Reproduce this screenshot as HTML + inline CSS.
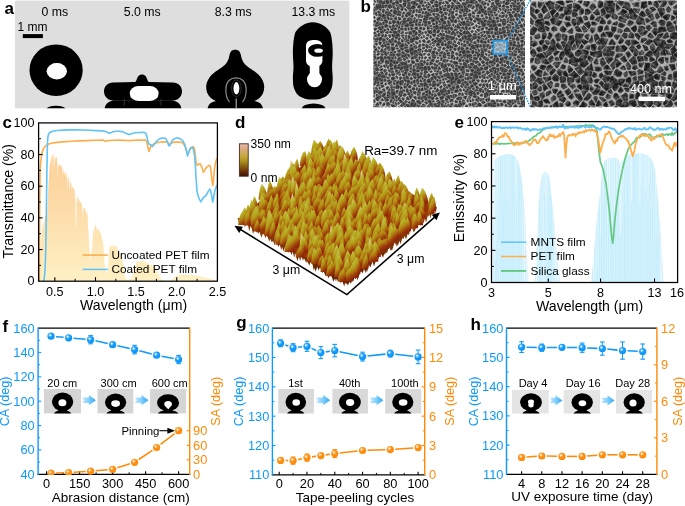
<!DOCTYPE html>
<html><head><meta charset="utf-8"><title>Figure</title>
<style>
html,body{margin:0;padding:0;background:#fff;}
body{width:685px;height:506px;overflow:hidden;}
svg{display:block;font-family:"Liberation Sans", sans-serif;will-change:transform;}
</style></head>
<body>
<svg width="685" height="506" viewBox="0 0 685 506">
<defs>
<filter id="blur04" x="-20%" y="-20%" width="140%" height="140%"><feGaussianBlur stdDeviation="0.4"/></filter>
<filter id="blur09" x="-20%" y="-20%" width="140%" height="140%"><feGaussianBlur stdDeviation="0.9"/></filter>
<filter id="blur06" x="-20%" y="-20%" width="140%" height="140%"><feGaussianBlur stdDeviation="0.6"/></filter>
</defs>
<rect x="0" y="0" width="685" height="506" fill="#fff"/>
<clipPath id="clipA"><rect x="14.9" y="0" width="334.4" height="108.3"/></clipPath>
<rect x="14.9" y="0.6" width="334.4" height="107.7" fill="#dedede" />
<g clip-path="url(#clipA)">
<ellipse cx="56.1" cy="70.2" rx="26.6" ry="25.8" fill="#000"/>
<g filter="url(#blur06)"><ellipse cx="56.8" cy="71.3" rx="10.2" ry="8.2" fill="#fff"/><ellipse cx="56.5" cy="65.4" rx="4.2" ry="2.4" fill="#fff" opacity="0.7"/></g>
<ellipse cx="56" cy="110.3" rx="10.5" ry="4.6" fill="#000" filter="url(#blur04)"/>
<path d="M113,82.4 L135,82 C137.3,81.8 136.2,74.5 142,74.5 C147.8,74.5 146.7,81.8 149,82 L173,82.4 C178,82.4 182,86 182,91.3 C182,96.5 178,100.6 173,100.6 L113,100.6 C108,100.6 104,96.5 104,91.3 C104,86 108,82.4 113,82.4Z" fill="#000"/>
<path d="M104.6,109 C105,104.5 108,101.3 114,100.3 L172,100.3 C178,101.3 181,104.5 181.4,109Z" fill="#000"/>
<rect x="129.8" y="86.1" width="28.8" height="14.8" rx="8.5" ry="7.2" fill="#fff" filter="url(#blur06)"/>
<line x1="124.3" y1="99" x2="124.3" y2="105.5" stroke="#666" stroke-width="0.5" />
<line x1="161" y1="99" x2="161" y2="105.5" stroke="#666" stroke-width="0.5" />
<path d="M235.2,49.4C235.77,49.6 237.7,49.83 238.6,50.6C239.5,51.37 240.07,52.63 240.6,54C241.13,55.37 241.18,57.23 241.8,58.8C242.42,60.37 243.02,61.87 244.3,63.4C245.58,64.93 247.55,66.48 249.5,68C251.45,69.52 254.03,70.83 256,72.5C257.97,74.17 259.95,75.88 261.3,78C262.65,80.12 263.77,82.78 264.1,85.2C264.43,87.62 264.07,90.37 263.3,92.5C262.53,94.63 261.05,96.55 259.5,98C257.95,99.45 254.92,100.67 254,101.2L216.4,101.2C215.48,100.67 212.45,99.45 210.9,98C209.35,96.55 207.87,94.63 207.1,92.5C206.33,90.37 205.97,87.62 206.3,85.2C206.63,82.78 207.75,80.12 209.1,78C210.45,75.88 212.43,74.17 214.4,72.5C216.37,70.83 218.95,69.52 220.9,68C222.85,66.48 224.82,64.93 226.1,63.4C227.38,61.87 227.98,60.37 228.6,58.8C229.22,57.23 229.27,55.37 229.8,54C230.33,52.63 230.9,51.37 231.8,50.6C232.7,49.83 234.63,49.6 235.2,49.4Z" fill="#000"/>
<path d="M207.5,109 C208,104.5 211,101.8 216,101 L254.5,101 C259.5,101.8 262.5,104.5 263,109Z" fill="#000"/>
<path d="M229.5,102 C225,97 224.5,85 229,80.5 C232.5,77 239.5,77 243,80.5 C247.5,85 247,97 242.5,102" fill="none" stroke="#fff" stroke-width="1.2" opacity="0.55" filter="url(#blur06)"/>
<ellipse cx="236.4" cy="88.3" rx="2.9" ry="6.2" fill="#fff" filter="url(#blur06)"/>
<ellipse cx="236.4" cy="88.3" rx="4.8" ry="8.4" fill="none" stroke="#fff" stroke-width="0.6" opacity="0.3"/>
<line x1="236.2" y1="98.5" x2="236.2" y2="108.3" stroke="#ddd" stroke-width="0.9" />
<path d="M312.8,22.2C314.73,22.2 316.63,22.62 318.6,23.3C320.57,23.98 322.9,25.13 324.6,26.3C326.3,27.47 327.75,28.92 328.8,30.3C329.85,31.68 330.32,32.35 330.9,34.6C331.48,36.85 332,40.57 332.3,43.8C332.6,47.03 332.73,50.17 332.7,54C332.67,57.83 332.1,62.75 332.1,66.8C332.1,70.85 332.77,74.78 332.7,78.3C332.63,81.82 332.6,85.07 331.7,87.9C330.8,90.73 329.17,93.5 327.3,95.3C325.43,97.1 322.92,97.98 320.5,98.7C318.08,99.42 314.08,99.45 312.8,99.6C311.52,99.75 314.08,99.75 312.8,99.6C311.52,99.45 307.52,99.42 305.1,98.7C302.68,97.98 300.17,97.1 298.3,95.3C296.43,93.5 294.8,90.73 293.9,87.9C293,85.07 292.97,81.82 292.9,78.3C292.83,74.78 293.5,70.85 293.5,66.8C293.5,62.75 292.93,57.83 292.9,54C292.87,50.17 293,47.03 293.3,43.8C293.6,40.57 294.12,36.85 294.7,34.6C295.28,32.35 295.75,31.68 296.8,30.3C297.85,28.92 299.3,27.47 301,26.3C302.7,25.13 305.03,23.98 307,23.3C308.97,22.62 310.87,22.2 312.8,22.2Z" fill="#000"/>
<g filter="url(#blur06)">
<rect x="306" y="40" width="16.4" height="26.6" rx="6.5" ry="5.5" fill="#fff"/>
<rect x="309.8" y="60" width="9.6" height="15" fill="#fff"/>
<ellipse cx="314.5" cy="79.4" rx="7.5" ry="7.8" fill="#fff"/>
</g>
<g filter="url(#blur04)"><ellipse cx="317.3" cy="50.4" rx="9.2" ry="6.4" fill="#000"/><ellipse cx="318.6" cy="50.7" rx="4.3" ry="2.1" fill="#fff"/></g>
<ellipse cx="313.6" cy="109" rx="11.8" ry="5.6" fill="#000" filter="url(#blur04)"/>
</g>
<rect x="22.8" y="34.1" width="20.1" height="4" fill="#000" />
<text x="32.4" y="31.3" font-size="12" fill="#000" text-anchor="middle" font-weight="normal" >1 mm</text>
<text x="54.9" y="15.6" font-size="12.3" fill="#000" text-anchor="middle" font-weight="normal" >0 ms</text>
<text x="142.3" y="15.6" font-size="12.3" fill="#000" text-anchor="middle" font-weight="normal" >5.0 ms</text>
<text x="233.1" y="15.6" font-size="12.3" fill="#000" text-anchor="middle" font-weight="normal" >8.3 ms</text>
<text x="313.4" y="15.6" font-size="12.3" fill="#000" text-anchor="middle" font-weight="normal" >13.3 ms</text>
<text x="4.4" y="14" font-size="17" fill="#000" text-anchor="start" font-weight="bold" >a</text>
<filter id="grainL" x="0" y="0" width="100%" height="100%" color-interpolation-filters="sRGB">
<feTurbulence type="fractalNoise" baseFrequency="0.55" numOctaves="2" seed="5"/>
<feColorMatrix type="matrix" values="0 0 0 0 1  0 0 0 0 1  0 0 0 0 1  1.6 0 0 0 -0.45"/></filter>
<filter id="grainR" x="0" y="0" width="100%" height="100%" color-interpolation-filters="sRGB">
<feTurbulence type="fractalNoise" baseFrequency="0.22" numOctaves="3" seed="9"/>
<feColorMatrix type="matrix" values="0 0 0 0 1  0 0 0 0 1  0 0 0 0 1  2.2 0 0 0 -0.75"/></filter>
<clipPath id="clipBL"><rect x="373.4" y="0" width="151.6" height="107.2"/></clipPath>
<clipPath id="clipBR"><rect x="530.2" y="0.5" width="146.8" height="106.8"/></clipPath>
<g clip-path="url(#clipBL)">
<rect x="373.4" y="0" width="151.6" height="107.2" fill="#c4c4c4" />
<path d="M408.2,-2.7l-1.1,.2l-.7,-.9l1.3,-1.7l2,1l-.2,.2zM412.9,-1.1l.9,-1.4l-1.1,-2.3l-.3,.2l-.3,.2l-.9,.6l.2,.3l.8,2.9l.4,-.3zM433.6,-3.1l2.5,3.3l.6,-.9l.2,-.6l.2,-2.6l-.2,-.7l-3,-.2l-.1,1.3zM441.2,-4.5l-.7,.6l1.6,1.4l.9,.1l.3,-.5zM450.5,-4.9l-.8,0l-1.1,1.6l.6,1.4l2.1,.3l.4,.4l.1,-2.6zM461.6,-2.4l-1,0l-2.2,-2.4l0,-.2l3.5,-.6l.2,2.8zM478.1,-2l1.1,-.9l.2,-.5l-2.1,-1.2l-1.1,1.2zM483.9,-.8l-.7,-2.6l-.4,-1.2l-1,.5l-.9,1l-.3,.4l2,2.2l.8,-.3zM491.9,-2.9l-.4,-2.7l-2.8,.6l-.4,1.5l1.2,1.1l1.9,-.6zM498.3,-1.8l1.8,.6l2.6,-2.1l-.7,-1.1l-2.4,-1.2zM510,-1.8l-2.4,-1.4l1.5,-1.8l3,1.7l.6,.4l-.1,.1zM520,-2.3l-1.3,-.4l1.5,-1.7l2.9,.4l.5,1.1l-.4,1.3zM372.5,-2.9l.3,1.6l-2.9,.8l-2,-1.1l.8,-.8l.4,-2l3.8,.3zM375.8,-1.7l-2.1,-.6l0,.9l-.2,.1l1.6,.4zM379.1,-1.8l-.3,-.5l-.8,.1l-.6,.7l-.6,1.1l.3,2.4l.6,.7l1.7,-3.7zM384,-.7l-1.7,.9l-1.5,-1.4l-.3,-1.1l2.7,-.8zM386.8,-1l.6,-1.8l-2.7,-1.7l-.4,1.4l.8,1.9l.5,.6zM389.6,-3.4l-1.2,.6l-.4,2l1.2,.2l2.2,-1.2l-.3,-.7l-.7,-.6zM394.2,.6l-1,-.2l-.7,-1.8l.2,-.8l.6,.2l.5,.1l.7,2zM395.9,.6l-.8,-2.6l1.4,.2l1.3,1.5l.4,.6zM398.9,-1.1l-1.4,-1.6l.8,-1.1l.3,-.3l1.6,1.5l-.1,.5zM402.4,-1.1l3.6,.9l.1,-1.8l-1.1,-1l-1.3,-.8l-.7,.1l-.7,1.2l-.9,.8zM408.3,-2.1l-1.3,.7l-.3,1.5l.5,1.7l1.8,-.5l1.5,-.6zM409.4,-1.8l1.5,1.6l.6,0l-1.1,-2.8zM414.8,-.3l.3,-1.8l3.4,-.7l-.2,.7l.2,.1l-3.3,2.7zM416.6,1.8l-.7,-.8l2.4,-2l-1.2,3.1zM424,.2l.2,.4l1.6,-3.5l-1.6,-1.7l-2.6,3.1l.1,.5zM426.6,-2l.9,-.5l1.2,.3l-.1,.2l.3,2.1l-1,.2l-.5,.6l-1.7,-.9zM432.5,-2.8l-1,3l-2.1,-.1l-.1,-2.5l3.6,-1.4zM433.2,-2.5l-1.6,3.1l2.2,1.2l1.5,-1.7zM439.2,-3.8l-1.2,-.1l.2,2.1l3,-.6zM441.7,-1.6l-3.5,1l-.1,.5l1.4,.9l2,0l1.1,-.6l-.4,-1.3zM444.7,-2l-.4,.4l.1,1.4l.5,.1l1.7,0l1.5,-1.4l-.8,-1.4l-2.7,.4zM450,2.2l1.2,-1.7l0,-.6l-2,-1l-1.2,1.8zM455.6,-4.2l.5,.1l-.4,2.7l-2.4,-.3l-.1,-1.9zM460.1,-1.9l-2.5,-2.7l-.9,.5l-.4,3.2l.7,1l.4,.1zM461.5,-.8l-.8,-.3l-1.7,1.4l2.1,1.5l.7,-.2zM463,-1.2l.2,2l1,.2l.7,-1l.4,-1.5l-.1,-.2l-2,-.1zM466.5,-1.5l1.8,.6l.8,.7l-.5,2.2l-2.6,-1.6zM469.3,-1.4l.7,.7l1.9,.1l1.3,-1.3l-3.1,-.8zM477,-1.3l-1.9,-1.2l-.4,0l-.1,.7l1.1,1.2l.8,-.1zM478.5,-.8l1.5,-1.5l1.9,2.4l-2.2,2.4l-.4,-.3l-1.4,-2zM484.3,-.6l-.5,-3l2,1.2zM486.7,1l.2,.1l1.5,-2.2l-.3,0l-.8,-1.5l-1.1,.8l-1.3,1.4l-.1,.4l.6,.5l.2,0zM492.2,-1.2l-1.8,.2l0,.3l1.4,1.5l1.8,.3l-.2,-.7zM493.4,-2.3l2.1,-1l.6,1.6l-1.7,1.5l-1,-1.9zM495.2,2.8l-.1,-1.4l-.5,-.7l2.2,-2.1l1.1,.3l1.7,.7l0,.2l-.8,1.9zM501,-.7l-.2,-.1l2.3,-1.9l.1,.3l1,.3l-.1,.9l-1.9,1.3zM509.1,-1.1l-1.8,-1.8l-2,.7l.3,1.2l.4,2.1l3.5,.8zM510.1,-.3l0,1.8l.4,.3l.4,-.1l1.3,-2.9zM513.4,-2.5l.1,.3l.1,.1l1.5,.1l-.4,.5l-1.3,2.4l-1.4,.1zM516.9,1.2l1.9,0l-.4,-2.7l-.5,-.4l-1.6,-.2l-.4,.2l.4,.5zM520.7,1.7l-.7,-.4l0,-2.3l2.7,.3l0,1.3zM525.1,.9l2.3,-1.2l-.9,-1.5l-1.3,-.5l-.4,.1l-.8,1l.3,1.5zM372.6,1.8l0,-2.5l-.1,0l-1.8,.5l.5,2.2zM376,2.8l-.3,-.3l-1.9,-.4l-.1,-2.3l1.7,.9zM381.2,3.7l.3,-.1l.8,-2.3l-2.1,-2.1l-1.9,4.3l.3,.1zM383.8,4.3l-1.8,-.5l.7,-2.3l1.8,-1l.6,.3l.4,2.8zM387.9,4.2l1.4,-.6l-.1,-.1l-.5,-2.8l-1.2,-.9l-1.7,.3l.4,3.5zM392.4,1.9l-.7,-3l-2.4,1.9l.8,2.2l.7,.4zM394.7,4.9l.4,-.7l-.5,-1.9l-1.7,0l-1.2,1.5l.7,1zM394.9,2l1.3,1.9l1.9,.4l1.1,-.9l-.9,-2.5l-2.6,.3zM399.9,2.5l1.3,.1l.9,-.8l-.7,-1.8l-.5,-.5l-1.6,.8l-.1,.4zM403.7,2l2.5,0l.3,0l-.4,-1.5l-3.3,-.6zM411.6,4.2l-1.3,-2.1l1.1,-.5l.6,-.2l.4,-.1l-.1,2.5zM412.9,5l-.1,-4.2l.9,.4l1.2,-.1l1.4,1.3l-1.5,2.9zM420.8,-.7l-.4,-.3l-1,-.6l-.1,.1l-1.2,3l1.1,.7zM419.6,3.4l-.3,0l2.1,-3.7l1.9,1.6l-.8,1.7l-1.2,1.5zM424.6,1.5l.2,.1l1.4,.5l.2,.7l-1.2,.8l-1.4,-.7zM430.1,5.2l.9,-.4l-2.4,-2.4l-1,-.3l0,1.2l.7,1.7l2,.7zM431.6,3.9l-2,-2.2l.7,-.4l1.3,-.3l1.8,1.1l-.4,1l-.1,.6zM437.9,1.6l-1.1,-1.1l-.6,.5l-1.4,.9l-.1,1l3.2,.4zM440.8,5.3l-1.6,.5l-.4,-1.9l.1,-2l2.8,-.1l-.8,3.1zM442.4,4l.2,-1.9l1,-.9l.2,.8l.8,1.4l-1.4,.6zM446,3.3l-1.1,-2l2.5,0l1.4,1.7l.1,.3l-1.8,1.1zM454.3,5l-2.6,-.8l-.4,-.6l-.2,-.3l1,-1.6l2.1,2.1l.1,.6zM455.3,-.3l-2.4,.1l-.2,0l-.2,.7l2.8,2.7l1,-2.9zM456.8,4.2l3.7,-.4l-.5,-.7l-2.4,-1.7l-.4,-.5l-.8,2.7l0,.7zM462.5,2.6l-.3,.8l-.1,.6l-.2,0l1.1,1l2.9,.2l1.1,-.8l-2.9,-2.1zM466.1,1.2l2.6,1.5l.2,.3l-1.7,.9l-2.1,-1.8zM472,-.6l-2,1l-1.2,2.3l.8,.2l1.2,.4l2.1,.5l.8,.2l.1,-.5zM475.6,.4l-1.8,1.7l-1.6,-2.6l1.2,-1.2l.2,.4zM477,1l.6,1.8l-2.8,1.2l-.5,-.4l0,-.3l1.5,-2.2zM483.5,.7l-1,.2l-2.2,2.1l.8,.5l.8,1.1l1.7,-3zM486.4,2.7l-.5,1.9l-1.3,.5l.6,-2.9zM490.9,1.7l-1.7,-1.9l-1.1,1.9l1.3,.8zM494.1,3.4l-.1,-.3l-.1,-.9l-1.7,.2l-1.1,.8l.3,1.6l2.8,-1.4zM496.5,4.8l-1.1,-1.3l.3,-.3l3,-.9l2,1.3l-4,1.9zM500.9,3l1,.8l-.2,-.3l-.1,-1.8l-1.2,-.7l-.7,1.1zM502.8,3.6l1.3,-.3l1,-1.8l-.6,-1.1l-1.8,1zM509.6,2.9l.1,.3l-1.1,1.4l-2.2,.6l-2.1,-1.1l2,-2.4l2.9,.7zM511.3,2.9l-.7,.2l1.9,1.7l2.6,-1.3l.1,-.2l-2,-.9l-1.6,.1zM516.3,3.3l-2.7,-1.4l1.9,-3l.9,3.8zM520.1,2.5l-1.1,-.2l-2,.7l-.3,.4l.2,.2l.5,1.5l2.5,-1.5zM522.3,4.7l.7,.3l1.3,-1.9l0,-.6l-.8,-1l-2.2,1.4l-.3,.7l.8,1.3zM527.5,3.8l2,-1.6l.1,-1.5l-1.1,.1l-2.5,1.2l.2,.5zM370.8,6.8l1.5,-.5l2.2,-1.6l.5,-.6l-2.3,-1.1l-1.5,.5l-.5,.1l-.1,2.8l.5,-.1zM375.7,10l-.4,-3.8l-1.6,1.6l1.9,2.2zM381.1,4.5l.5,3.8l-3.2,.5l-.5,-4.7zM385.4,8.2l-.4,-.2l-.6,-3l1.4,-.3l1.8,.1l-1,2.2zM389.8,8.6l.5,.3l-.8,-4.7l-1.2,1.1l-.9,2.2zM393.4,8.4l-.2,-.1l-.8,-2.8l2.1,.3l.1,.2zM396.6,6.5l1.2,-1.2l0,-.2l-1.7,-.3l-.3,.5l-.2,.3zM399.2,5.3l-.5,-.4l1,-1l1.5,.4l2.4,3.4l-3.2,-.5zM402.7,4.1l.6,-1.4l3.4,-.2l-.4,1.1l-.7,2.7l0,.2l-1.5,.7l-.1,0zM410.3,6.1l-2.6,-1.8l-.8,2.1l3.2,.2zM411.3,6.2l-3.9,-2.9l0,-.5l-.1,-.3l2.1,-.6l1.4,3.4zM416.5,6.1l-1.2,-1l1.4,-1.9l.5,-.2l1,.8l.3,0zM417.2,7l1.8,-2.5l2,.9l-.2,1.6l-1,1.2l-1.3,0l-1.4,-.6zM421.9,5.4l1.2,-1.8l1.2,1.7l.2,1.7l-2.1,-.4l-.3,.1zM425.6,6.5l.1,-1.2l1.2,-1.3l.4,1.4l-1.2,1.9zM429.8,6.4l-1.7,-.5l-1.6,1.9l.6,1l2.3,-1.2zM434.7,7l.3,.1l-1.5,-2.1l-1.3,.5l-.5,.6l1.7,1.6zM434.4,4.7l-.4,-1l4.1,.5l.6,2l-.7,.8l-2.2,0zM443.5,6.8l-.5,-1.2l-1.1,.2l-.2,.2l1.2,1.7zM444.8,6.6l1.4,-.1l.3,-1.1l-1.3,-1l-1.1,1.1zM450.3,5.1l-.7,-.8l-2.3,1l.1,1.5l-.3,1l1.8,.4l1.2,-.9zM454.4,6.1l-2,2.3l-1.5,-1l.4,-2.5l3.3,.7zM459.6,8.4l.5,-.5l.6,-3l.2,-.3l-3.9,.7zM463.1,8.2l-.3,-2.7l-1.3,-.7l-.7,3.3l2.3,.5zM466.1,7.3l.5,-.1l-.2,-1.2l-2.8,-.4l.7,2.4zM467.3,5.7l.2,-1l1.2,-.6l1.5,-.2l-.8,3.7l-1,-.2l-.9,-.6zM472.6,4.8l-2,-.6l-.4,3.6l.5,0zM475.2,4.7l3.8,-1.5l.3,.5l.5,.8l-2.2,3.1l-1.6,-.2zM482.4,6.6l-.7,-1.2l-1.4,-.6l-1.9,2.8l1.1,1.9l.3,0l2.6,-1.9zM485,1.3l-.5,.5l-2,2.9l.7,1.1l.9,0zM489.1,5.4l-.1,0l-1.2,.5l-.6,-.9l.2,-2.2l.1,0l1.5,.9zM494.5,4l-4.1,2.2l0,.2l1.4,1.8zM495.7,5.6l-1.1,-.7l-.1,.1l-2,3.8l-.2,.5l.4,.1l.2,-.2zM497.6,5.6l2.9,-1.4l.5,.9l-.5,1.8l-2,.3zM502.6,4.9l-1.1,2.2l.4,.1l3,.2l.5,-1.5l-1.4,-1.3l-1.3,.5zM507.2,8.5l-.8,-.5l.1,0l-.4,-1.9l2.3,0l.8,1.9l-.4,.1zM512,7.7l-1.6,-.4l-.7,-1.8l1,-1.1l1.2,1.2l.2,1.5zM517,6.9l-.8,.2l-2.7,.4l-.9,-2.4l3.5,-.6l.6,1.6l.4,.3zM520.7,5.3l-.6,-1.1l-2.8,1.7l.1,.4zM521.3,5.9l-1.4,2.1l-2.1,-1.1l-.1,-.5l3.4,-.8zM526.9,4.8l-1.8,-1.7l-1.9,2.4l1.2,1.1l2.9,-.2zM374.3,11.7l-1.5,.2l-2.2,-4.5l1.9,.3l3.1,3zM377.7,4.5l-.2,0l-.8,.1l-.2,-.8l-.6,1.3l.4,4.8l-.2,.9l1.5,-1.6l.7,-.1zM380.9,11.3l-1.9,-1.5l0,-.5l2.2,-.5l0,.4zM382.3,8l-.4,-.2l0,-2.9l.1,-.7l1.6,.6l.5,3.4zM387.8,10.7l-1.3,-.6l-.1,-.6l.9,-1.2l1.3,1.2l-.3,1.3zM392.3,8l-1.7,-.3l-.9,-3.6l.3,.3l.8,-.1l.8,1.1zM393.7,9l1.3,-2.3l.9,1.3l.1,1.4l-2.2,-.2zM396.8,8l1.7,-2.6l1.2,2.9l-1.1,1.5l-.9,.1l-1.1,-.5zM400.4,9.7l1.6,1.5l1.2,-1.2l.2,-1.8l0,-.1l-2.6,.4zM406.9,10.8l-.6,.6l-.3,.2l-1,-1.2l-.5,-1.9l1.4,.1l1.4,1.5zM408.3,9.5l-2.3,-2.6l.7,.2l3.6,.2l1.1,1.4zM412.2,9l2.6,-.3l.6,-1l.2,-.6l-1,-1.5l-1.7,-.2l-1,.7l-.5,.2l-.4,.8l.6,1.5zM416.5,9l-.9,.4l.5,2.7l1.3,.3l.1,-2.9zM420.4,8.6l.9,2.7l1.2,-1.4l-.7,-1.9l-.1,0zM426,9.7l-.9,.6l-1.5,-.3l-.6,-2.3l1.8,.2l.9,.4l.5,.8zM429.4,11.8l-.1,.3l-.3,-.3l-1.5,-1.5l-.3,-.8l2.7,-.8l.9,.9zM432.4,8.9l-1,.1l-.7,-1.1l.1,-1.4l.1,-.2l1.9,2.1zM433.7,11.8l-.8,-2.4l.8,-.3l1.5,-1l.2,4zM442.4,8.3l-.4,1.8l-2.1,.3l-.8,-2.8l.1,-1.1l1.7,0zM444.5,7.6l1.7,.1l.5,.3l-1.4,2.9l-1.3,0l-1,-.2l.1,-2.3zM447.4,8.6l1,.3l-.1,.3l-.2,2.1l-1.7,-.7zM451.8,8.8l-.1,1.1l-.6,.9l-1.4,-1.9l.1,-.2l.8,-.4zM454.6,7.1l-1.6,1.7l.2,1.2l.9,.5l1.4,-1.3zM458.8,8.5l-2.7,-3.3l-.3,0l-.8,.3l0,.6l1.1,2.8l2.8,.7l0,-.6zM459.6,9l.7,-.3l2.5,.5l.6,1.1l-1.3,1.6l-2.5,-2.4zM465.6,11.2l-1.9,-1l-.4,-1.2l.5,-.2l2.8,-1.1zM468.5,12.2l1.6,-.6l.6,-1.1l-.7,-.7l-.3,-.3l-.8,-.2l-.4,2.6zM473.4,5.5l-2,2.7l.9,1.1l.8,-.1l1.7,-1.7l.2,-.1l-1,-1.5l-.3,-1zM476.2,8.1l.6,3.5l1.5,-2.2l-.9,-1.2l-1.1,-.2zM482.8,8.1l-2.9,1.7l1.9,2.6l.7,.5l2.2,-3.2zM485.6,6.4l1.1,.6l-1,1.7l-.9,.3l-1,-1.4l.1,-.8l.4,-.6zM491,9.5l-1,.2l-2,.4l-1.1,-.4l1.4,-2l1.5,-.5l1.6,2.2zM496.3,5.6l-3.6,4.3l4.8,-2.1l.3,-.1l-1.2,-1.6zM497.2,8.4l.1,.3l-.5,2.5l-3.7,-.7l-.4,-.5l.5,-.1zM497.9,11.8l.4,-1.5l1.4,1.7l-.5,.5l-.6,.3l-.3,-.4zM502,8.4l.7,1.8l.4,.5l2.1,-2.1l-.1,0zM507.4,9.4l1.5,-.3l.4,1.4l-2,.2zM511.7,9l-1.6,-.4l-.2,.2l.2,1.7l1,.9l.8,-1.7zM516,7.9l-2.7,.3l-.9,.2l.7,1.2l2.8,1.6l.2,-.2zM520,8.8l.4,.6l-3.8,1.2l-.1,-3l.6,-.6zM522,6.3l.6,.4l.6,.8l-.2,2.4l-1.7,-.4l-.4,-.4l.1,-.6zM526.9,10.6l.7,-2.3l-.5,-.5l-2.2,.2l-.8,2.3l.4,.1zM369.2,12.8l-.6,-3.2l1.7,-1.6l.2,-.5l1.4,4.1l-2,.6zM373.6,15.1l.5,-.2l.4,-2.5l-1.8,-.1l-2.3,.8zM381,12.9l-3,.3l-.7,-1.8l1,-.7l2.1,1.6zM383.5,12.9l-1,-.1l-.3,-.1l-.2,-.5l.4,-3.1l1.8,.5l.8,-.1l-.2,1.1zM386.5,14.7l-1.7,-1.8l1,-1.8l2,.6l-.3,.9zM389.8,14.5l1.6,-1.2l-2.6,-2l-.7,.2l.1,1.2zM391.7,11.9l.3,-.1l.5,-1.8l0,-.2l-.1,-.2l-1.6,-.1l0,.3l-1.1,1.3zM393.7,9.9l-1,3.3l1.2,.5l1.8,1.2l.4,0l.9,-2.7l.4,-1.5l-1.5,-.1zM397.8,10.7l.3,1.3l2.9,1.3l.5,-1.3l-2.6,-1.5zM402.2,13.5l.6,-.9l1.1,-1.2l1.1,1.5l.2,0l-1.1,1.3l-1.8,.2zM408.4,11.9l-1.5,.6l4,1.7l.4,-.7l.4,-.7zM408.6,11.2l2.7,.9l.2,-2.4l-.4,-.4l-1.9,.9zM412.4,10.1l2.3,-.4l.1,2.8l-1.4,.9l-1,0l.1,-1zM418.7,9.8l-.6,3l.7,.1l1.8,.1l0,-.8l-.7,-3.3zM424.2,11.8l-1,2.5l-.6,-.2l-1.2,-.9l.3,-.6l1.2,-1.5zM424.6,14.2l-.4,0l1.1,-2.6l1.1,-.6l1.8,1.6l-2.6,1.5zM433.2,11.9l-1.7,.6l-1.5,-.1l1.4,-2.8l1.1,.3zM433.8,13.1l-1.6,.6l1.1,2l.7,.7l.2,.2l.9,-1.8l.5,-1.2l-.5,-.4zM436,11.7l.6,.4l1.2,-.4l1.6,-1.3l-1.4,-2.5l-2.1,-.1l0,.1zM442.4,11.2l-2.3,-.4l-1.4,1.7l2,1.4l2.4,-1.6l-.2,-.4zM445.5,11.8l1.8,.9l.3,-.1l-.9,2.6l-1.9,-.9l-.4,-1.7l-.1,-.4zM448.8,12l1.2,.4l1,-1.1l-1.9,-1.7l-.4,2.5zM452.6,14.8l-1.3,-.2l-1,-2l1.2,-1l1.1,-.6l1.5,.4l-.1,1.2l-.5,1.7zM457.6,10.5l-.1,1.6l-2,-.3l-.3,-.6l.9,-1.1zM459.7,10.6l1.9,1.8l.1,.8l-.3,.4l-.2,.1l-1.4,-.1l-.6,-1l.1,-2.2zM465,11.6l-.1,.5l-2.2,.9l.3,-.9l.7,-1zM465.8,11.3l.3,.7l1.2,.9l.9,-4.6l-1.1,-.8l-.4,.6zM472.4,11.1l-.4,1.6l.4,1.2l2.4,.3l.2,-.9l0,0l-1.8,-2.1zM475.6,9.2l.5,2.9l-.2,.4l-1.7,-1.8zM476.6,13.6l3.1,.3l1.8,-1l-1.9,-3l-.3,.1l-2,2.8l-.4,.6zM486.6,11l-.5,-.8l-1.2,.1l-1.9,2.5l1,1l2.4,-2zM488.9,12.6l1.1,-2l-2.6,.3l.1,1l.4,.7zM491.9,10.2l-1.3,.1l-1.1,2.7l1.8,.7l1.1,-.4l.2,-2.5l-.4,-.4zM493.6,11.5l2.4,.8l.2,.5l-2.2,1.1l-.2,-.7zM498.4,8l2.2,-.1l.1,.4l.8,2.1l-1.2,.4l-1.5,-2.2l-.4,-.4zM505,13.6l-2.1,-1.8l-.6,-.2l-1,.8l-1,.7l1.7,.9l3,-.4zM505.8,12.9l-1.8,-1.7l1.9,-2.4l.8,.9l-.2,1.4l-.4,1.4zM507.1,13.4l.6,-1.8l1.8,-.2l1.2,1.4l0,.4l-2,.4zM515.2,11.8l-.1,.7l-1.9,1.2l-1.1,-.7l-.4,-.3l1.2,-1.9zM520.4,10.4l-.8,-.2l-3.1,1l.1,.3l.1,.7l.9,.3l.9,-.2zM523.2,13.5l.2,-2.1l-.1,-.4l-2.1,-.4l-1.2,2.1l1.7,2.7zM526,14.8l.8,-3.1l0,-.3l-2.4,.1l-.7,1.8zM371,16.4l-1.3,-.4l0,-2.2l0,0l.2,-.3l3.2,1.8zM376.6,16.2l-1.4,-1.8l-.1,-1.8l1,-.5l0,-.6l0,.3l1,1.7l.3,1.9zM380.9,16.4l-2.2,-.2l-.2,-2.3l3.1,-.5l0,.5zM385.9,15.8l-.5,.6l-3.8,.8l.6,-.5l-.9,-.1l1.3,-2.4l1,-.8l2.3,1.9zM389.8,14.9l-1.9,-1.9l-1,2.1l0,.6l2,.3zM390.4,15l1,-.8l.5,-.2l.7,.5l-1.2,2l-1.1,-.1l-.7,-.5zM393.4,17.5l-1.2,-.9l1.2,-1.9l1.5,.9zM401,13.9l-3.3,-1.5l-1,2.8l1,.2l2.9,.5l.3,-1zM404.2,16.5l-.6,-1.1l-1.6,-.1l-.5,.9l.6,1.7zM406.9,17.5l1.2,-1l-2,-3l-1.1,1.6l.3,1.4zM406.7,12.5l-.5,.4l.4,.4l2.1,2.7l.8,.1l1.6,-1.5zM412.1,14.3l.7,.4l.9,.9l-1.3,2.1l-1.9,-1l0,-.2l1.1,-1.4zM416,13.7l1.3,.2l.2,.5l-.5,2.7l-.4,-.4l-1.4,-1.3l-.2,-.8zM418.6,18.3l3.1,-3.4l-1.3,-.6l-1.7,.2l-.7,3.4l.1,.3zM423.9,15.4l1.8,0l2.4,1.6l-.3,2.5l-3.9,-2.8zM428.6,16.9l.2,-.2l.7,-4.1l-.6,0l-3.4,2.4zM430,13.5l0,.1l-.7,2.5l2.4,-.6l-.8,-1.7zM438.3,16.8l-2.4,-1.1l-1.3,1.4l.3,.3zM439.8,16.6l-.3,-1.5l-1.2,-1.6l-1.7,-.1l-.3,1.5l3,1.5zM440.5,16.8l.3,-1.4l2.5,-2.4l1,1.9l-1.9,2.3l-1.7,-.4zM450.1,15.3l-1.7,.6l-.2,-.4l.5,-2.1l1.1,0l.7,1.3zM451.7,18.6l1,-3.3l1.2,0l1.6,2.2l-.1,.1l-1.8,1.6l-1.3,-.8zM456.2,16l1.1,-.7l.7,-.7l-.6,-1l-1.6,0l-.8,1.3zM459.4,14.9l2.1,-.1l.9,1.8l-2.1,1.6l-1.8,-2.2zM467.3,13.6l-.5,-.4l-1,-.5l-2.3,.7l-.3,.5l3.8,0zM463.9,16.8l2.9,-1.4l-.6,-.8l-3.3,0l-.2,.2l.6,1.6zM468.2,13.9l2.2,-1l1.1,1.4l-.6,2.3l-2.3,-.4l-.6,-1l-.2,-1zM472.2,16.6l.2,-1.7l2.3,.9l.1,.6l-.6,1.2l-.9,.4zM479.1,16.9l0,-1.9l-2,-.1l-.7,.5l.1,.8l2.1,1.1zM481.7,16.8l1.6,-.6l.1,-.5l-.5,-.8l-.4,-1l-.6,.1l-1,.8l.1,2.2zM487.2,13.4l-.2,-1.2l-3.2,2l1.2,1.2l2.1,-.5zM489.2,13.6l1.5,.8l-1.2,1.2l-.5,.2l-1.1,-.7l.2,-1.7zM490.4,15.8l1.7,.9l1.3,-1.2l0,-.9l-.8,-.6l-1.1,.6zM494.5,14.7l.2,.6l1,1.2l1.4,-.7l.6,-1.9l-.3,-.3zM499.9,17.3l-1.2,-1.2l.5,-1.6l.6,-.2l1,1l-.1,1.8zM501.8,17.6l-.5,.5l.5,-2.9l3.1,-.6l-.9,2.7zM505.2,16.9l.8,-2.5l0,-.2l.4,-.1l1.1,.8l.3,.8l-1.7,2.6zM509.3,15.9l.6,2.4l2,-.7l1.6,-.5l-1,-2.2l-1.2,-1.4l-2.8,1zM514.3,16.7l-.4,-1.9l2.2,-1.8l1.1,.3l.4,4.2l-2.5,-.3zM521.2,17.1l-1.5,1l-1.2,-1.2l-.8,-3.3l1.5,.4l2.1,1.6zM525.2,15.7l-1.7,-1.3l-.8,1.4l-.4,1.2l1.9,.3l1.5,-.6zM526.5,15.3l1.2,-2.4l.9,0l.5,.5l.2,2.8l-1.4,.1l-.8,-.1zM371.1,17.7l.7,2l-.5,.6l-.1,.3l-3.3,-.3l.1,-2.2l1.7,-1.2zM372.7,17.3l.6,1.2l1.9,-.3l.1,-.9l-1,-1.2l-.4,.3zM381,17.4l-1.5,3.4l-.5,.7l-1.7,-1l-.8,-1.5l.7,-1.2l1.1,-.5l2.4,-.2zM382.9,19.9l-1.2,-1.9l0,.4l-1.2,2.6l1.3,0l1.5,-.5zM386,16.9l-3.7,.6l1.8,1.8l1.6,-.5zM388.8,16.7l.4,.8l.3,2.6l-.9,.1l-1.6,-1.6l-.5,-1.6l.5,-.9zM390.2,17.7l1.3,0l1,.8l.2,.9l-1.5,.9l-.8,-.4zM396.1,20.2l.9,-.3l-.6,-3.3l-.3,-.6l-.4,.5l-1.3,1.6l-.5,1zM401,18.7l-.6,-1.2l-2.4,-.5l.3,2.9l1.2,.3l1.3,-.6l.4,.1zM406.2,18.3l-.9,1.6l-2.5,-.3l.2,-1l1.8,-1zM407.5,18.5l1.3,-1l.6,0l.5,-.3l-.2,3.6l-1.9,.8l-.8,.2l-.5,-1.4zM412.3,19.3l.2,-.3l-2,-1.3l-.4,2.9l1.9,-.1zM413.4,19l-.2,-.3l1.2,-1.8l1.7,1.5l-1,.4zM423,15.8l0,-.4l-.5,0l-2.2,2.2l2.2,.1l.7,-1.1zM422,20.7l-.3,-1.4l-2.2,0l-1.1,-.3l.9,1.6l2.3,.6l.2,.2zM423.3,20.9l-.1,-2.2l.9,-1.3l3.6,2.4l-.5,.2l-.3,.3zM428.8,19.4l0,.2l1.5,-.2l2.8,-1.9l-1.2,-.5l-2.5,.4l-.4,0zM430.9,20.3l3,-2.9l.1,.5l.4,.3l1.7,2.2l-1.3,.9l-2.7,1zM439.7,17.4l-.3,-.2l-4.2,.6l1.3,2.2l1,0l1.4,-.7l.5,-1.6zM440.8,17.9l1.6,-.2l1.9,2.4l-2.3,1.9l-2,-2.5zM447.1,19l-.7,.3l-1.6,.3l-1.3,-2l1.3,-1.8l1.9,1l.1,.7zM451.1,18.6l-.9,-2.1l-2,.9l-.1,1.8l1.2,.3l1.7,-.7zM451.5,17.8l-.6,-2.1l.4,-.5l1.2,0zM456.8,17.8l1.3,-.8l1.2,1.4l.4,.7l-2,.1l-1.3,-1.4zM462,20.6l.4,-.1l.8,-.6l-.1,-1.7l-.3,-.6l-1.7,1.2l.1,.6zM465.8,19.5l-.5,.5l-.2,-.3l-.4,-2l2.1,-.9l.4,.7l.3,.3zM468.9,19.9l-.7,-1.6l-1.5,1.7zM470,19.9l1.1,1.3l0,-.4l.6,.1l1.1,-2.1l-1.9,-1.4l-2.4,-.7l-.1,.7zM477.4,20.9l.1,.4l-3.1,-3.3l1.5,-.8l3.2,1zM481,19.3l-.6,2.4l-2.6,-.5l1.4,-3l1.1,-.1l.6,.3zM484.7,18.8l-.9,-1.3l-2,.9l.3,.6l.8,.7zM487.8,19l.1,-2.1l-.8,-.4l-2,0l-.2,.6l.9,1.4l1,.6zM490.7,20.1l.8,-.6l0,-1.7l-1.8,-1.7l-.5,.5l-.5,3.1zM494.8,17.4l-.2,1.3l-1.8,-.1l.1,-.9l.9,-1.3zM499.8,18.4l-2.1,-1.7l-1.7,.7l-.3,1.6l.4,.8l3.6,-1.1zM505.9,21.7l.2,-1.1l-.6,-1l-1,-1l-1.8,.3l-.3,.6l2.5,1.6zM507.1,19.8l1.7,-.9l.1,-.4l-.6,-1.3l-1.7,2zM509.8,19.3l.3,-.7l2.1,-.2l-.3,2.9l-1.5,-.4zM513.6,21.2l1.1,-.4l-.4,-2.1l-.6,-.5l-1,.6l-.3,2.5l.3,-.2zM519.1,19.3l-1.5,1.5l-1.5,-.6l-.3,-1.9l1.9,-.2l1.2,.8zM523.6,18.8l.2,.8l-.8,1.7l-.8,.5l-1.3,-2.3l-.4,-.5l1.2,-.8zM526.5,17.6l.5,.3l.1,1.2l-.7,.7l-.9,-.7l-.2,-.7zM371.7,21.6l.8,1.1l-.9,1.9l-1.2,-.6l1.1,-2.3zM375,22.9l-.1,.2l-1.4,-.8l-.9,-1.2l.5,-.6l2.4,-.6l.7,1.2zM378.5,25l-3,-1.7l1.6,-1.9l1.5,.8zM383.7,21.5l-1.5,1.1l.5,2.1l.9,.2l1.4,-1.6zM386.2,19.3l-2.3,.7l-.1,.8l2,2.3l1.7,.1l.3,-2.2zM389.2,21.5l-.4,1.5l.1,1.2l1.9,-.2l1,-.4l-1.1,-2.1l-.8,.1zM394.4,24.1l.9,-1l.7,-1.9l-2.8,-1.3l-1.3,1.3l1.1,2.6zM396.2,22.9l2.7,1.8l.1,-3.6l-1.6,-.6l-.7,.9zM400.4,24.9l-1.1,-.1l0,-.1l.3,-2.8l1.7,-.8l.1,1.3l-.7,2.1zM402.5,20.6l-.6,-.1l.4,1.3l1.9,2.7l2.5,-2.4l-.6,-1.5zM409.7,24.7l2.8,-1.7l-.3,-1.7l-2.3,-.1l-1.3,1.3zM413.2,20l-.5,1.3l.2,1.4l1.4,.5l.1,0l.7,-3.7zM417.5,22l.2,-1.3l-.1,-1.6l-.2,-.1l-.4,.3l-1.2,.2l-.7,3.4l2.3,-.7zM418.4,22.6l.4,-1.3l2.6,1l-.8,1.1zM427,23.7l.4,-2.7l-4,.3l-.8,.8l1.9,1.3zM427.9,23.8l.3,-2.5l.3,-.2l1.6,.1l.8,1.3l-.4,1.4l-1.9,.5l-.4,0zM432.2,24.6l.5,-1.8l1.9,.1l.5,1.5l-.3,.7l-2.3,-.1zM437.1,21.2l1.2,1.7l-1.1,1.4l-1.3,0l-.2,-2.1l.6,-1.4zM439.3,20l2.1,2.1l0,.7l-2.3,-.2l-1.4,-2.1zM446.2,23.6l-1.3,.8l-.6,-.1l-1.9,-.3l0,-.8l0,-.8l2.1,-1.7l1.4,.4zM449,20.7l1.8,2.7l-.1,.3l-2.8,.1l-.4,-.5l-.1,-2.5l.4,-.8zM451.6,19.2l-1.8,.9l2,2.7l1.9,0l-.2,-3.3zM454.3,20l.2,2.7l1.6,.6l.5,-.2l.2,-.4l0,0l.3,-2.1l-1.2,-1.5zM460.9,21.4l-1.2,.6l-1.2,.4l-.3,-1.9l1.6,-.1zM459.9,23l1.9,2.4l.1,.2l-1.5,.5l-2.2,-2.2l-.1,-.1zM469,20.6l.4,.7l-2.3,1l-.7,.1l-.4,-1.3l.2,-.4zM467.8,22.6l2.3,1.4l1.1,-2.6l-.5,.3zM473.9,20l.7,-.4l1.6,1.7l-.8,1.1l-.3,.4l-2.3,-1.6zM480.3,24.4l-.1,-1l-.3,-1l-1.7,-.2l-.3,-.2l-.5,1.4l1.1,.6zM483.4,22.3l-1.8,1.2l-1.1,-1.4l1,-2.5l1,1.2zM486.7,20.5l-1.3,-1.3l-2.1,1.4l.6,1.5l2,0zM490.4,23l-3.1,-.8l-.8,.1l1,-1.6l1.2,-.1l1.7,.1l.6,2zM491.8,23.1l.2,0l3.8,-.2l-.5,-2.5l-.6,-.7l-2.8,.1l-.9,.8zM496.6,22.6l-.1,-1.8l2.4,-.8l-.2,2.1l-1.5,.7zM501.4,21.8l.2,-2.2l-.5,-.6l.1,-.3l-.8,.4l-.2,.1l-.4,2.5l1.4,-.1zM501.9,22.7l.3,-2.8l3,2zM506.7,21.8l.1,-.8l2.1,-1.1l.6,1.3l-2,1.8l-.4,-.1zM510.8,23.6l-1.7,-.7l1.4,-1.3l.9,.5l.1,0zM515.6,23.7l1.5,-.3l-.3,-1l-1.6,-1l-.9,.7zM519.7,20l-1.1,2.5l-.6,1l1.3,.6l1.9,-1l-.1,-.4zM526.8,22.9l-.5,-1.8l-1.5,-1.4l-.6,2.5l2.1,.8zM528.8,22.5l0,-1.6l-1,-.7l-1.2,.8l.7,1.8zM371.4,25.7l1.3,1.4l-.5,.2l-1.4,.1l-1.3,-1l.7,-.9l.1,-.1zM373.6,26.3l-.1,.4l-1,-1.4l.8,-1.9l1.2,.7zM378.7,25.6l-.2,.3l-1.2,.9l-2.5,-.2l.7,-2.4l-.1,-.4zM381.2,22.8l.8,1.9l-2.2,.8l-.5,-.1l-.2,-.2l.3,-2.6l.5,-.4zM385.9,23.7l-1.8,1.6l.9,2.4l.1,-.1l2.5,-.5l.3,-2.1l-1,-.8zM389.8,28.1l1.5,-.3l-.4,-1.9l-2,-.3l-.1,1.5zM392.6,27.6l-.6,-.1l-.1,-2.1l1,-.8l1.3,0l.7,1.9zM395.9,26.2l-.5,-1.5l.6,-.5l2.3,.9l-.1,.1l-1.1,2.2zM403.4,26.8l-.3,-.5l-1.7,-.7l-.5,0l.5,1.6l2,.1zM401.8,24.8l.4,-2.2l1.5,2.1l-.2,1zM404.9,26.4l1.9,.6l2.7,-1.3l-.1,-.7l-2,-2.1l-.6,0l-1.9,2l-.6,1.1zM410.1,25.6l.3,.3l3.2,.9l.3,-1l-.2,-1.7l-1.2,-.3l-2.5,1.2zM417.2,23.2l-2.3,.6l.2,.2l.2,1.4l2.1,.6zM418.1,23.3l2.9,1.2l-.1,1.1l-2,.7l-.4,-.1l-.4,-2.7zM423.1,25.6l-.5,.3l-1,-.5l.2,-1l.7,-1.3l0,0l1.1,.9zM427.2,24.3l-2.5,-.2l-.5,2l1.9,.5l1.4,-1.5zM430.5,27.2l1.2,-.4l.1,-1.3l-.5,-.3l-2.6,0zM432.8,26.2l1.8,-.2l.1,2.3l-1.2,0l-.8,-1.2zM441.3,24.5l-2,.8l-.8,-.6l1,-1l1.8,-.1l-.1,.7zM441.8,24.6l-.1,5l1.6,-.4l.8,-3.6l-2.1,-1.4zM447.1,27.6l-1.5,-2.3l1.3,-1l.5,.3l.7,1.3zM450.2,26.1l-1.6,-.2l-.8,-1.6l3,.3l.5,.7zM453.4,26.8l1.1,-2.5l-.9,-.7l-1.2,.8l-.1,.1l-.1,.5zM454.3,27.8l1.9,-.2l-.1,-2.5l-.4,0l-1.5,2.7zM461.8,21.7l.4,.2l0,3l-1.7,-2.4zM465.6,23l.4,2.3l-1.5,.2l-1.7,-.1l-.3,0l-.1,-3.9l2,-.7l.4,.3zM467.1,22.9l2.5,1.7l.2,1.3l-1.5,.4l-2,-1.1l-.1,-2.3zM471.6,22.4l.3,0l2.3,1.5l-.7,.5l-2,1.4l-1,-.3l.4,-1.1zM477.3,25.2l-1.1,-.7l-.3,.2l-.5,.4l.7,2.3l1.1,-.1zM481,26.6l-.5,-.7l-1.6,-.2l-.6,2.2l1.6,.3zM485.6,22.8l-1.9,-.2l-2.2,1l.3,1.5l0,1.3l2.7,.6l1.9,-1.7l-1,-2.1zM490.7,23.7l-2.6,1.9l-1,-.5l-.6,-2.2zM490.2,27.4l2.3,-.1l-.8,-3.7l-.1,0l-.6,.4l-2.6,1.9l1,1.3zM493,26.9l-.5,-3.3l3.5,-.3l.4,.7l.4,1.9l-3.2,1.4zM501.5,26.2l-.7,.3l-1.9,0l-1,-.8l-.6,-1.8l2.1,-.3l1.5,.1zM504.8,25.8l.9,-1.4l.6,-.9l-.4,-1.3l-1,.5l-2.3,.4l-.7,0l1.1,2.6zM505.3,27l.5,1.4l.5,-.1l2.5,.4l-.3,-1.6l-1.9,-1.4zM506.9,24.6l1.9,1.9l1.7,-1.9l-.4,0l-2.1,-.6l-.4,-.1zM511.6,24.4l.4,.6l1.7,.1l.4,-.8l-.7,-1.6l-1,-.4l-1.1,2.1zM518.8,26.1l-.4,-.9l-.9,-1.4l-2,.8l-.6,1.2l.6,2.1zM520.9,27.9l.4,.3l2.2,-1.1l-1.7,-3l-2.6,1.2l.7,1zM525.2,25.9l-.3,.2l0,.4l-.7,0l-1.3,-2.5l.2,-.3l.7,-.6l1.7,1.2zM372.7,28.8l-.3,1.9l-.6,.9l-.1,0l-2.1,-.5l-.3,-.3l1.5,-1.7zM376.7,28l.7,.8l-1.9,1.7l-1.5,-.3l-.2,-1.9l.5,-.3l0,-.1zM379.1,26.5l.6,0l3,3.3l-2.6,.8l-1.7,-1.9l-.5,-1.1zM383.2,29.1l.9,-1l-.8,-1.9l-.7,-.8l-2.1,1l2.3,2.4zM387.6,30.2l-1.2,-1.3l1.5,-1.1l1.1,1.4l.2,.5l-.3,.9zM392.4,28.3l-.7,.2l-1.3,.7l0,.6l2.7,1.6l.5,-1.1zM392.4,28.3l3.1,-1l1.2,.8l.2,.8l-.5,1l-2,.1zM397.9,27.7l1.2,-2.1l.9,.2l0,1.9l-.7,.9l-1.4,-.2zM403,28.1l.5,1.8l-2,.4l-1.6,-1.3l.8,-1zM404.5,27.7l1.8,0l.7,2.9l-2.2,-.2l-.6,-.8l.1,-1.5zM409.2,27.1l0,.4l.5,2.2l-1.2,.7l-.4,-.3l-.5,-2.4zM411.4,29.9l-.5,.1l-.7,-3.4l2.8,1.3l.6,1.2zM417.7,27.7l.3,1.4l-1,1l-.5,-.2l-1.9,-.9l0,-1.5l.7,-.8l2.6,.4zM419.4,27.4l-.2,1.5l2.6,1l.2,-2.9l-1,-.3zM425.2,28.1l0,1.4l-1.3,.7l-1,-.1l-.1,-.2l.3,-2.6l.5,0zM427.9,25.6l.3,.6l1.7,1.7l-.4,1.1l-2,.7l-.3,-.6l-.4,-1.5zM430.7,28.2l.1,.8l1,.5l1.1,-.6l-1.1,-1.2zM435.2,25.5l.9,-.2l1.3,-.5l1.2,1.3l-.1,2.7l-2.2,.9l-1.1,-.8zM441.1,26l.2,3.1l-.6,.4l-1.6,-.9l.3,-1.9zM447.3,29.6l-2.6,.2l-.7,-.4l.4,-3.9l.9,.3l1.5,2.3zM449,29.4l-1.3,.1l-.3,.1l-.1,-1.5l1,-1.4l1.6,0zM452,30.1l.7,-.2l.3,-1.3l.1,-.1l-1.6,-2.1l-.8,.6l-.9,2.5l1.7,1zM453.4,30.3l1.5,.4l3,-.6l-.1,-.6l-1.5,-.7l-1.8,0zM456.7,28l.3,-4l.9,.6l2.3,2.3l.1,1.4l-1.2,.5zM464.7,29.9l-1.3,-.3l-2.3,-1.4l.1,-1l1.4,-.4l1.2,0zM465.4,29.7l-.4,-3.1l1.1,-.5l1.6,1l-.5,2.8l-.9,.2zM468.2,29.8l1.2,.3l1.7,-1.6l-.5,-1.2l-.8,-.2l-.8,.3zM474.5,29.1l.6,-.7l-.6,-2.2l-2.3,1.1l.5,1.1l1.5,.6zM479.8,30.8l-.3,-1.6l-1.7,-.4l-1.1,.4l-.1,.8l1.8,1.4l.8,.3zM481.1,30.6l2.7,-1l.2,-1.9l-2.1,0l-1.3,1.2l.3,1.7zM486.8,29.5l-.7,0l-.2,-.5l-.8,-1.5l1.6,-.8l.7,.3l.7,.7zM490.1,30.3l-.3,-1.9l-.5,-.5l-1.9,2.2l2.2,.9zM490.4,30.3l2.8,-.3l.1,-2.1l-.9,-.1l-2,.2zM494.2,28.3l2.8,-2.2l.9,1.8l0,2.7l-.5,-.4l-.4,.5l-2.5,.7l.2,-1.2zM501.6,30.6l-.2,.3l-2.6,-.6l.5,-1.9l1.6,-.3zM504.7,27.1l.2,1.3l-2.6,2.1l-.2,-3.1l.2,-.7zM510.4,28.8l-.8,-.4l-.3,-1.3l1.5,-1.8l.5,.7l-.8,2.8zM515,28.3l-.4,-.2l-.6,-1.6l-1.6,-.1l-.6,2.3l2.4,0zM515.4,28.8l1.6,1.1l0,3.3l-1.8,-.9l-.3,-2.6zM516.2,28.4l.3,-.1l2.4,-1.6l.8,1.6l-.2,.5l-1.8,.4zM522.1,28.7l1.2,2.3l1.5,-.2l-.3,-2.4l-.5,-.3zM532.8,25.5l-5,2.4l-1.9,-.7l.6,-.6zM373.3,32.5l.8,-.8l1.4,.2l.4,1.2l.6,.2l-2.8,1.2zM378.1,30l1.2,1.2l-.3,1l-1.5,.4l-1.1,-1zM383.1,30.4l.7,1.7l.2,.5l-2.6,1.5l-1.4,-1.6l.3,-1.4l2.4,-.7zM383.6,29.9l.9,1.8l1.9,-1.4l-1.7,-1.6l0,.1zM387.2,31.3l-1.9,1l-.2,.4l.4,.3l2,.5l.9,-.3l0,-1.7zM389.5,31.3l.6,-.4l2.2,.8l-.2,1.2l-1.4,.2l-1.1,0zM394.2,30.9l-.8,.6l-.4,1.5l2.1,1.2l2.1,-1.5l-1,-1.8zM397.4,30.5l.4,1.7l1.8,1.1l.9,-2.6l-1.3,-1.2l-1.3,.2zM403.4,33.3l.2,-1.6l-.4,-.9l-1.3,.6l-1.4,2.2l.3,.3zM406.9,34.1l-1.1,-.1l-1,-.5l.8,-1.3l1.4,0l.8,-.2l-.4,1.8zM408.6,34.2l0,-2.5l1.8,-.5l.5,0l1.6,2.2l-2,1.6zM413.6,33.3l2.6,-2.5l-2.3,-.8l-2.6,.8l1.8,2zM418.3,31l.4,-1.4l2.6,1.3l0,.2l-.7,2.4l-1.9,-.8zM422.1,34.5l-.2,.3l-.8,-1.1l1.3,-1.9l.9,.2l-.1,2zM426.5,31.4l.7,1.3l-1.6,1.2l-.7,-.4l-.3,-2l1.6,-.3zM431.6,30.5l.5,3l-1,.3l-1,.2l-1.6,-1.1l-1.4,-2.4l2.9,-.3zM433.5,29.3l1.5,-.1l1,.7l-.5,3l-2.6,-.5l0,-2zM438.6,33.2l-1.9,-.2l-.1,-.2l.4,-2.3l1.6,-1.2l1.5,.9l-.8,1.7zM442.6,32.5l-1.2,-.9l.3,-1.1l.4,-.2l.9,.2l.9,.2l-.5,.7zM447.1,30.4l.4,3.2l-1.4,-.4l-1.2,-1.4l.2,-.8l1.8,-.6zM450.7,31.4l-1.1,2.8l-.2,-.2l-1.1,-.3l-.2,-3.2l1.1,-.3zM452,30.8l.7,1.7l3.6,2.7l.3,.1l-2.2,-3.7l-1.2,-.9zM458,33.4l-1,.9l-1.1,-2.5l2.6,-.6l0,1zM461.8,32l.7,-1.6l-2,-1.2l-.9,.5l-.2,.7l.5,.9zM463.7,34.4l1.8,-.1l.4,-3.1l-.9,-.8l-1.2,.5l-1.4,1.8zM466.5,31.1l-.6,3l.8,.2l3.8,-.8l-1.7,-1.9l-1.3,-1zM473.3,30.8l-1.3,-.8l-1.7,1.4l1.1,1.2l.6,.5l1.3,-1.2zM476.7,33l-1.8,-1.2l.3,-.9l.1,-.4l2.3,1.7zM480.9,31.8l1.9,1.5l-2.1,.4l-.7,-1.3l.7,-.5zM481.8,31.5l2.9,-.4l.6,-.1l-.2,2.3l-.5,.3l-.7,-.5zM489.6,31.3l.1,2.6l-2.7,.6l-.9,-1l-.1,-2.6l1.1,.1zM490.8,31.2l2.3,0l.2,.7l-.4,1.5l-1.5,.8l-.8,-.7l-.1,-1.8zM496.3,35.2l.6,-3.8l-2.2,.9l-.9,1.6l2.1,1.3zM500.1,34.4l1.8,-.3l.7,-.2l-1,-2l-3,-.7l.2,.3l.6,3.1zM503,33.8l-.8,-2.2l.2,-.5l2.9,-1.8l.2,.3l.1,2.6l.2,.9zM509.5,29.7l-.6,-.3l-2.1,-.2l.3,2.3l2.7,-1.4zM510,30.6l-3.5,1.9l-.2,.7l.9,.4l3.1,-1zM514.2,29.7l-3.3,-.1l0,.3l-.1,.6l.5,1.7l.6,.4l.8,.2l1.4,-.6zM517.9,30.5l1.6,-.3l-.7,2.8l-.9,.7l-.4,-.4zM520.6,29.8l-.5,2.3l1.7,.1l.2,-.6l-.8,-1.9l-.3,-.4zM526.9,32.4l1.4,-2.5l-.9,-1l-1.7,-1.2l-.4,-.1l.4,3.5l1.2,1.5zM369.6,35.9l-.7,-.2l2.9,-2.6l.1,.2l.7,1.8l.1,.5l-1.4,1.3zM376.6,36.7l-.1,-2.5l-2.4,1.2l-.2,.4l1.8,1.3zM378.4,36.6l1.6,-.7l.6,-1l-1.3,-1.7l-1.6,.8l-.1,.1l.2,2.7zM383.9,34l-2.4,.9l-.1,1.5l1.4,.9l.5,-.4l.9,-2.8zM385.4,34.3l-1.2,2.9l1.1,.4l1.9,-1.9l-.2,-.8zM389.3,34.7l1.1,-.1l.7,2.3l-1.3,.9l-.1,.2l-1,-2.1l-.2,-1.1zM392.5,37.1l1.5,.6l.8,-1.5l.1,-1.4l-2.1,-.9l-1.4,.5zM399.7,36.2l-.3,.6l-3.9,-.6l.1,-1.5l1.9,-1.8l2,1.4l.2,.4zM404.3,35.2l-.9,-.8l-2.3,.5l.1,1.2l.2,.6l2.5,-.8zM407.1,35.3l-1.9,.1l-.3,.8l.4,1.3l1.4,-.1zM408,35.9l-.4,1.8l.5,.9l1.1,.3l1.3,-1.7l-.3,-1.1l-1.8,-1zM414.8,36.3l-2.6,.4l-.4,0l-.2,-.9l1.3,-1.2l.5,-.3l1.8,1.9zM416,35.7l-2.2,-2.1l2.6,-2l.5,.1l.8,1.7l-1,1.6zM418,35.7l.4,-1.8l2,.2l.5,1.2l-1.4,1.2zM422.8,35.8l1.1,2.1l.5,-.4l.4,-1.2l-.1,-.5l-.6,-.6zM426.5,35.6l2.3,.9l.4,-1.9l-1.1,-1l-2,1.6zM434.7,37.1l-1.1,-.3l-2,-2.6l.9,-.3l3.2,-.4l.4,.2l-.7,2.3zM439.6,36.1l-.4,1l-2.2,-1.1l.2,-1.2l1.5,-.1zM441.4,35.9l-.6,.1l-1.8,-1.8l1.3,-1.5l2.2,1zM442.3,35.7l.6,-1.8l1.3,-1l.7,1.6l-.4,1.7zM445.4,36.6l.3,.7l2.9,.6l.4,-2.7l-1.4,-.2l-1.6,-.4zM452.1,31.7l.4,1.1l.5,2l-.2,.1l-2.5,-.4l1.5,-2.4zM455.9,35.5l-2.4,-1.9l.7,2.1l1.2,.3l.3,-.1zM460.7,36.1l-.8,1.2l-1.5,.3l-1,-1.3l.1,-.4l-.2,-.3l1.1,-.7zM462.1,35.8l-3.3,-1.7l.6,-2l2.6,1.2l.9,1.4l-.4,.6zM463.1,35.8l2.2,3.7l.4,-.5l.1,.5l1.4,-2l-1,-2.1l-.7,-.4l-1.5,.5zM467.2,35.2l3.5,-1.4l.9,.9l.5,1l-.5,.6l-.9,.7l-2.8,.3zM476.5,34l-2.3,-1.1l-1.3,1.5l.2,1l2.8,.1l.4,.2zM479.3,33l-.7,.2l-.9,.7l0,1.2l2,.1l0,-.6zM481.5,37.3l-.6,-1.5l-.2,-.8l2.4,-.7l.9,.2l-2.1,2.4zM483,36.9l1.9,-2l.5,-.4l.9,.7l-.1,.5l-1.4,1.6zM488.5,38l.8,.1l1.5,-.5l-.2,-2.3l-.8,-.5l-2.1,.7l-.4,.3zM495.5,37l-.6,-.7l-1.5,-1.8l-1.5,.6l.4,2.3l.7,.9zM497,35.1l.3,-3.8l.7,-.3l.8,3.5zM497.1,37.5l1.7,.8l.3,-.3l.2,-2.4l-.5,-.2l-1.8,.7l-.1,.3l-.3,.7zM503.4,34.8l.7,2.8l2.8,-1.7l-.7,-1.5l-.6,-.3l-2.3,.1zM510.5,33.3l-3.2,.9l.8,1.7l.8,.8l1.5,-.5l1,-2.5zM512.7,34.2l.6,2.4l-1.2,0l-.8,-.3l.7,-1.9zM515.3,33.5l-1.4,.4l.3,3.1l1.3,-.5l1.9,-1.3l-.2,-.8l-.6,-.2zM518.1,34.3l.5,.8l1.2,2l3.4,-1.5l-1.6,-1.7l-2.1,.2zM526.4,32.9l-1.4,-.6l-1.8,.3l-.1,.9l.9,1.3l.4,.4zM528.5,34.8l-1.4,-.8l-.1,-.5l-1.7,2.4l.4,.8l2.1,-.3l.9,-1.2zM374,39.5l-.7,1l-.9,-.9l-.2,-1.8l1,-1.2l1.7,1.4zM378.3,40l-3.8,-.1l1.7,-2l1.1,-.2l.7,0zM378.8,40l.2,.7l2.3,0l1.2,-2.8l-1.5,-1l-2.6,.9zM382.6,41.8l-.4,-.8l.8,-2.7l.6,.1l1,.4l1.5,1.4l-1.4,.8zM385.8,38.4l1.8,-1.1l1.1,1.5l-.9,1.5l-.9,-.8zM392.8,41.6l-2.1,-2.6l1.7,-1l1.4,.3l.2,.4l-.9,2.6zM398.4,37.2l-3.2,-.6l-.2,1.4l.1,.2l1.6,1zM398.8,40.7l.8,-.3l1,-2.2l-.5,-.1l-.1,-.8l-.6,.4l-1.7,1.8l.8,.7zM403.9,36.9l-2.1,.6l.3,.3l1.5,1.3l.7,-1.1zM407.3,39l-2.6,1.6l-.8,-1l1.3,-1.1l1.5,-.2zM411,37.8l.5,-.3l1.9,2.4l-3.6,.7l.2,-1.3zM415.7,36.7l-3.3,1.2l1.2,1.9l1.2,.6l.6,-.3zM416.1,36.9l-.2,2.8l1.7,.2l1.8,-1.2l-.2,-1.1l-2.3,-1.3l-.8,.2zM420.5,37.5l1.1,-1.1l0,0l1.1,1.7l-1.4,.8l-.6,-.8zM426.2,37.1l1.8,.7l.3,1.1l-1.6,.8l-1.3,-1.1zM429.8,37l0,1.3l.8,.2l1.4,-1.2l-1,-2.1l-.7,.2zM434.1,38.5l-.9,-.5l-2,1.7l.7,1l.4,.4l2.4,-1.9zM439.3,38.4l-2,1.8l-1.2,-1.3l-.4,-.8l.6,-1l2.9,1.2zM441.7,36.5l-.8,.1l-.1,1.6l-.5,.1l2.6,2.3l1.7,-2.1l-.2,-.7l.2,-.8zM449.4,39.6l-2.2,1.4l-1.7,-2.3l-.1,-.9l3.1,.6zM449.7,35.5l-.6,2.5l.8,1.2l.3,.1l2.5,-3l-2.8,-.6zM453.5,36.6l-.2,-.5l-2.7,3.4l.9,1l1,-.5l1.7,-.8l.9,-2.3zM456.4,37.6l-.2,0l-.7,1.5l1.2,1.5l.8,-.9l-.1,-1zM458.8,38.9l-.1,1.6l2,1.1l1.2,-.3l.6,-.9l-1.7,-1.7zM462.3,36.5l-.9,1.6l1.3,1.6l1.9,-.4l-1.7,-3.1zM466.3,39.8l1.4,-2.1l2.9,-.1l.1,.4l-1.3,2.9zM472.1,37.4l1.4,2.1l-1,1.3l-1.3,-2.5l.3,-.2zM472.2,36.6l2.2,3.2l.7,-.7l1.8,-.7l-.5,-2.2l-3.5,0zM481.4,37.7l-1.5,-1.4l-3.3,-.4l.2,.2l.8,2.1l2.1,1.3l1,-1.5zM481.9,38.1l.2,-.2l1.9,.5l.9,1.4l-1.5,.2l-1.6,-1.6zM485.1,38.3l1.5,-1.7l.9,2.1l-1.3,1.3l-.6,-.4zM492.7,39.7l-2.4,1.1l-.5,-1.6l1.6,-.8l.9,.8zM494.5,42.4l-1,-2.6l-.1,-.4l2.3,-1.2l.4,.4l0,2.4l-.6,1.1zM496.7,40.6l1.7,-.8l.1,-.7l-1.6,-.7zM502.9,39.2l-2.2,-.9l-.4,-2.7l2.1,-.3l.5,3.4l.3,.4zM504.8,39.3l.1,-.1l2.3,-1.8l1,.1l-.4,1.8l-.5,.6l-.9,.1zM509.2,39l.1,-1.6l1.3,-.1l.8,.5l-.2,1.2zM512.3,39.5l-.2,-1.7l1.9,-.2l.8,.3l.1,2.1l-2.4,1.1zM517.8,36.2l1.5,1.7l.1,1.3l.1,1l-3.1,.5l-.4,-.5l0,-2.3zM524.5,36.2l-1,.1l-2.6,1.3l-.4,1.5l3.1,-.4l1.1,-1.4zM527.7,38.4l.9,1.4l-.5,1.6l-2.8,-.8l-.8,-1.2l1.1,-1.5zM373,41.3l-1.1,-.9l-2.5,.4l-.4,2l3.1,.6l.5,0l.8,-1.5zM377.8,40.5l0,.6l-.3,.8l-3.1,-.3l.1,-.5l.5,-.7zM378.5,42.4l.7,2.4l.9,.3l1.5,-1.8l.2,-.9l-.6,-.5l-2.2,-.5zM382.8,42.4l.2,.9l.7,.4l1.3,-.1l-.4,-1.8zM385.4,41.5l1,-.5l.9,.4l.4,.3l-1.7,1.2l-.2,.1zM392.7,42l-2.8,-2.4l-.1,-.6l-1.6,2l.2,.6l1.6,1.8zM393.6,41.8l1.3,-2.3l1.5,.8l1,1l-.9,1.3l-1,.3zM399.8,45l1.6,-2l-1.6,-1.6l-1.1,0zM403.4,42.2l-1,.1l-1.5,-1.1l.8,-2.1l1.7,1.1l0,1.1l.2,.8zM409,39.8l0,1.1l-.3,.1l-2.7,1.1l-1.2,.2l-.1,-.9l3.1,-1.9zM409,44.4l1,-1.2l-.8,-1.4l-2.7,1zM413.4,40.1l-3.7,.8l.1,.1l1.3,2l.7,-.1l1.7,-.8l1,-1.3zM415.8,41.1l-.3,.4l-.3,1.1l1.1,1.5l.3,0l.3,.2l1.7,-1l-1.4,-1.6zM420,39.7l.7,.8l.2,1.9l-.1,.2l-1.4,.2l-.7,-1.7zM423.9,39.6l-1.5,.5l.3,2.1l2.4,.3l.3,.1l0,-1.8l-.9,-1.3zM428.6,43.2l-2.1,-.3l.8,-2l1.8,-.9l.8,.5l1.1,.7l-.5,.4zM431.8,42l.4,-.2l.4,.1l2.5,1.6l-.4,.3l-2.4,-.1zM437.3,40.8l-.6,1l-1,1.3l-2.7,-1.8l2.5,-1.5zM440,38.4l2.4,2.9l-.3,.1l-1.7,1.8l-2.8,-1.3l-.2,-1.1zM446.1,42.3l-1.6,-.2l-.6,-.7l-.5,-.1l1.6,-1.9l1.2,2.3zM449.9,44.2l-1.1,.7l-.9,-.3l-.7,-1.9l.4,-.7l2,-1.7l.2,.3l1,.4zM452,41.6l-.6,-.3l-.9,2.9l1.2,-.1l.5,-2.2zM453.1,41.2l1.3,-1.1l1.8,1.7l-.7,1.2l-.5,.4l-1.5,-1.8zM460,42.6l-1.6,-1.1l-.7,1l-.5,1l2.1,1.4l.4,.2zM465.4,40.3l-.4,-.1l-1.7,.7l-.1,.5l.9,1.7l1,-.5zM466.2,40.5l.1,2.6l.8,1.3l2.1,-1.9l-.2,-.8l-2.5,-.8zM469.9,41.6l.9,-2.8l1.7,3.6l-.3,.6l-1.6,-.7zM474.4,43.9l2.5,-.6l-1.9,-2.5l-.7,.5l-1,1.3l0,.5l0,.3l1,.3zM479,43.2l.1,-.4l.2,-2.7l-2,-1l-.9,1.4l1.8,2.4zM481.2,38.9l-.9,1.5l-.1,2.4l1.7,.5l.5,.1l1.1,-2.4zM485.2,40.6l.7,.3l.8,2l-1.2,.6l-2.2,-.3l.7,-2zM488.3,39.1l.7,.7l.5,1.7l-.2,1.6l-1.6,-.7l-.5,-1.7zM492.8,43.5l.3,-.4l.5,-.1l-1.2,-1.6l-1.7,.8l0,1l.3,.4l.4,.1zM496.2,42.5l.7,.2l2,-.3l-.6,-1.7l-1.6,.8zM499.7,42l-.4,-1.9l-.1,-1.2l.7,.1l2.4,.9l-1.1,2.2zM503.6,44l1,.2l.6,-.2l.3,-2.6l-1.9,-.5l-.1,-.1l-.8,2.1l-.1,.3zM506.8,41.5l.9,.3l.8,.5l-.2,1.6l-1.8,-.2zM509.2,40.8l.3,1l1.8,-.6l.1,-.1l-.1,-1l-1.8,.1zM513.1,41.8l-.1,1.1l2.5,.5l0,-2l-.3,-.5l-2.1,.7zM519.8,42.8l-.8,.7l-1.6,.7l-.1,-.5l-.3,-1.9l1.9,-.1zM520.8,39.9l-.6,.6l.6,2l2.2,.5l.7,-1.9l-.2,-1.3zM524.2,45l-.3,-1.6l.7,-2.3l3.5,.8l0,.9l-.5,.3zM373.6,48.7l2.5,-1.5l-.2,-.3l-2.9,-2.6l0,1l-.7,1.6l1.2,2.2zM377.2,42.9l.3,2.2l-1,.7l-2.2,-2l.3,-.9zM380.5,46l2,-2.1l.8,1l.8,2l-1.4,.6l-.8,0zM384.8,46.9l-1.1,-2.7l1.6,0l.3,-.2l1.4,2.2l-1.2,.8zM389.9,44.2l-1.7,-1.7l-2.2,1.4l1.6,1.7l2,-.5zM392.6,43l-1.9,1.3l.4,.6l.3,.6l2.3,.4l.5,-2.2l-1.2,-1.2zM396,44.3l.7,-.6l1.3,2.3l.2,.4l-2.5,.5l-.7,-.3zM399.2,45.9l-2.3,-3l.9,-1.2l.8,-.1l.8,3.7zM403.4,43.5l-1.3,-.3l-2,2.5l-.1,.3l-.8,.9l.3,.6l4,-.7l1,-1.1zM408.2,46.4l-.3,-1.2l-2.1,-1.7l-.8,0l-.3,0l.4,1.9l2.6,.9zM412.4,46.8l.3,-.7l-1.2,-2.1l-.5,.2l-1.4,1.3l.3,.9zM413.6,45.4l-1,-1.6l1.4,-.4l1,1.2zM420.5,47.3l.3,-.5l0,-2.7l-1.6,.2l-.9,1.2l.1,2.2zM422.1,46.2l0,-2.2l.1,-.2l2.5,.1l-.2,2.1zM428.9,45.6l-1.1,-.5l-1.7,-1.1l-.2,-.1l-.4,2.6l.6,1.2l1.3,.7l.3,-.2zM430.3,45.1l-.5,.1l-.6,-.8l1.8,-1.7l.4,1.8l-.8,.5zM433.3,46.5l1.4,-.8l.1,-.9l-2.2,.2l-.5,.5zM439.7,43.7l.3,1.4l-2.8,1.6l-1.1,-1l.2,-1.3l.1,-.4l.9,-1.8zM442.9,42.1l1.1,.7l-.6,3.1l-1,0l-1.4,-.8l-.1,-1.5zM446.3,43.5l-1.4,0l-.5,2l1.4,.8l1.6,-1.5zM449.6,48.2l-.2,-2.8l1,-.4l1.2,.7l1.1,.7l.5,.7l-.5,.9zM452.9,42.7l-.6,2.2l1.1,1l1.3,-1.9zM456.4,47.2l1.4,-1.4l-1.8,-1.7l-.7,.2l-1.2,2l-.1,.6zM463.4,43.7l-2.3,1.7l-.1,-.3l-.2,-.1l.3,-1.9l.6,-.3zM465.5,44.1l-1.3,-.2l-2,2l2.9,1.2l1.5,-1.5l-.2,-.3zM470.2,43l1.4,.9l.2,.2l-1.8,2.3l-.2,.1l-1.8,-1.1l-.6,-.2zM470.4,47.1l2.2,-2.8l1.3,.7l-1.6,3.7zM477.8,48.5l.6,-1l.4,-3.4l-.7,0l-3.3,.8l1.4,2.5zM482.2,47.2l-.7,-2.6l-1.6,-.1l-.3,-.1l-.3,2.9l.8,0zM485.4,44.4l-2.6,-.1l-.3,.1l.6,3.1l.3,.4l2.2,-.6zM487.4,43.9l1.4,.3l.8,.2l-1.8,3.7l-1.3,-1l-.1,-2.5zM492.9,44.9l.3,3l-.9,0l-.8,-2.9zM494.6,43.5l.3,0l.9,0l.7,-.1l.8,2.6l-1.4,.9zM501.6,43.7l-.7,0l-1.4,-.7l-2.4,.3l1.7,3.1l.3,.4l1.2,-.9zM503,45l-1.1,-.9l-1.1,1.7l1.8,1.3zM506.5,47.4l.7,.2l1.6,-1.5l-.5,-1l-2.3,-.2l-.3,.5zM511.2,46l-1.3,-.2l-.8,-1.2l.3,-2.1l2.8,-.7l.2,1.5l-.8,2.7zM512.3,46l.6,-2.5l3.4,1l.3,.7l-.4,1.4l-.5,-.2zM519.3,47.8l-1.3,-.1l-1.3,-1l.3,-1.3l2.6,-1.4l1.1,3.1zM522.9,46.3l.2,-.2l.2,-.3l.3,-.6l-.6,-1.2l-1.7,-.3l-.5,.7l.5,2.5zM525.1,45.3l2.2,-1.2l.3,1.9l-2.5,-.3zM371.5,50.8l-2.2,-2.1l.3,-.6l1.5,-.4l1.5,2zM374.1,49.9l2.4,-2.2l.7,1.9l-1.4,1.9zM377.8,47.5l.5,1.3l1,.6l.9,-1.5l-.9,-.9l-.6,-.5l-1,.8zM385.7,50.6l-1.3,-.4l-.3,-1.3l1,-.5l.6,-.2l.6,1.9l-.1,.1l-.3,.5zM387.2,49.9l2.7,-2.7l.1,-.6l-.4,-.6l-1.9,.6l-1.5,.7zM387.9,50.5l1.7,.2l.6,-.1l0,-2.5l-2.4,2.3zM394.3,47l.9,.5l-.3,1.8l-2.2,2.5l-1.2,-1.4l-.8,-3.2l.5,-.5zM398.5,48.1l.1,.7l-1.4,.9l-1,-.7l-.1,-1.1l2.2,-.1zM400.4,48l2.9,-.4l.5,1.7l-.5,.9l-1.7,.4l-1.1,-1.4zM408.3,47.4l-3.4,-1.2l-.6,.9l.3,2l3.2,-1.1zM413.6,48.7l-.6,-1.1l-3.3,0l-.6,0l.3,.8l.4,3l2.8,-1l1.3,-1zM413.8,48.5l2.9,-3.3l-.7,-.1l-2.4,1.3l-.2,.9zM414.9,48.2l1.6,-1.9l.3,-.1l.7,1.7l-.8,.6l-1.9,.2zM421.3,50.5l.1,-.9l-.9,-1.2l-2,0l-1.1,1.1l.7,1.5zM422,48.1l.1,-.4l2.5,-.7l.5,1.3l-1.5,1l-1.1,-.3zM430.3,48l-1.5,0l.8,-1.7l.5,-.1zM431.2,48.2l-.4,-2l.4,.1l1.5,1.1l-.7,1.5zM436,49.7l.3,-1.3l-.2,-.3l-.6,-.9l-1.4,.8l-.5,1.1l-.1,.7l1.9,0zM440.9,48.4l.5,-1.6l-1.1,-.5l-2.1,1.1l0,.5zM444.1,50.1l1.5,-1.3l-.5,-1.2l-1.5,-.3l-.6,.1l-.7,1.7l.5,.6l.9,.5zM448.3,49.1l-1.5,-.8l-.6,-1.3l1.6,-2l.8,.3l.5,2.7zM450.3,51.5l-.7,-.7l-.3,-1.3l.6,-.7l2.3,0l-.3,.8zM453.7,49.5l-.3,-.9l.4,-.9l2.5,.7l0,1.3l-.5,.8l-.8,.6zM460.1,49.3l-.1,-2.7l-.2,-.3l-.3,-.1l-2,1.7l-.1,1.8zM460.9,49.5l.6,.9l2.6,-1.3l-.1,-1l-2.9,-1.7l0,.6l-.5,2.2zM468.7,47.7l-1.8,-1.3l-1.3,1.6l.1,1.3l.3,.5l2.3,-.3zM472,49.6l-.2,-.6l-1.5,-1.2l-.2,0l-.7,1.8l1.5,1.1zM473.9,49.5l1.7,-1.6l-1.3,-2.5l-.1,-.6l-1.8,4l.5,.5zM474.7,50l1.1,-1.4l1.2,.4l-.6,1.5l-1,0zM483,48.5l-.4,-.2l-2.1,.5l.6,2.3l2.1,-2.6zM485.9,48.5l-2.2,-.1l-.1,.1l1.3,3.5l1.5,-.7l.9,-1.6l.2,-.8zM490.7,45.3l-.7,.5l-1.2,2.5l0,.7l1.1,.1l1.1,-.8zM493.7,45l.6,-.6l1.1,3l-.9,.6l-.6,.5zM499.9,50l-1.3,-2.2l-.4,-.1l-1.9,.5l-1.3,1.1l.7,1.3l2.1,.3zM500.5,49.4l-1,-1.8l1.1,-1l1.5,1.5l0,.2l-1.5,1.5zM503.8,45.6l1,-.2l.5,2.5l-.6,.2l-1.6,0l-.1,-.2zM511.3,49.8l-.6,-2.8l-1,-.9l-1.6,2.5l.4,1.6zM512.9,50.5l.5,-.9l1.5,-2.2l-2.9,-.7l-.1,.4l.1,2.5zM514.7,49.5l1.4,-2l.2,-.2l1.1,.9l-.2,1.7zM521.2,50.2l-1.4,-2.1l1.4,-.5l1.4,0l0,1.9zM524.1,50.4l1.5,-.8l-1.8,-1.8l-.2,.1l-.3,1.4zM526.6,49l-1.6,-1.7l.1,-.5l2.9,.4l.2,.6l.4,1.3l-2,.1zM370.6,52l-.1,.2l-1.3,-.4l-.5,-.6l.7,-1.2l1.8,1.5zM372.6,52.6l2.8,.3l.3,-.1l-.4,-1l-1.8,-1.2l0,0l-1,1.1l-.7,.7zM376.8,51.8l1.2,-1.8l1.5,1.4l.1,1l-2.2,.2zM381.6,48.4l1.1,0l.6,2.2l-1.9,1.8l-.8,-.4l-.1,-.1l-.3,-.7zM385.7,51.6l-1.9,1.4l-1.6,-.6l1.6,-1.6zM387.1,52.3l.8,2.2l.2,.1l.5,-.8l.5,-1.6l-1.8,-.5zM390.4,51.6l-.5,2l2.6,-.7l-.3,-.9l-1,-.5zM395.9,51.5l.2,1.1l-1,.9l-1.1,-.5l-.2,-.2l-.4,-.9l1.5,-1.2zM399.9,49.3l.7,2.1l-.3,.9l-2.5,0l-.9,-1.4zM405.2,52.9l-1.8,-1.3l-1.7,.1l-.3,1l.4,.8l1.8,.4zM407.2,53.1l1.6,-.7l.6,-.8l-1.2,-2.8l-3.1,1.1l-.9,.8l2.6,1.8zM413.1,55.2l-.1,.1l-1.5,.1l-1.6,-2.5l0,-1.1l2.9,-.9l.6,1.3l-.2,2.8zM417.6,53.1l-.1,-1.8l-.8,-1.2l-2.4,-.3l-1,1l.6,1.1l2.4,.8zM418.5,52.8l.1,-1l2.2,-.7l-.3,1.4l-1.9,.3zM421.9,50.9l.3,-.7l1.2,.5l0,.9l-.7,.8l-.7,-.2zM426.8,52.2l.9,-.2l-.6,-2.4l-1.2,-.7l-1.3,1.4l.1,1.3zM430.6,49.3l-2.3,-.2l.3,.5l-.1,2.3l2.1,.5l.8,-2l.3,-.7zM435.3,51l-2.7,-.3l-1.2,2.2l-.1,.9l3.5,.1zM437.3,50.3l.8,-1.4l2.7,.6l-.1,.8l-1.7,1.5zM441.8,54.2l-2.8,-1.3l.7,-.3l2.1,-1.4l1.5,.3zM447.7,49.9l-1.2,-.3l-1.2,1.4l1,.9l2.2,-.8zM447.1,54.6l-.5,-1.8l2.3,-.8l.8,.3l.5,1.3zM451.7,53.7l1.8,.2l.8,-1.9l-1.5,-1.5l-1.9,1.7l.4,1zM459.5,50.3l-1.1,1.3l-.8,-.6l.3,-.8l1.7,-.4zM460.4,50.7l1,.1l-.2,1.5l-.2,.8l-1.7,.1l-.5,-.8zM465.1,49.8l-3.2,1l-.2,1.6l3.7,-.5l.3,-1.6zM467,53.1l-.4,-.1l-.3,-.7l.1,-1.5l2,-.2l1.9,.9l-.6,1.8l-1.5,.3zM474,53.2l.4,-1.7l-.7,-1.1l-1.1,-.4l-1.3,1.4l.1,1.8l1.3,1.1zM476.9,53.8l1.9,-.9l-2,-1.4l-1.7,-.1l.1,1.9zM478.8,52.3l-1,-1.4l.3,-1.9l.8,-.2l.6,.7l.4,2l-.1,.3zM483.7,53.2l.4,-.5l-1,-3.4l-2.3,3l-.1,.6l-.1,.1zM489.8,53.2l-1.2,-.3l-1.3,-1.1l1.2,-1.3l1.1,.2l.5,1zM493.5,49.5l.5,.3l.4,.9l-1,1.2l-1.8,-.7l-.1,-.8l.9,-.8zM497.7,53.7l-.6,.8l-2.8,-.6l.5,-.6l.7,-1.9l1.6,.9zM502.1,53.8l-3.2,-.4l-.2,-1.6l1.6,-.9l.2,-.2l2.1,2.3zM503.2,52.9l.2,-.3l.9,-3.1l-1.4,-.8l-1.7,1.6zM505.6,49.4l-1.4,2.9l3,-.7l.2,-1.1l-.3,-1.4l-1,-.3zM511.8,51.2l-.9,-.4l-1.7,.2l-.6,1.1l.6,.1l1.3,.1l1.3,-.9zM513.4,51.1l.6,-.6l2.8,.3l.2,2l-3,-.8l-.5,-.7zM520.8,50.9l-1.5,-2l-1.5,-.7l.1,2.5l.3,2.1l-.2,.3l1.8,-.1l.6,-1.3zM521.7,51l.9,-.8l1.2,1.2l-.3,.5l-2.2,-.2zM524.2,51.4l1.9,-1l.3,-.4l.2,3.1l-2.2,-.1l-.1,-1zM527.1,50.6l1.7,-.5l.6,.8l-.8,3.2l-1.5,-1.4zM371.4,53.9l.5,1.2l-.4,1.2l-.5,.7l-1.1,-1.9l1,-1.5l.3,-.1zM372.6,53.6l.4,1.4l2.5,-.2l.1,-1zM377.1,53.7l-.4,1.1l.1,.6l2.5,-.5l.1,-1.7l-.1,0l-2,.4zM381.1,55.4l-.4,-2.1l.9,.2l1.5,.4l.5,1.2l-1.2,.7l-1.2,-.4zM386.1,51.5l-2,2l.5,1.6l2.4,.8l.1,-.9l-.9,-3.1zM391.3,56.1l1.7,-2.4l.2,-.5l-3.7,1.3l-.3,.8l1.9,.9zM392.2,55.9l1.2,-2.3l1.8,1l.2,.2l-1.6,2.2zM400.1,55.9l-2.4,.6l-2,-1.8l.2,-.2l1.6,-1l3.1,-.6l.3,1.1zM404.5,57l.1,0l-1.1,-2.2l-2,-.3l-.3,1.8l1,1.4zM407.1,53.5l-.6,1.9l-1.8,1.5l-.8,-2.7l2.6,-.7zM407.7,54l1.4,-.1l1.2,1.9l-.6,2.1l-.6,-.5l-1.9,-1.9zM416,53.5l-2.2,-1.3l.2,2.4zM417.5,53.7l-.9,0l-2.3,1.5l-.3,.2l3.4,.5l.7,-.4l-.4,-1.9zM418.2,53.4l3.3,-.4l.6,.7l.8,2l-1.9,.4l-1.8,-.8zM423.7,55.4l0,-.3l-.4,-1.4l1.1,-.7l1.5,.5l-.7,1.3zM430.4,55.1l-2.1,.8l-1.1,-.9l.9,-1.4l.4,-.4l1.3,.5l.3,.4zM434.6,54.5l-2.6,-.1l-.6,1.1l.1,0l4.4,.9l.4,-.3zM437,55.9l0,-.3l-1.2,-1.8l.4,-2l.5,-.5l1.6,1.5l.1,.3zM441.4,55.6l0,-.3l-1.9,-1.3l-.9,1.9l2,.7l.8,-.5zM446.1,55.6l-3.7,0l.2,-.7l1.4,-2.7l.4,-.5l1.1,1.3l.6,1.7zM447.6,56.1l2,.3l.7,-1.6l-.6,-.4l-2.5,.7l.2,.7zM451.5,58.7l-.7,-1.7l.6,-2.4l2.6,.2l0,.7l-1.8,3.9zM455.6,52.8l.9,-.2l1,.5l.6,.6l-.7,1.7l-1.1,-.3l-.9,-.5l-.3,-.3zM459.6,56.6l2.4,-1.3l.5,0l-1.5,-1.5l-2.1,-.1l-.5,2.2zM463,54.6l-.9,-1.3l-.1,-.7l3.7,-.3l-.2,1zM465.4,56.5l-1.8,.8l-.7,-1.9l.3,-.1l2.7,-1.6l.7,-.2zM472.3,55.6l-.2,-.2l-1.6,-1.4l-2,.4l.1,3.5zM473.6,55.9l2.2,.4l.4,-1.7l-1.7,-.3l-1.4,1.1l0,.1zM477,57l.8,1.1l1.8,-2.2l.8,-2.7l-.3,.3l-1.3,-.2l-1.7,.9zM484,54.6l-1.4,3.1l-2.5,-1.5l1,-2.7l2.7,.3zM487.2,54l-.2,1.8l-.4,-.2l-1.4,-1.2l-.3,-.5l.2,-.5l1.2,-.3zM489.7,54.3l.4,1.2l-1.4,1.3l-.3,-.2l-.2,0l.2,-2.2zM493.4,54l.5,-.7l-3.1,-1.3l-.4,1.7l.8,1.2l1.7,0zM494.3,54.6l2.6,.7l.4,1.7l-1.7,.4l-1.6,-.2l-.1,-1.5zM501.7,55.1l.5,.9l-.6,.2l-2,.9l-.6,-.6l-.5,-1.2l.4,-.7zM503.7,54.4l-.1,1l3.8,-.4l-.2,-1.9l.2,-.5l-3.8,.5l0,.2zM508.5,53.4l.4,1.7l.1,0l1.9,.6l-.6,-2.2zM512.8,51.7l.6,.9l-1.2,4l-.6,-.3l-.5,-3.1zM516.9,53.9l.4,-.2l-.2,.7l-1.2,1.8l-2.7,.1l0,-.2l.9,-3.2zM520.4,54.1l-1,.2l-.5,.3l2.1,1.9l1.3,-.3l.4,-.1l-.4,-.5zM521.1,52.1l-1.1,.9l3.4,2.6l.7,-2.4l-.7,-.6zM526.5,53.6l2.1,1.2l-.2,.5l-2.6,1.8l-1.5,-1l-.7,-.3l.8,-2.4zM373,55.6l-.5,1.7l3.8,2.1l-.3,-3.4l-.4,-.5zM377.1,56.9l2.4,.1l.7,-.5l-1.1,2.3l-.6,.3l-1.1,.4l-.3,.3l0,-.6zM379.7,59l4.5,.7l-1.7,-3.3l-1.8,-.4zM383.7,57l1,2.3l.3,0l1.4,-.4l.1,-2.1l-2,-.8zM390.3,56.7l-2,-.5l-.3,-.1l-.7,.3l-.1,2.4l.6,.8l2.9,-1.4zM391.6,56.8l2.2,.4l-.3,2.2l-.6,.1l-1.4,-1.1l-.3,-1.8zM395.9,59.3l.5,-1.7l-.9,-1.7l-.8,1.8l-.1,1.4l1.2,.3zM401.7,58l-1.3,-1.1l-2.2,.5l-1.2,2.4l.6,.6l3.6,-2.3zM404,60.5l-.8,-.5l-.2,-1.3l0,-.1l1.5,-.6l1.8,1.6l-.3,.2l-1.9,1.1zM406.9,59.1l1.5,-.6l-1.9,-2.6l-1.3,1.3l-.2,0zM413,56.4l-1.3,-.1l-.9,2.4l.3,.6l2.7,-.2l.9,-.5zM417.5,56.7l-.2,.8l-2.1,1l-1.7,-2.7l.6,.2zM418.5,57.1l-.1,.6l1.1,2.3l.6,-1.1l.2,-2l-1.4,-.3zM421.4,58.9l1.7,-.4l-.2,-1.8l-.1,-.2l-1.3,.2zM424.2,59.1l.3,-.3l-.1,-1.8l1.4,-.5l1.3,1l-.6,.4l-1.2,1.4zM430.7,56.3l.4,1.4l-.9,2l-2,-1.9l.5,-.4l2,-1.1zM435.4,58.4l-.2,.3l-2.9,-.9l-.1,-1.6l3.8,.8zM439.1,57.3l-1.7,-.4l-.2,-.2l.1,.6l-.3,1l1.8,.8zM442.7,58.6l-1.1,2.3l-1.2,-.5l0,-.2l.4,-2.6l1.1,-.9zM446,58.1l.4,-1.4l-.4,-.4l-3.3,-.4l.3,.8l.5,1.4l2.4,.2zM447.6,58.2l.3,-.8l1.8,.2l.8,1.3l-.5,.2zM453.2,59.1l1.2,-2.5l1,.5l-.7,2.9l-.9,-.1zM456,59.6l.7,-2.7l1.1,-.3l.8,1.1l-.1,.2l-1,2.1zM461.4,58.8l-1.1,-1.1l-.1,-.2l2.1,-1.3l.7,1.1l-.1,.7zM465.2,59.5l1,-1l-.9,-1l-1,.2l-.3,.6zM467.8,58.2l-.4,.1l-1.4,-1.5l.7,-2.6l1.6,.2l-.4,3.9zM472,58.2l.2,-1.5l0,-.6l-3.6,2.4l.3,-.1l.5,.2zM473.4,58.5l.1,-1.8l3.1,.7l.8,.8l0,1.1l-1.8,.6l-2.3,-.6zM481.4,58.5l.8,1.1l-2.2,1.3l-.1,-.4l-.8,-1.1l-.1,-.7l1,-1.5zM484.3,55.8l2,1.4l-2.5,2.2l-.4,-.4l-.5,-1.2zM486,60.9l1.3,-2.9l.1,-.4l-.6,0l-2.5,2.1l1.6,.7zM492.5,56.2l-1.5,.2l-1.5,1l1,1l1,.4l1.6,-1.4zM493.9,57.9l-1.1,1.8l-.3,.4l2,.8l.4,.3l.1,-2.4l.2,-.3zM495.9,58.1l.4,.3l2.1,3.6l.2,-1.4l.2,-2.4l-1,-.6zM502.7,56.9l1.5,2l-2,2.2l-2.3,-.5l0,-2.3zM503.4,56.6l1.1,2l2.2,1.5l.2,-.1l.9,-3.8l.1,-.3l-3.9,.6zM508.3,59.3l1.1,-2.6l2,0l.3,.4l.2,.1l-.1,.1l-1.1,2.6l-.7,.3zM516.1,59.6l-.8,.3l-2,-2.3l.2,0l2.2,.1l.5,1.2zM519.7,57.9l1,-.5l-2.6,-2.1l-1.2,1.8l.7,1.4zM522.9,57.3l-1.8,.4l-.3,.9l.8,2.8l.1,.2l.9,-1.4zM525.6,57.5l-.5,2.4l-1.7,-.1l.3,-2.5l.3,-.1l1.3,.3zM527,57.5l1.8,2.7l3.4,-2.1l-3.4,-1.8l-2.2,1zM375.2,59.7l0,.3l-3,1.6l-1,-.6l-1.2,-1.6l1.3,-1.1l.7,-.2zM376.7,60.4l-.2,2.7l-1.9,.9l-1.5,-.1l-.9,-1.4l3.8,-1.4zM377.9,61.2l.2,1.9l-.4,.2l3.5,.5l.9,.3l.2,-.2l-3.3,-3.2zM379.9,60.2l2.9,3.1l.5,-.6l.9,-2.2l-.1,-.3l-4,-.8zM385.5,63.6l-.7,-.5l.6,-2.5l1.4,-.7l.7,.6l2,2.2l-.8,1.2l-1.3,-.1zM391.2,59l-2.9,1l1.8,2.5l1.1,.1l1.7,-2.4zM395.1,63.9l-1.5,-.2l-1.6,-1.2l1.3,-1.9l.5,-.2l1.8,.2zM402.1,60.3l-2.5,1.3l-2,-.9l3.9,-2zM403.4,62l-.3,3l-.6,.3l-.7,.1l-1.8,-2.4l-.3,-.6l2.5,-1zM405.2,61.7l2,1.2l-.6,-2.1zM407.7,60.2l1.3,-.1l.5,-.1l.3,.4l0,2l-1.1,.4l-.3,.1l-.1,0l-.7,-2.4zM415,62.6l-.9,-1.9l-2.8,-.3l0,2.5l1.3,1.2l1.8,-.7zM416.7,62.2l1.7,-.4l.4,0l0,-1.1l-1.3,-2.2l-1.7,.8l-.1,1l.7,1.7zM420.3,60.6l-.5,1.1l2.3,.4l.9,-2.2l-.1,.1l-1.8,.2zM424.7,64.4l-1.7,-1.8l1,-2.3l1.1,.5l.6,1l-1,2.8zM428.6,61l-1.8,.2l-.2,-.9l1.3,-1.1l1.6,1.2l-.3,.2zM433.9,61.6l.8,-1.9l-2.6,-1.1l-1.2,1.8l-.3,.3l2.8,1.3zM439.5,60.9l-.3,-.1l-2.6,-.9l-.3,0l-.9,2l1.6,1.2zM440.9,62.7l-1.2,2l-.7,.1l-.9,-.9l.1,-.3l1.6,-1.7l.9,.7zM445.6,59.5l-2.4,-.3l-.7,2.4l.4,.3l1.4,.3l.8,.2l.5,.1zM447.4,62.1l1.6,-1.9l-2.2,-.7l-.3,-.3l-.1,3.1l.4,.2zM452.2,62.4l.3,.3l0,-1.6l-.6,-.7l-.6,-.6l-.3,.5l-1.5,1.7zM457.8,64.1l-3.6,.4l-.1,-.7l-1,-.6l.6,-2.1l1.4,.2l1.9,.3l1.3,1.2zM461.3,61.7l-.1,-2.3l-1.9,-1l-.9,2.5l.6,1.2zM462.8,61.8l1.4,-.6l.2,-.9l-1,-1l-1.4,.3l.4,1.7zM468.3,59.7l-.4,-.2l-.5,-.3l-1.9,1l-.2,1.3l2,1.5l-.1,.3l1.6,-.7l.6,-.2zM472.3,59l-3.3,.4l1.3,2.5l1.2,-.6l1,-1.6zM473.2,60l1.6,.7l-.6,2.1l-2,-.9zM475.7,63.5l.8,.3l2.7,-2.1l-1.9,-1l-1.4,-.1l-1.1,2.6zM482.4,63.9l-1.5,-2.2l2,-1.3l.6,.2l1.4,1.1l-.4,1.4zM486.3,61.1l1.7,-3.3l.3,.3l.9,1.2l-1.4,2.2zM491,63.2l-1.1,.2l-.7,.3l-.7,-1.7l1.4,-1.8l1.2,.5l.5,-.2zM492.2,63.4l2.5,-1.6l-2.7,-1.2l-.9,2.7zM496.4,62.3l-.9,-.5l.3,-3.4l2.5,3.7l-.3,-.1zM500.3,64.2l-1.9,-2.1l0,0l1,-.5l2.9,-.4l.3,1.4zM504.2,63l.6,-.2l1,-2.2l-1.6,-.7l-1.3,1.5l.6,.7zM506.8,60.6l.2,-.1l2.3,1l-.6,3.7l-1.1,-.8l-1.9,-1.2zM513.3,61.5l-1.9,-.7l1.2,-2.2l1.7,2.2zM517.7,62.1l-.4,1.6l-1.6,.5l-1,-1.6l-.3,-.1l1.3,-.7l.9,-.5zM518.5,61.8l-1.3,-1.4l.6,-.9l2.1,-.5l.9,2.4zM524.8,60.9l.4,.8l-1.9,1.8l-.6,-.3l-.2,-1.2l.7,-1zM526.1,58.2l1.9,2.4l-.7,.7l-.9,-.1l-.4,-.8zM371.6,65l-1.4,1.1l-1.2,-.7l.1,-1.2l1.4,-1.9l.9,.9l.4,1.2zM373,65.6l1.7,1.5l.4,.1l-.7,-2.4l-1.2,.4zM375.8,66.7l1.5,-.1l-.4,-2.7l0,-.3l-2.1,1zM378.4,66.6l2.3,-1.6l-2.9,-.7l.2,2.1zM385.5,64.5l1.9,.2l-.8,2.3zM387.1,67.8l.2,.5l.2,.6l1,-.4l.4,-1.2l-.2,-2.3l-.9,.9zM393.3,64.8l-2.1,-2.1l-1.1,.3l-.6,1.3l.4,2.9l2.4,-.8zM399,62.2l-1.7,-1.1l-.7,-.1l-.2,-.1l-.8,3.2l1.4,.2l1.5,-1.7zM399.3,63.6l2.1,2.2l-.8,.1l-3.1,-.1l0,-.5zM403.9,61.8l-.4,3.3l2,.2l1.9,-1.4l-.2,-.1l-2.8,-1.8zM408.6,67.3l-.1,-2.8l-.5,0l-2.5,1.1l1.3,2.3l1.8,.2zM412,64.6l-1.4,-.9l-1.1,.9l-.2,2.5l2.3,-.9zM416.3,63.3l.6,2.2l-.8,1.6l-1.3,-3.3l1.1,-.4zM417,63.4l1.9,-.1l1.2,2.5l-.3,0l-2.1,-.2zM424.1,65.1l-1.9,-2.1l-2.6,-.5l-.3,0l1.5,3.2l1.8,.5zM426,64.7l.4,-2.1l2,0l0,2.3l-1.5,.4zM433,62.9l-2.6,-1.8l-.7,1.2l-.2,3l.9,-.1l2.2,-1zM436.1,64.1l-1.4,-.9l-.8,-.3l-.2,1.5l.8,1.8l.8,0l1.3,-1.9zM438.5,65.6l-1.5,1.7l-1,-.9l1.1,-1.8zM443.6,63.5l-1.6,-1.2l-1.7,3.2l1.6,2.5zM445,63.9l-1.9,4.4l-.7,-.1l0,-.2l1.5,-3.5zM448.8,66.4l2.7,-2.6l-3.6,-.4l-.7,.3l.9,2.2l.4,.7zM450.2,66.2l1.2,.7l1.5,-2.3l-.4,-.6l-.1,-.2zM457.7,64.9l-.7,2.1l-1.3,-.1l-.8,-1.8l2.9,-.3zM461.5,63.1l.7,1.5l-1.5,.5l-1.2,-1l-.3,0l.2,-.9l1.7,-.3zM463.1,62.8l1.6,-.8l2.4,1.9l-2.5,2.1l-1.6,-1.2zM468.2,67.8l-.4,-3l1.4,-.7l.2,.7l-1,3.2zM470.4,63l-.1,.5l-.2,.7l2.2,1.9l1.9,-1.3l-.2,-.5l-.3,-.7l-1.7,-.8zM476.7,68.4l1.6,-1.3l-1.9,-2.1l-.8,.3l-.5,0l1.6,3.3zM479.3,66.4l1.9,-.8l-.2,-.6l-1.1,-2.4l-.1,-.2l-2.5,2.1l1.9,1.6zM482.2,65.9l1.2,.8l2.3,-1.3l-1.2,-1.4l-2,1.3zM486.9,64.9l1.2,.3l.3,-1.1l-.6,-2.1l-1.7,.1l-.1,.1l-.7,1.2zM492.3,64.2l2,1.6l-.2,.2l-1.7,.3l-1.8,-1.8l1,-.6zM492.8,63.6l2.1,1.6l.9,-2.3l-.7,-.6l-.3,0zM499.6,65.9l-1.3,.6l-2.1,.3l-.3,-.6l.3,-.4l.6,-1.8l1.3,-.7l1,1.8zM502.8,66.3l.8,-2.1l-1.1,-.9l-1.5,1.7l0,.9l1.4,.2zM503.7,66.5l.8,.6l.5,-.1l.2,0l1.5,-1.3l-1.6,-1.6l-.8,.2zM510.8,65.7l-.8,-1.1l.1,-2.7l.8,.1l2,.9l-.1,.2l-1.2,2.4zM512.1,66.3l1.7,-2.7l1.4,1.5l.2,2.1l-.3,-.3zM516.6,67l-.8,.1l.3,-1.7l1.4,-.4l.6,.6l-.7,1.6zM519,62.4l-.5,1.6l1,.4l1.1,.3l.9,-1.2l-.4,-.9l-.2,.1zM526.1,62.2l-2.1,1.4l1.4,1.3l2.1,-1.8l-.4,-.6zM525.9,65.7l1.5,-1.4l1.5,.7l-2.5,2.3l-.6,-.2zM372.3,70.1l1.8,-.5l.3,-1.6l-2.2,-1.9l-1.8,1.1l.5,1.4l1.4,1.7zM377.6,71.1l-1.4,-.3l-1.8,-1.1l1.2,-1.5l0,-.6l1.9,-.4l.5,.4l.7,1.2l0,1.8zM379.7,68l-.1,-1.1l2.2,-1.5l.2,0l.3,1.8zM379.8,70.6l0,-1.5l2.8,-.7l.6,.4l-.9,1.8l-2.2,.3zM384.9,64.7l-.8,.3l-.5,.1l-.4,-.1l.6,2l.3,.2l1.7,.8l-.2,-.9zM393.6,69.4l-1,-1.9l-2.2,.2l-.7,1.3l1.8,1.1l1.8,-.6zM396.6,65.5l.1,.5l0,2.7l-2.2,.6l-.9,-2.4l.3,-1.6l1.5,-.9zM400.6,66.6l-3,-.1l-.3,1.9l1.8,.8zM401.7,66.4l-.4,.1l-1.8,3.3l.4,.6l0,.4l3.3,-1.5l-.6,-3.3zM403.2,66.3l1,3l.3,.1l1.8,-1.6l-1,-1.9l-1.7,-.3zM412.3,67.9l-.9,1.7l-1.7,-.6l-.5,-.7l.2,-.4l2.5,-.6zM414.3,65.2l-1.1,.2l-.3,1.4l.2,.6l2,.4l0,-.1zM416.5,68.4l-.2,.2l.2,.8l1.4,-.6l2.2,-2.3l-2.7,-.4zM422.6,67.1l-2,-.7l-.1,.2l-2.2,2.4l1.9,.3l2.5,-.8zM424.8,65.8l-1.3,1.3l-.4,1.5l.8,1.8l3.2,-.1l-.6,-4.1l-1.7,-.4zM430.7,69.4l-.9,-2.8l-.6,-.6l-2.1,.3l.9,3.6l.8,1zM432.8,69.1l.4,-.1l.4,-1.9l-.9,-1.2l-1.7,.7l.8,2.3zM434.4,66.8l-.7,2.7l3,-.3l.3,-1.6l-1.6,-.6zM440.8,68.7l-1.2,-2l-.7,-.5l-.8,1.8l-.6,1.3l.1,.1l1.8,.3l1.7,-.5l-.3,-.4zM447,66.2l-2.6,2.5l-1,-.2l2.2,-4.9l.4,-.5l.3,.8zM448.1,67.7l-.2,3.7l-.8,.5l-2.7,-2.9l3.2,-1.8zM451.7,67.8l1.1,.6l1.2,-.2l.4,-.4l-.7,-2l-.2,-.9zM457.2,67.7l-2.3,.4l-.3,.7l1.3,2.4l2.3,-1.9zM458.6,65.2l-1,2.4l1.6,1.1l.1,.7l1.4,-1.4l0,-1.7zM464.5,68.7l-2.8,-.9l-.5,-1.6l1.7,-.5l1.4,.6l.1,2.2zM467.4,67.9l-.5,-3.5l0,.2l-2.1,1.5l.5,1.8zM468.9,68.5l1.2,-3.5l1.8,2l-.1,.6l-1.9,2zM476.7,69.1l-1.9,-3.9l-2.3,1.7l0,.7l2.6,1.7l.9,0zM480.2,70.5l-1.1,-3l-.3,-.1l-1.9,1.6zM481.3,70.9l1.9,-1.7l-.4,-1.3l-1,-1.5l-1.8,1.3l.5,2.4zM485.6,70.2l-1.9,-.9l.2,-1.6l2.9,-1.7l1.1,-.1l.1,2.4l-.3,1zM490.4,67.3l-1.3,.6l-.5,-2.3l.5,-.9l.7,.3l1.6,1.7zM495.5,67.4l-.1,.9l-1.8,2.1l-2.4,-2.2l1.5,-1l1.9,-.1zM496.1,67.9l2.6,-.1l.6,2.8l.1,.4l-1.9,-.6l-1.3,-1.7zM502,67.3l-1.3,3.3l-.4,-.5l-.7,-2.2l1,-1.2zM505.6,68.4l1.2,2.8l.5,.2l.2,-1.6l-1.8,-1.5zM510.1,67.9l-1.8,.9l-2.2,-1.4l1.8,-1.5l.8,-.3l1.4,1.5zM514.3,67.9l.6,-.5l-3,-.8l-1.4,.5l.3,.9l1.3,2.1zM514.6,69l-.2,3.1l-.2,.1l-1.1,-.2l-.5,-1.5zM519.5,68.6l1,-.8l-.1,-1.6l-1.3,-.2l-.7,1.5zM522,67.5l-.2,-1.7l.8,-1.6l.5,.1l1.3,1.5l.5,1.3l-2.1,.8zM374.8,75.3l-.2,-.4l-1.7,-3.7l1.4,-.6l1.3,.9zM376.9,72.2l-.9,-.1l-.8,3.3l0,.1zM380.3,71.9l2,-.3l1.4,1.9l.2,.2l-2.5,.9l-1.2,-2.2zM383.2,70.7l1.5,2.1l2.1,-2.5l.1,-.5l-.8,-.1l-1.7,-.5zM390.1,72.8l.8,-2.3l-2.1,-.9l-.8,.5l.1,.5l1,1.5zM391,73l3,-.6l-.6,-1.7l-1.8,.1l-.6,2zM398.3,70.7l-2.5,2.1l-.6,-1l0,-1.5l-.2,-.3l1.6,-.6l1.6,.8zM400.3,72.8l-.6,-1.9l0,-.1l-4,3.2l-.2,.2l1.9,.1zM401.7,72.1l-.7,-1l2.6,-.6l.2,0l.2,.5l-.9,1.3l-1.1,.6zM408.1,68.8l-1.2,-.7l-2.5,1.9l.6,.7l2.5,1.1l.2,-.3l1.2,-1.9zM411.4,70.6l-1.6,0l-.5,1.2l2.1,.9l.5,-.5zM415.5,69.2l.4,.4l-.5,1.9l-2.4,.6l-.7,-2l.9,-1.8zM416.9,69.9l1.2,-.5l1.5,.8l-.1,1.4l-.9,.7l-2,-.3l-.6,.1zM422.7,69.3l-2.2,.9l.6,1l1.4,.3l.6,-.9zM427.7,72l-.4,1l-3.5,.2l.2,-1l.4,-1.3l2.8,.1l1.1,.7zM432.4,71.8l-1.7,1.2l-1,-1.2l-.2,-.2l1.6,-.9l.9,.1zM434.4,71.5l.4,.4l.7,-.2l.8,-1.5l-.3,0l-1.7,.1l-.6,0zM437.5,70.4l-1.2,1.8l2.2,.4l.6,-2zM442.1,73.9l0,-.4l-.9,-2.5l-1.4,.3l-.6,1.6l.4,1.3l-.1,.5zM443.5,69.8l.6,-.1l1.6,1.9l.2,.4l-2.4,.5l-1.2,-2.7l.2,-.2zM449.4,68.3l1.4,.1l.6,1.1l-.5,1.1l-1.3,1l-.8,-.1l.2,-3.6zM454.2,69.9l-1.3,-.2l-.1,1.5l1.3,1.1l1.2,-.5l-.1,-.6zM459,71.2l-1.7,.8l-.8,-.2l.4,-.6l1.8,-1.1l0,.2zM464.8,68.9l-3.7,-.7l-1.1,1.5l.4,1.4l.8,.5l2.4,-1.9zM465.2,72.7l-.4,.1l-3.2,.1l-.1,-.6l2.8,-2.2zM468.8,72.1l-2.4,-.4l-.5,-1.8l.1,-.3l-.5,-.3l2.1,.2l.4,-.1l1,.6l.2,1.6zM470.9,71.6l1.8,1l1.9,-2.6l-2.4,-1.5l-1.9,1.5zM476.7,74.2l-2.3,-.9l-1.1,-.5l2.1,-2.3l.8,-.4l1.1,2.1zM477.8,71.8l-.9,-1.9l.1,-.6l.4,.3l2.2,.9l1,.8l-.4,-.1zM481.9,73.6l.6,0l2.3,-1.4l-.2,-1.3l-1.2,-.3l-1.5,1.1l0,0zM486.9,74.6l-.7,-2.1l0,-1.5l1.7,-.2l2.4,2l-1.2,.4l-1.4,1.3zM490.6,72.2l2.3,.1l.3,-.9l-2.4,-2.9l-1.1,.9l-.8,.6zM495.4,68.5l1.2,2.5l-.9,2.7l-.4,.2l-1.4,-.5l-.2,-.9l.3,-.8zM498.1,72.6l1.1,-1l-1.7,-.7l-1,2.2zM503.1,66.9l.7,1.4l-.4,3.7l-.6,.7l-1.8,-1.4l1.6,-4.1zM505,68.2l1.6,3.8l-1,.6l-1.6,-.4l.4,-4.1zM511.5,70.5l-1.1,-1.6l-1.5,1.2l-.5,1.5l3.2,.3l.1,-.1zM516.2,71.9l-1.1,.3l.1,-3.8l.2,-.3l.1,.1l.5,.1zM516.5,73.1l-.1,-5.2l1.2,.2l1.7,1.2l-.7,1.7l-1.8,1.5zM518.9,71.1l3,1.1l1.2,-.4l-.9,-2.5l-.9,-.8l-1.5,.9zM524.4,70.8l.9,.5l.3,.1l.7,-.9l.1,-1.5l-.5,-.3l-.4,-.5l-1.4,1.3zM373.6,74.7l-1.4,-3.2l0,-.4l-1.4,1.7l.5,1zM376.1,75.1l-.2,0l1.7,-3.4l.9,.3l.2,.2l.1,.4l-2.2,2.3zM378.5,76.7l-1.9,-.6l2.8,-2.9l1.7,1.7l-.7,1.9zM381,76.7l.6,-1.5l2.2,-.4l1.3,.2l-3.2,3.2l-.3,-.2zM387.9,73.4l-1,-1.7l-2.2,2.1l.2,.2l.5,.8l.9,.6l.1,.1zM390.6,76.7l-2.5,-1.3l1.2,-1.8l.8,.6l.2,-.3l.4,2.4zM392.1,76l-.9,-2.3l3.1,-.8l.6,1.3l0,.1l-.6,1.5zM400.8,75l.2,-.9l-.7,-.4l-1.9,1.1l1,.9zM403.2,76.3l1.4,0l.7,-1.1l-1.8,-2l-1.5,1l0,1zM405.9,74.8l-2.1,-1.8l1.2,-1.7l2.3,1.1l-.7,2.3zM407.9,74.7l.5,-1.5l-.1,-.6l2.3,1.2l-.1,1.4l-1.2,1.4zM412.8,72.5l-.8,.9l-.4,2.5l.8,-.6l4,.5l-.5,-3.3l-.4,0zM419.5,74.7l-2.3,1.8l-.3,-1.1l-.4,-2.4l2,.4zM422.4,73.6l-.1,.7l0,.4l-1.7,-.3l-1,-1.4l1,-.7l2,.4zM423.8,73.7l2.7,0l-.6,1l-2,-.1zM428.8,73.2l-.7,.8l-.8,1.2l.6,2.7l1.1,-.7l1.5,-1.2l-.6,-1.2zM433.6,72.9l.5,.7l.2,1.9l-1,.8l-1.5,-.5l-.8,-1.3zM435.5,75.1l1.1,.8l1.3,-1.2l.4,-1.5l-2.1,0l-1,.3zM442.5,75.2l1,1.6l-2,1.1l-1.4,-2.3zM443.4,74.7l.1,-.5l2.5,-.7l-.3,2.8l-.3,.4l-1,-.2l-.1,.4zM446.8,72.6l.3,-.3l1,.4l.9,.3l.6,1.7l-3.4,1.3zM453.1,75.7l-1.9,.4l-.7,-1.5l-.5,-1.3l1.7,-.9l1.6,1.1zM454.3,75.7l0,-2.4l1.5,-1l1,.6l1.4,4l-3.2,-.5zM460.4,72.9l-.1,.6l.1,.5l-1.5,1.7l-.2,.1l-.9,-2.5l2,-.7zM464.5,73.5l-.6,1.7l-2.1,-1.2l.1,-.5zM468.7,73.6l-.4,2l-.1,.1l-1.8,.4l-1.3,0l-.1,-.1l1,-2.1l-.3,-.8zM470,73.3l-.6,2.3l3.1,.6l.8,-2.2l-.5,-1.1l-2.2,0zM477.1,75.2l-2.1,3.5l-1.4,0l-.4,-1.6l.6,-3.2l2.9,.7zM477.5,75l1,.2l2.2,-.2l0,-.9l.2,-2.2l-3.3,.4l-.3,2.1zM482.1,77.6l-.1,.1l-.6,-2.3l.5,-.6l.5,-.1l2.5,1.2zM485.3,75.4l-1.8,-1l1.9,-.9l.7,1.6l-.5,.5zM488.2,75.7l1.3,1.9l1.6,-.3l-1.2,-3.3zM491,73.5l1.8,-.1l.6,.3l-1.2,2.9l-.5,-.4l-1.2,-2.4zM498.1,73.2l1.6,2.7l-3.3,-.8l-.5,-1l.1,-.2zM499,73l1.2,2.3l.1,-.3l1.1,-1l.5,-1l-1.2,-.6l-.5,-.4l-.2,0zM503.9,76.4l2.1,-1.6l-.6,-1.2l-1.8,-1l-.5,.4l-.9,1.4zM510,75.6l-3.1,-.8l-.4,0l0,-1.3l.7,-.9l.5,-.1l4.8,.2zM512.6,73.8l-.1,.3l-.9,1.6l-.1,1.3l1.5,.7l.1,-1.3l.7,-2.5zM516.1,73.6l-.8,-.3l-.4,.1l-.2,2.5l2.3,-1.2l-.6,-1.4zM517.7,73.5l.6,1.3l.2,.1l1.3,.2l1.2,-2.1l-2.1,-.8zM522.1,72.8l-.9,3.1l.2,.2l1.2,0l1.2,-1l.6,-1.7l-1.3,-1.5zM525.6,73.1l-.5,1.9l2.5,1.5l.5,-1.6l-2.2,-2.2zM374.4,76.4l.1,-.2l-.4,.1l-.2,-.2l-2.7,-.9l-1.2,1.9l.3,.6l1.1,.1l3,-1.4zM374.8,76.9l-3.1,1.8l.9,3.1l.9,-.8l1.2,-1zM378.1,77.1l-2.2,-.7l-.6,.3l0,-.1l-.1,3.6l1.6,.7l1.6,-.2zM378.7,77.4l.3,3.4l.8,-.1l1.4,-2.3l-.9,-1zM384,78.3l-1.5,-.3l2.5,-2.4l.8,.7l-.4,1.7zM389.8,77.5l-2.6,-.7l-.5,-.5l0,1.8l.6,.8l2.1,-.6zM392.3,80.5l-.6,-.6l-.6,-1.1l0,-1.4l.5,0l2.4,-.9l1.3,2.5zM398,76.9l-1,-1l-.8,-.3l-.8,.9l1,1.8l1.3,.9l0,-.6zM400.6,79.7l1.1,-.9l.4,-1.3l-1,-1l-1.6,.7l-.2,2.1l.4,.4zM406.1,79.4l-1.6,-2.4l-1.2,.2l-.5,2l.4,0zM406.9,79.5l-1.6,-2.8l1.1,-.7l.4,-.7l2,2.1l-.2,1.5l-1.5,.4zM411.6,79.8l1.4,-.8l-1.5,-2.1l-.1,.2l-1.5,.6l0,1.2l.8,.8zM414.7,79l-1.9,-2.5l3.2,.1l.7,.6l-.1,.7l-1.3,1zM422,75.7l.4,.6l-1.9,1.8l-1.4,.6l-1.9,-.7l0,-.9l2.9,-1.8zM422.6,80.2l1.1,-2.2l-1.1,-.9l-1.2,1.3zM426.4,78.3l-1.9,-.8l-1.2,-1.1l.3,-.5l-.2,-.6l2.8,.3l.9,2.4zM433.2,76.5l.2,2.9l-1.9,1.7l-1.5,-2.7l1.4,-1.4zM433.6,76.6l.6,2.3l1.7,1.4l.7,-2.7l-.2,-1.1l-1.6,-.4zM439.1,75.6l-.1,.2l-1.9,.8l.3,1l2.2,1.6l1.1,-.3l.1,-.4zM443.7,77.9l.2,-.3l.6,2.6l-2,.2l-.5,-1.2l.1,-.2zM445.8,80.2l1.8,-1.1l-1.9,-1.2l-.9,-.2l.9,2.2zM445.8,76.9l.3,-.4l3.5,-1.4l1.1,1.7l-.8,2.4l-.5,-.1zM453.6,76.2l-2.5,.6l-.9,2.5l.5,1.2l1.4,-.2l1.5,-.1l.9,-3.2zM455.4,77.2l-1.1,3.2l1.9,.4l2.4,-2.6l-.3,-1.1l-.2,0zM464.4,76.4l-1.5,1l-2.1,1.1l-1.3,-.6l-.4,-.9l1.9,-2.6l2.9,1.9zM466.5,80l-.6,-2.5l-.8,-.2l-.8,.7l1.3,1.9zM467.6,80.7l1.4,-1.1l-.1,-3.3l-2.2,1.3l.6,3.1zM472.5,77.4l0,1l-1.8,.9l-.8,.2l-.6,-3.1l.4,.2zM477.2,75.5l-1.7,3.4l-.1,.3l2.7,-1.1l-.1,-2.1zM478.8,76l.4,2l1,.6l1,-.8l-.7,-1.7zM482.4,78l2.7,-1.4l.3,-.2l0,2l-1.1,.5zM486.4,78.1l1.6,1l.5,-.6l.1,-.4l-1,-1.9l-.5,.4l-.5,.1zM489.9,79.1l2,1.9l1.8,-1.8l-1.7,-1.2l-.5,.1l-1.5,.5zM494.3,78.5l-1.4,-1.1l1.3,-3l.9,.7l.5,.8l.2,2.2l-.6,.8zM499.8,77.6l-3,.3l.1,-2.1l2.8,.6l0,0zM501.7,78.7l-.7,-.5l-.3,-.3l.2,-1.1l.9,-1.6l1.2,2.2l-.5,1.1zM503.7,78.6l.3,-1.2l2.1,-1.7l.3,-.2l.1,3.3l-.3,.9zM510.3,77.6l-.8,.6l-2.2,.7l-.3,-3.4l3,.9zM517.3,75.8l-2.8,1.7l-.1,.5l-.1,.5l1.6,.3l1,-2.4zM518.3,75.7l-1.8,3.4l1.2,1.6l1.2,-.1l1.3,-3.1l.3,-.6l-.3,-.1zM521.6,77.7l.9,.2l1.5,1.3l-1.4,1l-.2,.3l-1,-2.7zM525.1,79l.4,.1l1.6,-.7l.2,-1.4l-2.6,-.8l-1.6,.8zM372.4,82.2l-1.6,-3.5l-1.3,-.6l-.3,3.2l2.8,1.3zM375.3,80.6l-1.4,1.1l2.4,2.2l.2,-2.7zM378.7,81.6l-1.5,-.1l-.3,2.3l.1,.1l2.1,-.5l.1,-1.2l.2,-.2zM381.6,78.7l.3,-.1l1.2,.8l.2,2.2l-2.8,-.3l-.5,.3zM384.3,81.5l1.9,-.1l.1,-1.4l-.6,-1.2l-1.9,.5l.4,1.9zM390.5,80.5l-2.8,1.7l-.3,-.8l-.1,-1.4l2.8,-.5zM393,81.1l2.6,-1.2l1.1,.5l-1.4,1.7l-1.9,-.6zM399,80.7l-.7,-.5l-.4,.2l-2,2.3l.5,1.7l2.1,-.2zM404.1,81.9l-1.2,-1.9l-.2,0l-1.8,.6l2.1,2.8zM406,81.8l.6,-1.6l0,-.2l-2.8,-.2l1.2,2zM410.2,80.7l-1.3,-1.2l-1.6,.7l-.7,1.7l.4,.9l2.3,.3zM412.3,80.9l2.2,-1.2l.7,.1l.2,2.2l.2,.6l-1.9,1.1zM416.3,81.6l2.8,.5l-.6,-2.8l-1.3,-.4l-1.2,.8zM421.9,80.8l-1.2,-1.2l-.9,.2l.2,2l0,.3l2.5,-.1zM425.4,81.4l.7,-1.9l-1.7,-.7l-1.1,1.9l.4,1.2l.1,0zM428.4,83.3l-2,-1.7l1.1,-2.1l.5,-.4l1.1,-.6l2.1,3.1l.1,.5zM432.4,82.4l2.9,.5l.7,-.6l-.8,-1.1l-1.5,-.7l-1.6,1.2l0,.4zM437.4,81.5l1.5,-1.5l-1.8,-1.1l-.6,1.9l.4,.9l.3,-.1zM438.6,81.6l1.3,-1.7l1,-.2l.5,1.6l.1,.2zM442.8,83.5l-.3,-1.5l.3,0l1.7,-.4l.3,0l.2,1.3l-2.3,.9zM446.4,81.2l.4,1.5l.7,.3l1.9,-.4l.6,-1.8l-.5,-.8l-.3,-.2zM451.9,85.6l1.5,-1.7l-1.3,-3l-1.5,-.3l-.2,2.7l1.2,1.8zM455.8,82.5l-1.5,1.1l-.3,-.1l-1.9,-2.6l1.9,-.2l2,1.1zM459.2,84.1l-1.4,.2l-1.1,-1.8l-.2,-.6l2.4,-3.4l1.4,.9l.9,2.6l-1.1,1.7zM464.5,80.6l-1.1,-2.1l-2.2,1.1l.7,1.9l.1,.1zM466.8,81.7l-.1,-.2l-1.1,-.4l-2.6,1l2.3,1.9l.2,-.1l1.8,-2.2zM468.3,81.6l1.4,-.9l.8,-.2l1.4,2.8l-.1,.1l-1.9,.4l-1.6,-2zM475,79.5l.2,1.1l-2.6,2.4l-1.1,-2.9l2.1,-1l1.3,.4zM476,79.9l.4,.7l1.6,1.8l1.2,-.5l.2,-2.1l-1,-.4zM482.1,78.9l-.1,.1l-.7,1.1l-.4,1.5l1.4,.8l1.2,-.3l-.1,-2zM484.7,80.3l.1,2.3l.5,-.1l1.4,-.4l.4,-1.5l-1.4,-.8zM491.4,83.3l0,-1.7l-2.1,-2l-.9,.5l-.3,2.2l.9,.4zM492,83.6l.5,-1.9l1.5,-1.7l.7,.1l.6,1l-2.5,2.8l0,-.3zM499.9,78.7l-2.8,2.2l-.4,-.6l-.7,-.9l.3,-.8l3.7,-.4zM500.5,82.7l-2.5,-1.4l-.1,0l2.5,-1.8l.5,.7l-.1,2zM502.4,82.2l.4,-2.2l.6,-.3l2.3,.5l-.4,.9l-.3,.8zM507,81.2l1.5,1.1l1.1,-.4l-.1,-.1l.1,-2.5l-2.4,.4l-.6,.4zM512.6,79l-1.3,-.7l-.7,.9l.1,2.2l2,-.9l.2,-1.2zM515.8,79.6l1,1.4l-1.8,2.1l-1,-2.1l-.1,-1.6zM520.6,78.3l.9,2.6l-1.8,.1l-.3,-.2zM523.3,81.5l.2,1.9l1.9,-1.4l-.3,-1.9l-.3,-.3zM526.5,80.3l1.3,-.3l1.1,.5l-.2,1.9l-.9,0l-1.3,-.5zM374.3,85.9l-1.4,-1.1l-.3,-1.7l.4,-.3l.7,-.6l2.4,2l-.3,.1l-.9,1zM376,85.9l1.2,-1.2l2.2,-.4l.5,.5l-.3,.4l-1.6,1.3zM383,84.1l0,-1.6l0,-.3l-2.5,0l-.3,1.6l.4,.5zM385.4,85.4l1.4,-.9l-.3,-1.2l-.3,-.6l-1.3,.3l-.1,1.2zM389.5,84.7l-.9,-.3l-.7,-1.7l3.4,-2l.7,.6l.2,.6l-.8,1.4zM390.6,86.5l-.6,-.9l1.8,-1.2l.9,1l-.2,.5zM393.9,84.7l.9,.3l.5,-.5l-.1,-1.4l-2.3,-.6l.1,1.3zM402.5,84.4l.4,-.2l-2.3,-3.8l-1.1,.5l-.2,3.5l1,1.1l2.6,-.9zM403.8,84.3l-.1,-.2l1.2,-1.1l.7,-.2l.2,.6l-.3,1.5zM407,86.8l2.1,-2.6l.3,-.6l-2.4,-.3l-.8,2.7zM411.7,81.4l.8,2.2l-.2,1.5l-1.9,-1.5l-.3,-.2l.5,-1.8zM414,84.5l1.4,-.8l1.2,1.8l-.1,.8l-1.3,.3l-1.9,-.4l.2,-.5zM416.5,82.9l-.1,-.4l2.7,.1l-.1,.3l-.1,1.1l-1.4,.8zM422.9,86.2l.1,.3l-1.2,-.1l-1.9,-2l.2,-1.4l2.7,.3l.1,0zM428.1,84.4l-3,2l-1.4,0l-.2,-3.7l2.4,-.6l1.5,2.1zM428.9,84.4l.9,1.7l1.6,-.3l-.2,-2.4l-.2,-.3l-2.2,1.1zM432.5,83.3l3.3,.1l-.2,2.7l-2,.8l-1.6,-.4zM440,84.8l-2.8,-1.8l-.3,.3l-.5,.5l.1,1.9l1.1,.8l.1,.3zM441,83.9l.4,-1.7l-3.2,.3l-.3,0l2.6,1.6zM442.9,84.7l2.9,-.9l.3,.6l.4,.4l-2,1.9l-.7,-.5zM450.9,85.8l-1.1,-2l-2.1,.7l-.4,.5l1.7,2.8l1.9,-1zM455.1,85.9l-.8,-1.2l-.3,-.1l-.8,.9l1.7,.9zM455.8,85.3l-.8,-1.3l1,-.6l1,.9zM463,87.2l-1.1,.5l-1.3,-.8l-.4,-1.4l.6,-.5l2.2,1.4zM463.8,86.2l.8,-1.5l-2.7,-2.6l0,.4l-.9,1.4zM467.6,82.2l1.4,2.6l-.2,.7l-1.1,.4l-2,-1zM472.1,84.2l-1.7,1l-.5,.8l1.4,2.1l2.9,-2zM474.7,86.1l.1,-.5l-2.1,-1.8l.2,-.2l2.4,-1.7l2.7,1.4l-.7,1.2zM479.7,86.5l1,-.2l.5,-.5l.5,-2l-1.8,0l-.8,.4l-.4,.5zM482.9,88l-.4,.1l-.9,-.6l.5,-.8l2.2,.2zM488.1,84.3l-.8,-1l-1.7,.8l.5,2.2l1.3,1.4l.7,-.6l.1,0zM491.8,83.9l-2.5,.1l-.2,3.5l2.3,-.8l.2,-.1l.8,-2.1zM495.8,84.2l-1.8,-.6l1.9,-2l.6,.2l-.1,.1zM499.9,84.1l-2.2,-1.2l-1,1.9l-.1,0l1.6,.8l1.5,-.9l.3,-.3zM501.9,83.8l.2,-.6l2.4,-.3l-.1,1.7l-2.4,-.6zM505.5,82.4l1,-1.2l1.6,1.9l-.5,1.8l-1,1.5l-.9,-1zM511.9,85.1l-1.4,.4l-1.9,-.6l.5,-1.6l1,-.7zM515,84.5l-1.9,-3l-2.8,.8l.6,.4l1.3,2.4l2.3,.2zM515.9,84.3l1.6,-2.3l.8,.1l.4,.1l.3,2.4l-1.2,.5l-1.8,-.2l-.3,.1zM522.5,82l.1,1.4l0,.9l-2,.1l-.5,-2.5l2,.3zM524.3,84.2l-.1,.6l.4,.6l.7,.1l.9,-.6l.9,-.8l-1.5,-.7zM374,87l-1.8,-1.2l-2.3,.7l1.7,3.2l1.5,.5l1.3,-.7zM375.4,87.5l.1,1.7l.5,.4l1.7,-.2l.4,.2l-.9,-2l-1.3,-.6zM379.1,89.4l.3,-.1l.7,-.3l.4,-.7l-.6,-1.7l-1.2,.9zM384,86.8l-2.5,1l-.9,-2.4l.1,-.4l2.8,-.1l.8,1.4zM389.1,87.4l-.5,-1.1l-1,.1l-1.3,.7l-.6,.3l1.1,2.4l.1,.1l2.3,-2.5zM390.3,87.2l2.1,-.7l0,1.6l-1.7,-.4l-.5,-.4zM393.3,87.9l1.5,.7l.3,.1l-.4,-2l-.8,-.6l-.5,.5zM399.9,86.2l-.9,2.4l-2.9,.4l-.6,-3.1l.8,-.8l2.1,0zM402.6,88.7l-1.7,.5l-.6,.3l.2,-.3l-.5,-.1l.3,-2.5l1.8,-.1zM406.5,87l-.5,-.8l-2.8,-1.3l.6,.7l.1,2.7l1.4,-.1l1.7,-.4zM407.7,87l2.1,-2.2l1.8,1.5l-.2,.4l-1,1.4l-.8,.2l-1.6,-.7zM413,87.2l-1.5,1.7l1.5,1.5l1.9,-.4l0,-2.3zM418,88.3l-1.1,-1l-.9,.7l.2,2.2l.7,.3zM419.9,87.2l1.1,-.2l-1.8,-2l-1.1,.9l-.3,.6l1.3,.7zM427.8,89.3l0,0l-2.9,.9l-.3,.2l-.7,-2.9l0,-.1l1.2,.2zM428.1,85.2l-2.5,1.6l2.8,1.8l.5,-1.7zM430,87.6l-.4,1.5l-.4,.1l.1,.1l1.5,.4l1,-.7l.7,-1.2l-1.1,-.3zM434.2,87.8l-.5,1.3l1.1,.6l1.8,-1.7l-1.1,-.8zM441.5,85.7l-.6,-.2l-1.7,1.9l1.1,1.1l1,-.1l1.1,-1.6l-.7,-1.5zM443.6,87.6l.8,-.2l1.7,2l-2.1,1.3l-1.5,-1.5zM446.9,88.7l-1.6,-1.4l1.6,-1.5l1.2,2.4l.1,.1l-1.2,.4zM451.2,87.8l-1.9,.8l.6,.2l.7,1.8l3.1,-.1l0,-.4zM455.1,87l-2.7,-.7l-.3,.1l-.7,.6l2.5,2.4l1.3,-.9zM459.5,87.5l-1.5,1.2l-1.6,-.3l-.5,-1.5l0,-.6l1.8,-1.5l1.1,.7zM463.7,88.4l1.4,1.1l.1,.1l-1.4,1.5l-.4,-.1l-.2,-.1l-.2,-1.8zM464.2,87.2l1.7,1.4l.9,-.7l.1,-1.2l-1.6,-1.2l-.1,-.3l-.8,1.3zM467.9,88.1l2.3,1.3l.7,-.1l.2,-.9l-1.7,-1.7l-1.7,0zM474.2,87.2l-.1,.2l-1.9,1.2l0,.6l1,1.1l.4,-.1l1.1,-1.7zM475.4,86.5l2,-.8l1.4,1.9l-.7,1.7l-2.1,-1.2zM482.9,83.8l-.7,2.1l2.9,.5l-.1,-.4l-.3,-2.2l-.4,-.2zM484,88.5l1.5,2.5l.5,.2l.7,-2.7l-1.2,-1l-.1,-.1zM491.2,87.3l-.2,4l-1.9,-3l.1,-.1zM493,85l0,-.1l2,.5l.2,-.1l-.8,1.8l-.9,.3l-.8,-1zM496.9,88.3l.6,-2l-1.5,-.9l-.6,2.4zM498.1,88.7l-.2,1l2.2,-.4l1.2,-.9l-1,-2.4l-1.9,.5zM502,85.2l-1.1,-.2l1.6,3.1l2.7,.7l.6,-.8l0,-1.6l-.6,-.7zM508.5,88.7l-1.5,-.6l.3,-1.4l.8,-.8l1.5,.8l-.5,1.7zM514.3,86.1l0,.1l-1.1,2.3l-.7,.8l-1.5,0l-.2,-.5l.7,-2.1l.8,-.5zM519.1,89.5l-.8,-2.9l-2.9,-.1l-.6,2.5l2.2,1.9l.9,-.4zM519.6,89.3l-1.2,-2.8l1.7,-1.1l2.6,0l1.3,.7l-1.7,3.8l-2.4,-.4zM523.5,90.1l-.6,-.3l-.1,-.1l1.3,-3.1l1.1,0l.8,2.6l0,0zM527.3,86l.7,.5l0,1.3l-1,.6l-1.2,-1.9zM371.2,91.1l-1.1,.7l-.2,.6l.9,1.6l.4,-.3l.8,-.4l.4,-2zM375.6,90.3l-.2,2.6l-.6,1.6l-1.7,-.8l.1,-3.1l1.5,-.7zM376,90.6l.3,2.2l1,0l1,-2.4zM383.6,92.1l-2.6,1.7l-.5,.7l-.8,-3.8l1,0zM384.5,88.4l1,2.7l-.2,.2l-1.3,.3l-2.1,-1.8l.5,-.7zM389.8,88.2l-2.2,2.5l2.9,.1l-.5,-2.2zM391,88.3l.5,2.5l.2,.1l2.7,-.5l.5,-.5l-2.3,-1.2zM398.5,90.6l.3,-.7l-2.6,.4l-.1,.2l-.2,.4l.1,2.7l1.4,0zM400.3,90.2l.6,0l2.3,2.3l-.6,1.6l-1.7,-.9zM403.5,89.5l-1.9,.6l2.2,1.7l.7,.1l.3,-2.2zM407.1,88.2l1.4,1.5l.1,.8l-1.5,2.7l-1.2,-1.3l.1,-2.5zM411.1,93.1l1,-.7l0,-1.3l-1.3,-1.6l-1.1,.1l-.2,1zM416.4,92l0,0l-.7,-.8l-2.5,.3l-.4,1.2l2,1.5l.8,.3l1,-2.3zM417.4,91.3l.2,-.2l1.4,-2.8l1.1,.3l.2,2.4zM420.9,90.7l.1,-2.4l.8,-.5l1.1,-.3l.7,3l-1.9,.7zM428.4,89.9l-.5,3.2l-2,-.1l-.8,-1.8l3.2,-1.3zM428.8,89.9l-.2,3.6l1,1.2l.7,.4l.9,-1.9l-.6,-2zM432,91l.4,1.5l1.4,0l.6,-.3l-.1,-1.1l-1.1,-.9zM438.7,90.2l.4,.5l-2.2,1.5l-1.5,0l.1,-1.4l2.2,-2.7l.1,.2zM441.5,89.5l2.5,1.5l-.5,1.3l-1.6,1.9l-2.2,-3.3l-.1,-.8zM444,92.3l.2,-1.3l2.1,-.9l.2,-.1l.2,1.5l-1.9,1zM447.3,90.3l1.6,-.7l1.3,1.5l-.4,2.7l-.7,0l-.7,0l-1,-2.1zM453.5,93.1l-1.2,.2l-1.2,.2l.3,-1.9l1.8,.2l.1,1.2zM456.1,89.3l-1.8,1.1l0,.4l.5,1.9l2,.1l1.9,-1.3l-.8,-2.1zM461.4,89l.3,2l-.5,.7l-1.7,-.7l-.7,-1.6l1.2,-1zM464.2,91.5l3.5,1.5l.1,-1.3l-1.6,-1.7zM466.6,89.4l1.4,1.8l1.4,-1.4l-2.2,-1.3l-1,.7zM470.5,90l-2.1,1.8l.1,1.2l-.2,1.8l4.4,-2.3l.4,-1l-2.1,-1.5zM475.7,89l-1.6,2.2l1.7,.2l2.5,-.9l-.1,-.4zM479.6,88l1.3,.3l1.1,.3l-.9,3.8l-.7,0l-1.7,-1.9l.2,-.4zM483.1,89.5l1.4,2.2l-.7,.8l-.2,.4l-1.8,-.5l1,-3.1zM487.7,88.8l-.9,2.8l1.8,1.1l2.6,-.8l0,0l-2.6,-3.2zM491.7,87.8l-.2,3.6l.2,-.4l.8,.7l.3,-.6l.1,-2.1l-1,-1.3zM496.5,89.4l.7,.7l-.3,.3l-2.3,1.2l-1,.2l.1,-3.3l1.4,.4zM500.3,90.6l.5,.9l-2,2.6l-1.5,-3.5l.3,-.4zM502.3,89.1l2.1,.8l.1,2.5l-1.2,.1l-1.9,-1.1l0,-.9zM508.2,89.6l-1.7,-.3l-.7,.4l0,2.5l1,.5l.5,-.1zM508.7,89.8l-.6,2.7l1.4,-.3l.5,-1.9l-.2,-.8zM513.4,91.8l-.2,-1.2l.8,-1.1l2.2,1.7l-.2,1.3zM516.9,95.4l1.9,.5l.3,-.5l-1,-4.5l-1.1,.6l-.6,1.3zM520,90l1.9,.3l.2,.1l-1.5,3.7zM524,90.9l2.5,-1.1l.4,2.1l-2.1,1.3zM374.8,96.5l-.7,.9l-.5,.2l-1.4,-2.4l1,-.2l1.3,.5zM377.2,94.2l1.5,.9l-.9,.4l-1.6,.6l.1,-.2l-.5,-.7l.5,-1.1zM378.7,90.7l-.9,2.5l1.7,1.1l.8,.3l-1.1,-3.9l-.4,-.5zM383.5,97.3l-1.1,-.5l-.9,-1.9l2.6,-2l1.6,-.6l.1,1.4l-.6,1.7zM390,96.9l.4,-.6l.4,-.1l-3.8,-2.3l-.2,1.9l.1,.5zM390.4,91.6l-3.4,.1l0,.2l0,.2l.1,.9l3.4,2.3l-.5,-3.4zM391.1,91.4l.2,4.8l.1,.2l2.4,-.9l1.8,-.7l-.9,-3.6zM399.9,90.6l-1.6,3.8l.5,1.1l1.7,-2.1l-.6,-2.6zM400.7,94l1.4,.4l-.2,1.9l-1.3,.7l-1.5,-1.1l-.2,0zM404.1,93.3l-.7,1l-.5,1.8l2.3,.5l1.4,-1.5l-.2,-.7l-1.4,-1.1zM407.9,94.8l-.7,-.5l1.7,-2.8l1.6,2l-1.4,1.6l-.9,0zM410.2,95l2.3,.7l.9,-.6l-1.2,-1.6l-.7,.3zM417.4,93.1l-.4,2.1l.5,.5l2.9,-.3l.1,-.4zM417.5,91.8l2.8,-.4l.4,.8l-.1,1.9l-3.1,-1.9zM422.2,92.9l1.6,-.5l.5,-.6l.4,1.9l-.4,1.1l-1.6,.8l-.5,.1l-.4,-.4l.3,-.7zM425.7,93.7l2.3,.2l.5,1.1l-1.2,1.6l-2.3,-1.6zM431.6,95.8l-.7,-.7l.9,-1.5l1.5,.2l-.4,2.2zM437,95.9l-1,-1.9l-.9,-.7l-.6,.1l-.6,3.1l.9,.4zM439.1,96.6l2.1,-1.8l-.1,-.6l-1.7,-2.4l-2.3,1.5l.9,2.3zM443.9,93.2l-1.9,1l0,.7l2.8,1.5l.3,-.4l1,-.9l-1.7,-1.5zM445.3,93.1l1.4,1.8l1.3,-.7l-1,-1.8zM454.5,98.6l-.6,-.3l-.8,.2l-.6,-3.7l1.6,-.8zM457.5,96l-.9,-1.5l-1.7,-.2l-.2,-.2l.5,3.2l.2,.1zM460.8,92.9l-1.7,-.4l-.9,1.5l.5,1.7l1,-.1l.5,-.2zM462.6,92.7l-.8,.3l-.4,2.8l.8,.3l1.8,-1.1l-1.1,-2.1zM464.4,92.7l.7,.2l2.3,.7l.2,1l-.4,.1l.1,.6l-1.6,-.5zM469.1,94.9l-.1,.4l2.6,.9l1.2,-1.2l-.3,-2.2zM473.1,92.6l.6,2.1l2.7,.6l-1.4,-3.1l-1.3,-.7l-.5,0zM479.6,93.1l-1.5,1.8l-.6,.1l-.3,-.3l-.8,-2.1l1.9,-1.1zM482.9,94.1l-.4,2.2l-.8,.2l-.9,-.1l-1,-.8l1.1,-1.5l.4,-.2zM484.1,93.2l3.7,3.3l.7,-.6l-.3,-2.6l-2,-1.5l-.3,.9zM491.2,92.4l-2,1.1l0,2.9l.5,0l2.2,-1.2l.6,-2.9zM493.6,95.5l-.8,-.7l.1,-2l.6,-.2l.6,.3l1.6,2.3zM497.2,95.5l-.6,-.3l-1.1,-2.3l1.7,-1.2l.7,2.7l.1,.2zM502.2,95.3l.1,-.2l.4,-1l-1.6,-2.3l-1.8,2.8l-.6,.4zM506.3,94.2l1,2l-1.9,.2l-1.2,-1.1l.3,-.8l.8,-.5zM508.2,94l-.2,.3l.6,1.5l.1,.2l1.3,-1l-.9,-1.2zM510.8,90.7l1.5,.1l.3,1.4l-.5,2.3l-.5,.2l-1.7,-2.1zM512.6,95.2l1.7,.6l.7,.5l1.3,-.4l-.5,-2.6l-2.5,-.7zM519.5,90.6l-.8,1l1,3.6l.5,.1l.1,-1.1l-.6,-3.1zM521.3,94.2l1.2,-2.3l.4,.1l.8,1.8l-.3,1.3l-.4,-.3l-1.7,.3zM525.5,95.2l.4,-1.1l2,-1.3l1.3,.7l-.3,1.7l-1.1,1zM371.3,95.4l1.4,2.5l-.8,.7l-1.4,-2.5l.4,-1zM378.8,96.1l.5,3.4l-.1,.1l-3.2,-2.7zM380.4,95.2l-.6,.2l-.8,.5l.8,2.9l2,-2.1l-1.1,-1.3zM386.7,98.1l-1.9,1.6l-1.1,-2.3l1.9,-1l.6,.2zM390.5,97.5l-3.1,-.6l.2,1.1l2.4,.3l.4,-.5zM391.1,97.5l.5,-.8l2.1,-.2l1.2,1.9l-2.2,1.2l-1.5,-1.8zM397.3,95.8l-1.5,-.6l-1.2,.9l1.1,1.9l.4,.8l.8,-.2l1.1,-2.3l0,-.1zM397.5,99.3l1.3,-2.3l1.5,.6l-.2,1.3l-1.6,1.4l-.1,.1zM404.3,98.1l-1.7,-.5l-.8,.5l-.2,.9l1.6,1.5l.3,.2l.7,-1.3zM407.7,96.5l-1.5,1.2l0,1.6l2.3,.7l1.2,0l-.5,-.5l-1.2,-3.2zM408.9,96l1.5,3.4l1.5,-1.7l.6,-1.2l-3.4,-1.3zM416.5,99.4l-.3,-2.7l-.6,-.6l-1,.2l-1.3,.3l.3,1.2l2.3,1.9zM421.5,96.4l-1,.1l-3,.3l.4,2.1l1.5,.4zM422.4,96.8l.8,1.8l.2,.3l-2.5,.9l-.8,-.1l1.9,-2.9zM422.7,96.4l2.1,-.9l1.9,1.4l.1,.8l-2.7,.7zM427.5,96.9l2,-1.6l.5,.3l.9,.9l-.6,2.3l-1.8,0l-1.1,-1.1zM434,99.3l-2.2,.9l-.6,-1.4l0,-2.3l2.3,.4l.8,.8zM438.5,99l-2.5,.8l-.7,-.6l.4,-1.3l1.4,-.7l.9,.4zM440.1,99.1l.4,.5l-.1,.1l2.7,-.5l1.2,-2.1l-2.5,-1.4l-2.2,1.7zM445.7,97.3l2.6,2.1l-.1,.8l-2.9,.5l-.2,-1.3l.3,-1.8zM445.8,96.6l3.5,2.7l1,-1l-1.3,-3.3l-.7,-.1l-1.2,.6zM449.7,94.9l1.1,2.5l1.6,.6l-.9,-3l-1,.1zM458.4,96.7l-2.4,2.1l2,1.6l.9,-.5l.7,-3.1zM461.8,97.2l.2,1.2l-.6,1.3l-2,0l.7,-2.9l.9,-.1zM465.1,96.1l2,.1l-.5,1l-1,2.4l-2.1,-1.5l-.7,-1zM470,99l-1.6,-1.2l.7,1.6zM470.2,98.4l.5,.1l.1,-1.2l.4,-.4l-2.4,-.6l-.2,.1l-.2,.7l.2,.1zM472.7,96.7l1.1,-1.4l2.3,.5l.9,.3l-.4,.8l-1.5,1.4l-2.2,-1.2zM477.6,96.5l.8,0l1.2,1.4l-.2,2.9l-.2,0l-1.9,-3.4zM484.2,98.6l-.1,1.3l-1.9,.8l.5,-2.3l.8,-.2zM484.2,93.4l3.1,3.4l0,.1l-2.6,1.2l-.4,-1.2l-.2,-3zM493.1,98.8l-1.9,.5l-1.3,-2.3l2.2,-.9l1.3,.4zM496.6,96.6l-.4,-.4l-1.7,.6l-.6,1.6l1.8,.2l.8,-1.8zM501.1,98.4l.3,-2.2l-2.3,-.3l-.9,.5l.3,.2l1.4,1.6zM502.2,98.5l.7,-2.1l.1,0l1.5,1.2l-.4,.9l-1.3,.5zM508.4,99.2l-.9,1.3l-.3,-.2l-1.5,-1.2l.2,-1.3l2,.1l.2,-.1zM512.6,97.7l.9,-1.1l-1.5,-.7l-.4,-.1l-2.2,1.3l.2,1.8l1.3,.3zM512.9,101.1l.2,-3.1l-2.1,2.1l1.1,.9zM515.4,96.8l-.1,2.9l1.2,1.4l2.7,-1.6l-.5,-2.6l-2.1,-.7zM520.6,96.6l2.1,-.1l.4,2.8l-2.5,.9l-.8,-1.2l.1,-1.9l.1,-.6zM523.7,96.2l.9,3l-.2,.7l3.3,-1l-.5,-1.4l-3,-1.1zM370,104.5l2.1,-2l-.7,-1.9l-2.1,.1l-1,3.4zM375.4,101.2l-.8,2.1l-1.6,-1.6l-.6,-1.3l.5,-.3l.7,-.5l.6,-.6zM376.2,97.8l-1.1,.8l2,2.3l.9,0l1.2,-.6l-.1,-.2l-3,-2.7zM383.7,100.3l0,.5l-1,.1l-2.1,-.7l-.1,-.1l.5,-.3l1.2,-1.6l.5,.5zM389,99l-.7,1.8l-2.8,.8l-.6,-.5l-.1,-.6l2.2,-2.1zM390.9,98.5l1.4,2.1l.2,.2l-1.4,1.8l-.1,.6l-1.4,-2.3l1,-1.4zM395.6,99.5l-.6,-.5l-1.7,1.4l.3,.1l.9,.3l.1,0zM397,99.7l.6,.9l-.6,1l-1.6,-.6l.8,-1.3zM398.8,100.8l2.2,2.5l.9,-.3l.8,-1.3l-1.9,-2.3zM405.4,100.2l-.9,1.5l1.2,1.3l.4,-.1l1.5,-1.8zM409.9,101.2l.3,.7l-.6,1.8l-1.9,-.9l1.2,-1.4zM415,100.7l-.1,1.1l-.2,0l-3.1,-.4l-.6,-.8l.1,-.1l1.6,-1.4zM419.4,100.3l-2.2,0l-.8,.4l0,1.4l.5,1l2.4,1l1.1,.6l1,-1.5l-1.5,-2.2zM423.7,99.6l.2,1.3l-.7,1l-1.3,.7l-.6,-1.7zM424.4,98.9l2.5,-.8l.6,1.4l-.4,1.3l-2.2,-.5l-.7,-1.1zM431.3,100.7l-.1,1.8l-2.2,.5l-1.5,-1.9l1,-1.2l1.7,-.2zM434,100.5l-1.6,.5l-.3,1.1l1.1,.5l1.2,-.8l.1,-.7zM439.1,99.8l0,.7l-2,1.8l-.8,-.6l-.1,-.8zM440,100.5l.1,-.1l.4,2.6l0,.5l-3.4,.4l-.2,-.6zM443.9,103l-2.3,-.4l-.6,-2.2l2.9,-.3l.6,1.1l.1,.4zM447.8,103.1l.9,.2l-.1,-.9l-.3,-1.1l-2.5,.1l.5,.5zM453.3,101.6l-3.5,.5l0,-1.6l-.1,-.8l1.1,-.6l1.8,0l.7,.5zM457.9,102.6l-.7,-1.5l-1.7,-1l-.2,0l-.2,.4l-.3,1.3l.2,1.3l1.7,-.3l.9,.3zM459,102.4l0,-1.3l.5,-.5l1.4,.2l.3,.8l-.2,.6zM464.6,100.5l.4,.9l-2.6,-.1l0,-.9l.4,-1.2zM467.1,101.7l-.3,-.5l-.1,-.7l.9,-2.3l.1,.2l.6,1.7l.5,1.6l-1.3,.3zM470.6,99.7l.5,.4l.2,1.6l-.1,.2l-1.2,.1l-.4,-1.9zM472.2,101.7l.1,0l2,-1.4l-.2,-.7l-1.7,-1.4l-.3,1.5zM477.8,101.7l1,-.1l-1.9,-3.7l-1.2,1.4l-.3,1.1zM481.4,101.2l.4,-2.9l-1.5,.2l-.2,2.9l.4,0zM487.4,98.2l-.4,3.9l-.2,-.1l-.1,-.2l-1.2,-1.3l-.2,-1.2zM488.2,97.5l-.5,4.2l2,-.8l.7,-1.5l-1,-2l-.3,.1l-.7,.4zM492.9,99.7l-1.3,.5l-1,1.9l.5,-.2l-.1,.1l4.2,-.5l-.8,-1.2zM497.5,101.7l-.5,.5l-.4,-.8l-.5,-1.5l1.2,-3.2l1.8,2.7zM500,102.1l1.8,-.5l-.2,-1.2l-.4,-.8l-.9,.1l-1.8,2.1zM502.6,101.9l1.9,1.4l1.4,-.5l.4,-1.3l-1.5,-1.9l-1.6,1zM511.9,101.4l-.8,2.2l-3.3,-2.3l1.3,-1.8l1.5,.6zM513.3,100.2l0,.1l1.5,-.6l-.2,-2.2l-.5,-.5l-.8,1.1zM513.4,101.3l1.7,-1.3l1,1.4l0,1.7l-.5,0zM517.4,101.5l-.1,1.1l-.3,.3l2.6,-1.4l-.1,-.1l-.6,-1.1zM523.8,100.3l-2.9,.8l-.4,.3l.8,.9l1.8,.9l1.4,-2.1l-.5,-.7zM525.1,100.4l-.2,.7l2.2,1.9l2.7,-.1l-1.7,-3l-.2,0zM370.2,104.9l1,1.5l3,-1.8l0,-.2l-1.9,-1.2l-1.6,1.6zM378.1,102.1l1.1,3.5l-.4,-.1l-2.4,-.1l-.5,-.4l-.4,-.5l0,-.2l1.6,-1.3zM379.8,101.4l2,1.1l-1.3,2.6l-.1,-.3l-1.4,-2.7zM384.8,102.6l.3,2.3l-1.5,1.1l-1.6,-.7l1.5,-2.3l.7,-.4zM386.1,102.4l.6,3.3l.4,.1l2.9,-.8l.2,-1.1l-1.6,-2zM393.1,101.3l-1,1.9l1.8,.3l.3,-1.8zM395.2,102.3l-.2,-.2l0,2.2l1.4,1.5l.1,-.1l.2,-.6l0,-2.2zM398.4,102l.1,0l1.4,1.3l-1.3,1.2l-.7,0l-.2,-1.9zM405.2,103.5l-.1,1l-1.5,1.5l-1.4,-2.9l1.1,-1.1l.5,.3zM405.7,103.5l-.2,1.3l2.1,2.6l.9,.5l1.5,-1.7l-.4,-1.4l-3,-.9zM414.7,102.6l-2.3,3.9l-.7,0l-1.1,-.8l-.5,-1l.9,-2.8zM415.5,102.5l-.3,.3l-2.5,3.8l2.7,1.6l-.1,-1.1l1.1,-3.6zM418.5,105l-2.2,1.8l.5,-2.6zM425.5,106.1l-.2,0l-3.3,-1l0,-.1l.5,-.9l1.1,-.3l2.4,1.6zM426.8,104.4l-2.4,-1.8l.9,-1l1.8,.3l.7,1.7l-.2,.1zM430.4,105.9l2.4,-.5l-.1,-1.9l-1.5,-.8l-2.6,1.2l.3,.4zM435,106.5l1.6,-2.1l0,-.3l-.2,-.5l-1,-.6l-1.9,.7l.4,2zM439.9,105.7l0,-1.6l-2,.4l.1,.2l1.6,1.1zM441.1,105.7l.4,.7l2,-2.1l.3,-.5l-3,-.5l0,.4zM446.7,103.9l-1.5,-1.3l-.4,1.2l.1,.2l.5,.8l.6,-.5zM448.3,105.9l-1.2,-1l1,-.6l.9,-.1l.6,.8zM453.1,104.2l-.5,1.1l-.3,.3l-1.6,-.9l-.5,-.7l.4,-.6l2.3,-.4zM460.9,106.6l-.2,.3l-2.4,.4l-.4,-2.7l.4,-.8zM462.8,105.7l-1.5,-3.2l-2.3,.7l-.1,.6l2,2.1zM465.5,103.1l-.2,-.7l-3.2,-.4l0,.7l1.1,2.3l.6,.3zM469.4,106l1.4,-.2l.3,.3l-.1,-2.7l-1.2,.2l-1.2,.2zM472,103.2l-.1,2.8l3.5,-.9l-3.1,-2.2l-.2,0zM476.4,104.6l.6,-1.5l-1.5,-1l-2.2,.7l2.7,1.9l0,-.1zM480.5,106.8l1.4,-1l.2,-.4l-2,-2.4l-.3,0l-.2,0l-1.3,-.4l-1.3,2.7l1.9,1.1zM482,101.8l2.1,-.7l1.5,1.5l-2.8,1.7l-1.5,-2zM487.6,103.2l0,3.1l2.3,-.2l.4,-3.7l-.5,.5l-2.4,-.1zM490.4,107.2l.3,-.6l1.6,1.2l.5,-3.3l-2.4,-1.9l.2,.7zM495.7,104.5l-2.6,-.2l-1.6,-1.7l4.5,-.6l.3,.5zM498.9,103.7l1,2.4l-1.7,.4l-1.4,-.8l-.1,-1l.5,-1.6l.5,.1zM500.2,103.5l.8,3l.8,-.4l.9,-.1l.4,-.3l.3,-1.4l-1,-1.6zM504.5,105.9l2.8,1.2l.2,-1.7l-1.4,-1.5l-.9,.4zM511.3,104.8l-2.6,.2l-2.1,-1.9l1,-.9l.3,-.4l2.6,2.3zM512.9,101.4l0,0l1.7,2.1l-2.1,1.2l-.8,-.1l-.1,-.4l.7,-2.2zM520,103l-.1,1.1l-1.2,.5l-1.6,-1l2.8,-1.3zM521,102.8l2.1,.5l.7,2.2l-.4,.5l-2.7,-1.6zM525.7,104.5l-1.5,1l-.5,-2.1l.9,-2.1l2.3,2.2zM526.3,104.9l2.1,2.7l.1,.5l1.1,-1.1l.7,-2.6l-.6,-1.1l-2.4,.6zM372.2,108.6l-.6,-1.1l-.1,-.6l2.7,-1.4l.4,.3l-1.7,2.4zM373,108.6l2.3,-2.7l.6,.4l0,2.5l-.6,.4zM376,108.9l2.4,.3l1.1,-1.1l.1,-1.2l-3.1,-.7zM383.3,109.9l-.1,-2.8l-2.3,-.3l-.1,.1l-.1,0l-.2,1.3l1.7,1.5l.7,.4zM385.5,109.4l1.1,-.8l-.1,-1.8l-.3,-.1l-1.6,.9l0,1.8zM390.8,107.8l-1.1,-1.2l-2,.3l.3,1.8l.9,.3l.4,.1zM393.2,107.7l2.7,-1.4l-1.9,-1.6l-2.5,-.3l-.2,-.2l-.4,1l1.2,1.9zM398.6,110.2l-.7,-3.1l.3,-.3l1,-.1l2.5,1.8l0,.2l0,.3zM401.9,103.7l.8,2.3l-.2,1.5l-2.6,-1.8l1.4,-1.3zM403.9,106.8l1.4,-1.1l1.2,2.3l-1.3,.8l-1.2,-.3l-.2,-.2zM411.9,110.5l-1.3,.4l-.1,.4l-1.4,-3.1l1.1,-1.8l1.4,.3zM415.1,109.6l-1.1,.2l-1.5,.2l.1,-2.4l.5,0l1.6,1l.1,.4zM419.8,105.9l.4,.4l-1.8,2.2l-1.9,.1l-.1,-.7l-.1,-.2l3,-2.7l.7,.5zM420.6,106.9l-1.9,1.9l2.2,1.7l1.9,-1.1zM421.2,105.6l-.2,.9l1.9,2.2l1,.1l1.6,-1.9zM430.6,109l-.7,-2.8l-1.4,-1.4l-1.1,1.1l-.3,.8l1.3,1.7zM431.4,109.3l.4,-.1l2.9,-1.4l0,-.5l-1.2,-1l-2.4,.2zM435.6,107.7l.4,.8l1.7,0l2.4,-2l-3.3,-1.7l-1.8,2.4zM440.6,106.9l.7,-.1l1.1,1.2l-1.9,2.7l-2.4,-1.9l2.1,-2zM445.1,105.4l0,2.2l-1.2,.3l-1.1,-.2l-1,-1.1l2.4,-1.7zM446.9,108.2l-1.1,-.7l-.2,-1.9l.9,-.1l1.4,1.2zM447.8,108.5l.8,-1.6l1.3,-1.7l2.6,1.3l-1.3,2.6l-3.3,-.3zM457.1,104.4l.8,3.7l-.9,0l-3.4,-2l1.1,-1.5zM461.2,110.4l-.5,-3.2l-2.6,1.1l-.6,.5l.3,.1l2.4,2.7zM464.9,108.6l-.5,1l-1.5,.4l-.7,-.2l-.8,-2.5l.1,-.3l1.4,-.2l.5,.2zM468.1,107l-1,-2.6l-.4,.1l-1.7,1.4l1.1,1.6l1.5,-.6zM468.7,107.4l2.4,-.1l.5,.6l-1.6,2.9l-1.5,-3zM472.3,107l.5,.6l1.3,.8l.2,.3l1,-2.5l-.1,-.1l-2.6,.9zM478.1,107.1l-1.3,-1.1l-.4,-.2l-.9,2.6l1.7,.1zM481.1,110.2l.7,.4l.6,1l3,-1.5l-.5,-1.6l-2.3,-1.4l-1.3,1.2zM486.7,103.3l-.1,.5l.4,2.9l.1,.2l-1.6,.6l-2.3,-1.4l.5,-.5zM489.9,107.4l-.2,.1l-.7,1.5l-1.2,-1.8l.1,0zM496.2,106.3l-1.2,1.2l-1.5,.9l-.5,-1l0,-2.6l2.6,.4zM497.7,107.7l0,1.8l-.5,-.1l-1.2,-1.5l.5,-1zM500.4,107.6l.4,.2l-.4,2.7l-.9,0l-.9,-.8l.2,-1.9zM504.7,107.5l2.3,.6l0,1l-.1,.5l-1.3,.6l-.6,-.4l-1,-2.3zM511.2,105.3l-2.2,.6l-.9,1.6l.4,1.3l.5,0l2.8,-2.2l.3,-.8zM512.1,107.4l.3,.7l-1.2,1.2l-1.7,-.3zM513.6,105.8l.1,.5l.1,1.1l1.3,.8l2,-.7l.1,-1.7l-1.3,-1.1l.3,-.7l-.6,.6zM520.4,105.2l3,1.3l-.3,.6l-1.2,1.2l-1,.7l-1.3,-.2l-1.3,-.4l.7,-2.2zM523.8,107.7l-.8,1.2l1.7,1.3l1.3,.9l-1.2,-2.7zM525.8,104.9l-1.6,1l-.1,.6l-.1,.4l1,.4l2.1,.4zM371.1,111.6l.2,-1.9l-.6,-.9l-1.3,.9l-.2,1.8l.4,.7l1.4,-.5zM372.5,111.7l0,-2.4l.7,.2l1.5,.2l-.4,2zM375.6,111.8l.3,-1.7l.3,-.3l1.6,.6l-.3,1l-.9,1.1zM379.3,111.2l.1,-.8l.6,-1l1.6,1.4l-1.3,.7zM386.2,112.2l1.4,0l.9,-2.2l-1,-.7l-1.8,1.3zM392,111.4l-2,-1.4l1.9,-1.5l.9,.3l-.1,2.5zM394.1,111.2l-.3,-2.8l2.6,-.9l.2,-.6l.9,4.5l-.6,-.3l-.6,.6zM409.6,110.9l-1.3,-2.2l-.6,.1l-1.3,1l.5,1.4l1.3,1.5zM420.1,111.2l-.1,.9l-.4,.4l-2.9,-1.8l-.6,-.6l.5,-.3l1.7,-.4zM428.1,109l-1.4,3l-1,-1.2l-1,-1.5l1.6,-2l.1,-.4zM434.5,109.1l.4,.7l.1,2.4l-1,.8l-1.7,-1.8l-.1,-1zM442.3,109.1l.9,-.1l-.4,1.8l-1.4,.4l-.3,-.1l.1,-.1zM446.6,109.2l-1.1,-.8l-.7,.6l-.2,1.6l1.7,.9l.1,-.1l.4,-2zM448.3,109.9l-.4,1.6l1.9,.3l1.3,-1.1l-.3,-.7zM456.1,109l-1.5,1.7l-.9,.2l-.7,-.8l-.4,-.7l.5,-2.2l.5,.1l2.2,1.7zM468.3,107.9l.9,3l.5,1l-1.2,1.1l-2.5,-1.5l.1,-.9l0,-1.4zM473.3,111.7l-2.7,.1l.5,-.9l1.1,-2.2l1.5,1.3l-.1,1.4zM477.3,110.8l-1.4,1.1l-1.2,-.2l.1,-1.8l.1,-.2l1.9,-.3zM480,109.7l.3,-1.4l-1.5,-.4l-.8,1l.7,1.2zM486.8,110.5l1.5,.2l-.1,-.7l-1,-1.8l-1.3,.5l.2,1.2zM489.5,110.9l1,1.1l0,.3l2.3,-2.5l.3,-.9l-1,-.7l-1.6,-.8l-.9,2.8zM495.5,111l-1.6,-1.3l-.2,-.8l1.3,-.9l1.8,2.2zM501.8,108l1,-.4l.6,2.4l-1.6,.5l-.8,0zM508.7,110l-.4,.3l.7,1l2.1,1l.2,0l-.7,-1.8l-1.7,-.8zM511.6,110.3l1.7,-1.6l1.3,.4l-.7,3.2l-1.7,-.1zM518.1,108.5l.4,1.2l.1,1.6l-3,1.2l-.8,-.8l.6,-2.4zM521.4,109.6l1.1,2.4l2.3,-.9l-2.4,-1.9zM528.1,108.6l-3,-.7l1.8,3.4l.2,.8l1,-3.4z" fill="#333" stroke="#333" stroke-width="0.5" stroke-linejoin="round" filter="url(#blur04)"/>
<rect x="373.4" y="0" width="151.6" height="107.2" fill="#fff" filter="url(#grainL)" opacity="0.14"/>
</g>
<g clip-path="url(#clipBR)">
<rect x="530.2" y="0" width="146.8" height="107.2" fill="#9c9c9c" />
<path d="M544.7,-2.5l2.2,-5.8l.8,-1.2l-2.3,.7l-1.4,3zM583.5,-3.3l2.7,-6.1l-.2,0l-.7,-1.4l-4.2,3.3l0,1.3l.2,2zM612.1,-9.5l-3.7,.4l1.6,5l2,.6l1.8,-4.4l.9,-.6zM677.2,-2.5l2.9,-1.8l-.6,-3.6l-2.9,-1.5l-3.1,1.9l-.6,.8zM525.8,-2.7l.3,1.3l.5,.2l3.1,2.9l1.7,-2.8l1,-3.1l-1.1,.2l-4.1,.9zM541.9,-.8l.8,1.3l-5.1,-1.1l-1.9,.1l0,-3.4l1.5,-1.1l4,1.1zM545,-.7l.7,.6l.1,-.1l3.3,-.7l1.5,-5.6l-1.5,.3l-.9,-1.3zM556.3,-1.4l-1.6,1.2l-3.5,-.3l1.1,-4.7l4.4,1.9zM559,-1.9l4.6,.6l.7,-2.9l-1.2,-2.4l-3.2,.8l-2.3,2zM571.7,1.6l-4.9,1.3l-1.2,-3.6l.7,-3.4l4.5,-.7l.9,.7l.8,6.2zM574.2,1.1l-1.1,-4.9l4.4,.1l.3,1.5l-2.7,3zM581,3.5l1.5,-3.4l-.6,-.1l-1.4,-1.9l-2.8,3.6zM585.6,-2.2l4,1.2l1.4,-4.2l-2.8,-3.4l-.5,1.2l-2.3,4.9zM593.4,-3.8l2.2,-1.3l1.5,.4l.9,3.5l-3,2.4l-1.9,-1.6l-.7,-.3zM604.2,-3.3l-1.5,-4.1l-3.6,2.3l1.2,3.2l2.5,.9zM610.5,-1.5l1.3,.9l-6.8,1.2l-.7,-.9l1,-2.6l3.9,-.2zM613,-1.6l.5,.8l1,1.1l1.4,.8l.2,.1l1.3,-1.8l1.7,-3.4l-3.7,-2.1zM626.9,-.4l-2.3,.1l-3.3,-.8l1.2,-3.8l1,-.6l2.3,2.3zM634,.2l-.6,-4.1l-2.7,.1l-1.3,1l-.5,2.8l2.4,.7zM639.9,.5l-3.7,-.4l-.8,-4.7l1.6,-.5l3.2,.2l.1,4.9zM642.9,-.4l-1.4,-4.1l3.2,-.6l2.5,1.2l-.4,2.6l-.3,1zM652.3,-.9l-2.4,-.7l-.8,-2.6l3.5,-3.8l.2,1l3.5,2.8l.2,3.4zM666.6,.3l-4.8,-4.9l-1.7,-.8l-1.9,1.7l-1.7,2.5l3,4.2zM667.3,-.1l1.4,-.6l2.1,-4.7l-5.8,-.1l-1.8,.2l3.3,4.2zM676.1,-2.6l-3.4,-2.7l-.5,.7l-2.6,4l4.9,-.2zM681.3,-.8l-.7,-1.9l-3.1,.6l-.3,2.4l-.5,1.5l2.6,2.1zM522.1,5.8l4.7,2.2l.2,.9l2.2,-3.2l-.4,-1.2l-3.4,-2.8zM536,7.6l-1.2,-.7l-3.3,-1.6l-.1,-1.2l2.8,-1.7l1.3,-.2zM543.6,2.5l.5,.6l-4.3,5l-1.2,-1l-.3,-4.8l4.8,.5zM554.1,2.5l-.8,.3l-3.6,-2.5l-2.5,2.5l-1.7,.3l4.1,6.3l4.2,-1.3zM560.3,6.1l-4.5,-2.2l-1.1,4l2.7,2.1zM563.9,5.5l.2,-2l-1.4,-2.9l-3.6,0l-2.5,1.6l-.7,0l4.8,2.1zM567.1,6.4l.4,-1.2l4,-1l.2,3l-.8,2.1l-3.8,-2.5zM579.7,5.4l-5.2,-2.5l-.5,.4l-.4,.1l-.4,4.1l6.3,2l1.3,-2.8zM583.5,4.9l1.1,-3.7l4.4,.4l.6,.7l-2.3,4.1l-2.3,-.4l-1.3,-.4zM592,3.8l2.4,.6l1.4,3l-3.6,3.4l-2.4,-3.5zM602.9,6l-2.7,2.1l-1.7,-1l-.6,-3.5l1.7,-4.1l2.6,2.4l.7,.5l0,3.1zM604.5,6.5l.5,-4.9l7.1,-1.8l1.4,1.6l-5.7,5.3zM613.1,12.7l.8,-.2l.9,-8.4l-1.3,-1l-6.1,3.7zM616.6,2.1l5.1,3.8l2.8,-3.7l-5.5,-1.7zM630,7.3l-1.4,2.9l-4.6,-2.7l-1.6,.4l2.8,-5.8l2.7,.7l1.9,1.7l.5,2.6zM638.6,7.2l-5.1,-1.1l-.9,-2.4l3,-.8l3.5,-.3zM646.1,6.9l-2.4,1.8l-1.4,-1.1l-1.1,.6l.6,-5l.1,-.9l4.5,-.5l.7,5zM648.9,4.8l-.4,-3.1l.4,-.6l2.1,.5l.8,2.9zM654,5.6l.1,-3.4l2.1,-1.4l2,2.8l0,3.3l-1.3,.8zM666.8,1.5l-.9,3.1l-2,1.7l-3.5,.8l1.2,-3.4l4.2,-2.6zM675.5,2.5l-.3,-1.8l-5.8,-.6l-1.8,.7l1.8,3.2l1.7,1.2zM677.8,6.8l.2,1.2l-4.1,.5l-.2,-1.7l2.5,-2l1.5,1.2zM684.1,7.3l-2.3,-2l-1.2,-.6l3.1,-5.3l.6,1l2.6,3.3zM531,14.6l-2.9,-5.1l1.9,-4.1l4.8,3.9l-1.8,4.3zM536.9,9.5l-.9,.2l-1.4,2.9l2.3,1.1l2.7,-2.6l-1,-1.1zM541.4,9.7l.8,.8l1.4,2.9l4.2,-2.5l0,-.2l-3.3,-6.3zM556.3,11.1l-2.4,-2.5l-3.1,2.9l-.9,-.1l2.7,5.4l.4,-1.8l3.1,-3.5zM564.1,7.1l-3.2,0l-2,3l-.5,.6l2,.6l2.3,-.4l.5,-2.6zM564.8,6.7l7.3,3.7l-.6,1l-1.4,3l-5,.4l-.8,-2.8zM578.2,9.7l-1.4,1.8l-3.9,-.5l.3,-.6l.7,-1.6zM581.5,8.2l2,.8l-.3,4.3l-2.2,1.5l-1.6,.1l.3,-2.7l.5,-1.7zM585.5,9.5l-.1,4.9l3.2,-.3l2.7,-1.7l0,-.4l-3,-2.8zM599.7,14.6l-1.1,-4.3l-1.2,-1.4l-3.5,3.2l-1.1,.3l3.5,2.5zM601.6,15.8l1.1,-.2l3.1,-1.9l-2.1,-5.7l-2.8,2.2l.7,4.8zM603.6,6.7l3.8,5.7l4.4,1.2l1.1,-.5l-5.1,-6.3l-2.9,.3zM617,4.6l3.3,3.3l.4,.1l-2.9,2.9l-1.6,-.6l.3,-6.8zM621.5,15.4l5.6,-3.2l-.5,-1.2l-4,-1.7l-4.5,4.9l2.2,.2zM635.5,13.3l-4.5,-5.3l-2,2.4l.5,1.5l.3,3zM640,9.1l-6.7,-.4l.1,.3l2.5,2.9l2.2,1.7l1.6,-3.9zM651.7,12.4l-4.3,3l-1.9,-4.8l2.2,-1.9zM653,11l2.1,-1.1l.8,-.4l-2.7,-2.4l-3.4,.9l.3,.5l2.3,3.3zM658.2,10.6l3.2,6.7l3.6,-4.5l-1.1,-4.2l-4.9,-.6l-2,1.5zM671.3,9.8l-1.4,2.1l-.2,.1l-2.3,.1l-.9,-2.6l1.9,-3.1l1.8,1.9zM678.6,14.3l-2.6,.9l-2.4,-1.7l-.4,-3.3l4.7,-.2zM685.7,12.5l-5.3,2.3l.4,-1.5l-1.6,-4.4l1,-1.2l3.5,.4zM530.6,14.7l-1.8,.8l-3.5,2.4l-1.6,.2l0,-4.2l3.1,-4.2l.2,0zM531.5,15.1l.8,1.4l2.4,2.8l2,-.7l-1.2,-2.9l-2.3,-1.5zM538.7,17.7l3.6,.5l.1,-3.5l-2.3,-1.5l-1.9,1.9zM544.8,18.6l4.3,.1l1.2,-1.8l-1.6,-4.3l-3.3,3.1l-1.5,2.7zM558.7,13.8l-1.1,3.7l-.1,-.1l-4.2,-.6l4.3,-4.5zM562.9,13.7l1.7,1.1l-2.2,3.9l-3.7,-.6l2,-4.3zM565.6,19.7l3.8,1l1.2,-3.1l-1.2,-1.6l-3.3,.2l-.7,3.3zM577.4,15.3l-.2,-2.1l-4.9,-1.4l-.1,3l.3,2l3.4,-.5zM584.8,20.1l2.8,-.6l-.6,-2.4l-1.7,-1.3l-2.3,1.2zM594.4,17l-2.5,-3.1l-1.7,3l.2,2.6l.2,.2l2.7,-.1zM600.6,16.8l-1.8,5.2l-3.7,-1.8l2.1,-2.9l3.3,-.9zM603.8,16.3l3.2,-2.2l4,.5l-.9,2.1l-2.9,2zM612.4,14.2l-.7,2.5l1.9,2.5l3.5,-.4l.6,-2.9l-1.7,-.6l-2,-1.9l-.7,.3zM625.2,22.9l1.3,-3.3l-5.2,-3l-2.1,.1l-.3,3.3l1.3,.9zM628.7,15.8l-.5,-2.4l-5.7,2.6l5.4,2.4l1.2,-.7zM637.3,15.4l-2,-1.2l-5.2,1.3l-.1,2.8l5.1,1.5l2.5,-3.6zM646.5,15.5l-3.1,-3.7l-1.8,-.5l-2.7,3.5l1.2,.8l3.9,1.2l2,-1.2zM652.5,14l1.3,5l-2,1.5l-3.6,-4.4l0,-.2l3.7,-1.9zM655.3,14.4l.8,3.9l1.5,.7l1.7,-1.9l.3,-.2l-2.5,-4.4zM668.3,19.4l1.7,-4.5l-3.9,-.3l-3.7,2.7l.3,.3l3.8,2.7zM675.2,18.3l-3.6,2.2l-.9,-1.8l.9,-2.5l0,-.6l2.9,1.4zM679.8,16l3.4,3.7l-6.3,2.2l-.4,-3.4l-.4,-1.9l4,-1.5zM533.8,21l-.6,3.3l-1.6,-.5l-4.4,-1.7l.7,-1.4l2.8,-3zM543.9,24.2l-.1,-4.6l-1.1,-.6l-5,.5l-2,1.6l-.9,3.6l2.9,2.8zM545.5,23.6l3.2,1.9l1.8,-.8l-1.9,-3l-3.5,-.4l-.4,2.5zM557.7,18.8l-4.8,-1.3l-.2,.2l-2.3,2.1l1.7,3.9l2.2,.6zM561.8,21.8l-.2,.5l-2.6,3.4l-3.7,-1l2.7,-5.5l.7,1.2l3,1zM563.8,22.1l5.4,.4l2,2.9l-4.1,1.7l-2.1,-3.8zM576.2,24.2l-1.7,1.7l-1.1,-.6l-1.7,-3.4l1,-2.8l3,.4zM583.5,22.5l-2.6,-5.8l-1.5,.6l-2.8,-.1l.9,8.2l2.5,-1.4l2.2,-1.2zM585.3,23.2l3.7,-1.8l.2,.4l1.3,3.7l-1.7,3.6l-4.8,-5.4zM597.4,23.7l-.5,.2l-.8,1.2l-4.1,-.1l-.3,-3l3,.1zM601.8,17.4l1,.9l2.6,2.5l.2,2.5l-2.1,.6l-3,-.7l-.6,.1zM607.6,23.6l2.1,.4l.2,-.3l1.7,-1.7l-1.5,-2.2l-2.4,1.3zM618,22.2l-1.2,-.5l-2.5,.8l-1.8,1.8l4.3,.8zM622.7,27.5l-3.6,-.5l-.8,-.8l1.5,-3.3l4.2,1.5l1.4,.9zM630.3,26l2.9,-2.8l-.3,-1.7l-2.8,-.7l-1.2,0l-.7,2.2l-1.1,1.7zM638.9,16.3l4.8,2.8l1.1,5.7l-1.7,-1l-4.6,.6l-1.8,-.9l-.5,-2.8zM647.4,18.3l-1.9,.7l1,3.6l2,-.6l2.1,-1.3zM654.7,21.2l1.6,1.3l.5,2.4l.1,1.6l-2.8,.4l-3.4,-3.2l2.2,-1.8zM665.4,21.6l-3.8,-2l-2.9,2.1l1.1,3l4.3,1.2zM670.6,22.2l-1.7,-.9l-1.6,.7l-.6,3.7l.3,1.7l5.6,-3.2zM675.4,20.7l-2.2,1.4l.8,1.3l1.3,.8l.6,-.3l0,-1.7zM679,22.2l-.9,1.6l4.4,1.2l.7,-.8l-.4,-3l-.1,-.8zM527.3,29.9l3.4,-4l-4.3,-1.4l-1.2,2.3l.5,2.1zM536.5,30.6l-2.9,4.5l-4.9,-1.1l.6,-3.5l3.4,-3.4l1,-.4l3.3,2.1zM545.2,31.9l-1.7,-8.1l-.4,1l-5.2,3.9l.4,1.8l3.3,1.5zM546.3,30.8l1.6,.2l1,-.2l.2,-2.9l-4.1,-1.8zM551.8,30.2l1.9,.9l2.8,-.5l.6,-2.8l-2.8,-1.4l-1.5,.8l-.9,.8zM562.7,26.1l3.5,3l-1.4,2.7l-2.6,.3l-1.6,-1.2l-.4,-2.8zM569.3,30.1l2.9,-1.8l.4,.6l.4,3l-.4,1.5l-3.4,-.1l-1.7,-1.3zM577.7,26l-2.3,1.1l.9,3.8l5.5,1l-2.8,-4.6zM583.5,25.5l4.8,4.7l-1.3,1l-2.7,.7l-.1,.6l-2.4,-5.3zM595.6,28.1l-1.5,3.5l-1.9,1.3l-.2,-.1l-1.1,-1.3l-.8,-1.1l1.3,-2.7zM599.4,25.9l3.2,.7l-.4,4l-2.6,1.7l-1.7,-1l0,-4.1zM609.2,29.9l-1,-3.1l-1.4,-1.5l-1.4,1.7l-.9,3.4l1,-.6zM613.3,33.2l1.8,-1.5l1.3,-3.6l-.4,-.7l-4.6,-.9l-.1,.3l.2,3.3zM621.7,30.1l-3.2,-1.5l-.8,3.8l2.8,.7l2.1,-1.7zM630.4,31.7l-1.5,-2.9l-2.3,-1.4l-1.9,1.7l-.5,2.2l3.8,.3zM632.6,30.5l1.7,1.7l1.9,-1.4l.4,-4.1l-1,-1.1l-4.4,2.6zM638.1,31.7l.9,-5.4l4.4,.2l2,1.9l-5.6,4zM652.1,27.5l-2.7,2.7l-1.4,.2l-1.9,-2.2l.1,-2.2l.2,.1l2.7,-1.1zM656.7,28.3l-2.6,0l-2.3,3l3.8,4.4l2,-3.1zM665.3,28.9l1.8,1.8l-2.5,.9l-7.1,.9l1.4,-4.8l.8,-.8l5.5,.3zM672.6,25.4l-5.8,3.4l1.1,1.4l1.1,1.5l5.8,-.6l-.9,-4.9zM675.6,25.1l.5,5.4l1.5,.9l4.9,-1.6l-.8,-3.4l-4.4,-.3zM524.4,36.2l-3.7,-2.1l.1,-.7l4,-2.7l1.7,.7l.2,2.3zM526.7,39.2l-.3,-1.2l2.9,-1.9l2.2,.7l.3,1.5l-.3,1.6zM540,37.7l-.2,-3.3l-1.9,-.5l-2.7,1.9l-.1,2.3l3,.8zM542.4,38.9l.2,-5.1l2.7,-1.5l1.4,1.4l-1.1,4.3l-1.6,1.3zM549.8,32.5l2.3,2.2l-.3,1.1l-2.1,3.7l-2.3,-1.2l1.5,-5zM558.7,33.1l-3.5,2.1l-.3,1.1l2.4,4.9l1.9,-.2l1.6,-1.9l.3,-4.7zM565.5,34.5l1.7,1.2l-.5,4.1l-.1,2l-4.1,-2.5l0,-5.1zM574.9,40.6l-6,.1l.8,-4.7l3.6,-.6l.9,4.3zM575.6,40.4l-.1,-5.1l.4,-1.7l7.3,.5l.5,-.2l-1.7,3.7l-1.3,2.4zM587.9,39.7l1.4,-4.7l-1.2,-.9l-2.5,.8l-.9,2.1zM599.5,38.2l-3.2,2.1l-1,1.9l-1,-6.6l2.4,-1.7l1.6,1.8l.5,1.5zM607,37.1l-6.1,-.4l.3,-2.4l2.3,-2.4l.5,.7zM609.1,37.2l2.5,-.4l1.8,-2.5l-3.1,-2.6l-4.8,.8l3.4,4.9zM614,36.8l2.7,3.3l3.1,-4l0,-.9l-3.5,-.4l-1.6,.4zM627.6,34l-.9,3.3l-1.6,1.3l-3.4,-2.7l.8,-.7l1.5,-2.3zM630.7,32.2l2.7,1.7l.6,4.4l-3.3,-.4l-2.2,-.6l.8,-3.4zM638.7,40.2l-2.6,-3.2l-1.1,-3.2l2.6,-.5l.9,1.4l1.9,1.7zM641.6,36.1l-1.9,-2.7l5.3,-3.1l2.6,1.1l-2.4,3.2zM652.2,38.3l1.6,-1.1l.1,-.5l-3.5,-3.7l-.9,.6l-1.7,2.3l1.5,1.9zM659.5,38.7l-2.4,-1.2l.3,-.8l1,-2.3l4.9,-.8l-2.3,4.1zM662.5,38.1l3.1,-4.7l1.1,-1l1.2,.7l.8,3.8l-3.5,1.6zM675,32.3l-4.1,1l-.9,4.4l4.1,1.8l3.6,-1.5l-.8,-4.9zM678.9,33.7l.3,3.1l2.7,1.1l1.3,.3l1.5,-5.5l-1.9,-1.7zM525.4,45.7l6.1,.2l.9,-4.9l-7.1,-.5l-1.4,4.5zM532.4,45.8l1.1,-3.4l.9,-1.5l2.5,1l.2,3l-2.2,1.1l-1.6,.4zM539.9,44.2l-.5,-2.9l2.6,-1.4l1.6,.6l-.2,3.1l-1.7,1.4zM544.9,40.9l1.6,-.7l2.4,.9l.6,2.6l-1.7,.9l-2.3,-1.3zM550.9,40.9l2.4,-2.5l2.1,3.4l-.6,3l-4,-.3zM565.4,43.2l-1.5,5.2l-2.7,-6.1l1.5,-.7l3.2,1zM568.2,42.9l3.1,3l3,-4.6l.2,-.2l-6.5,.5l-.4,.8zM575.9,41.5l1.6,6.8l.9,-1.3l2.6,-4.9l-.7,-1.9l-4.2,.9l-.3,.2zM584.4,44.5l-2.5,-2.6l-.5,-1.7l1.9,-.9l4.9,2.5l-1.1,1.1zM589.7,42.5l-.8,-1.1l2.6,-4.5l.3,-1.3l1.2,6l-2.3,1.8zM604.7,45.3l-6.6,-1.2l-2.2,-.9l4.3,-4.7zM608,39l-2.3,5.7l-.2,-.8l-.6,-.1l-3.3,-4.5l-.1,-1.5l6,1.5zM610.8,40.6l-1.8,3.8l5.9,.3l.3,-.8l.1,-.7l-3,-3.9zM619.2,43.2l.2,.8l3,-1.4l1.5,-2.7l-2.9,-2.3l-2.5,5.2zM625.1,42.9l3.3,2.8l2,-1.1l-.7,-4.3l-2,.1l-1.3,0zM639,42.7l-.9,-.4l-3.8,-2.6l-2.8,.5l.4,5.1l2.9,-.7zM642.5,42.8l-.2,-.1l-1.4,-.9l.2,-.4l.7,-3.2l2.7,-.2l2.6,1.2zM644.7,43.7l3.8,-4.5l4,1.7l.2,.8l-3.4,3.1zM659.3,39.3l-3.4,-1.5l-2.6,2.8l.2,1l2.7,3.7l4.7,.1zM660.2,39.7l.7,5.5l3.1,1.4l2,-3l-1.6,-3.2l-2.2,-.7zM667,40.5l2.8,-1.2l2.7,2l.1,1l-4.6,.2zM676.7,45.3l3.7,-.9l1.4,-5.1l-4.2,-1.2l-2.4,3.7l-.1,1l-.1,2.2zM524.6,47l.9,3.4l-2.3,2.7l-2.6,-2l1.8,-3.6l.8,-.3zM526.2,46.7l4.5,.6l.8,.4l-2.3,3.7l-1.1,-.8zM538.6,52l-2.2,-3.4l2.7,-1.9l2,.6l1.3,3.7l-.3,.1zM542.3,46.3l1.5,4.7l3,-1.8l.9,-2.6l-3.6,-2.5zM549.4,46.8l-1,3l3.5,2.4l4.9,-2.4l-2.2,-4.4l-3.6,-.5zM562.6,49.3l.6,.7l-3.1,-.7l-2,-.9l-2.5,-3.1l1.9,-2.5l2,1.1zM566.8,43.5l5.1,2.6l-1.3,4.1l-5.7,1.6l0,-1.7l-.8,.1zM574.7,43.7l-2,3.4l-.4,3.1l1.3,-.2l2.6,-1.4zM582.6,48.2l-1.2,.8l-2,-.3l2.2,-4.6l1.7,2.1zM584.9,48.4l4.1,.9l.3,.2l.4,-4l-1.4,.3l-2.2,.6zM591.4,49.5l3.5,1.9l1.1,-2.5l.3,-3.4l-1.1,-1.3l-.4,.1l-3.8,.6zM605.5,46l-.8,.5l-3.4,3.7l-3.4,-.7l1.2,-3.6l5,-.1zM607.4,46.5l7.1,-.1l-1.3,3.5l-5.4,-.3l-1.5,-3.3l.7,.1zM617.3,45.8l-.9,.6l-.3,3.7l0,1.8l6.9,-.2l-4.5,-5.8zM624.3,51.4l-.6,-.2l-3.4,-5.3l4,-.4l2.8,2l-.1,1.4zM632.7,52.6l-3.1,-3.7l.1,-1.3l1.8,-1.5l2.8,.3l0,1.8zM638.6,49.2l2.4,-1.6l-.7,-1.9l-1.2,-1.1l-2.7,1.7l.7,1.1zM643.8,47.9l-1.1,-2.7l.3,0l4.1,1.5l1.3,2.9l-3.1,1.5zM650.3,46.1l.7,3.4l1.7,1.8l2.4,-2l-.2,-2l-1.9,-3.6zM660.8,45.4l-3.3,2l-1.7,2.5l3.8,.9l5.1,-2.3l-.1,-.5zM666.7,44.4l5.4,-.3l.8,1.6l-4,3.3l-3.1,-.9l-.3,-.1l-1.1,0zM675.2,48.3l1.5,1.6l-3.8,4.9l-.9,.4l-1.4,-5.6l4.2,-4.6zM677.8,47.6l4.6,-1.7l3.2,1.7l.6,4.4l-5.1,.6l-4.5,-2.7zM524.6,54.6l.6,.5l1.8,1.4l3,-.2l-1.9,-2.9l-.8,-.5zM530,52.2l2,3.5l2.4,1.1l1.3,-1.7l.5,-1.5l-1.5,-3.6l-1.6,-1.4zM536.3,56.1l4.7,4.1l4.1,-2.6l-2.8,-4l-4.7,.4zM546.4,58l.9,-1.6l4.5,-2.9l-.1,-.3l-4,-3l-2.4,2.5l-1.8,-.7zM554.6,55.4l-.9,-1.9l-.4,-.2l2.9,-2l3.2,.4l-2.6,3.1zM560.5,60l1.2,0l3.6,-5.7l-1.1,-1.6l-.4,-1.7l-2.8,1.1l-1.7,4.3zM565.2,51.6l6.2,.2l.8,.6l1.5,3.9l-3.7,1.5l-4.9,-3.5zM581.5,54.2l-.7,-3.8l-2.2,-.6l-.9,.6l-2.3,1.6l.3,3.5l2.3,.9zM586.5,55.8l1.5,-1.1l.5,-3.4l-5.1,-1.9l-1.8,1l.9,3.8zM590.5,51.7l-.5,2.8l4.4,2.2l1,0l-.9,-4.1l-3.8,-1.1zM594.7,52l1.9,5.9l1.5,-.7l3.6,-.8l-.4,-5.9l-3.8,.9zM603.7,55.2l1,.8l1.8,-.6l0,-4.3l-.9,-3.7l-3.1,4zM614.2,51.7l-7,-1.9l-.5,6.4l7,-.1l.5,-2.7zM615.4,57.9l.1,-1.1l1.2,-2.8l4.8,-.4l.4,.1l1,1.2l-4.4,2.7zM630.4,54.6l-2.1,-3.4l-2.7,1.8l.6,1.6l2.1,3.2l3.2,-2.6zM633.8,54.6l1.4,-6.3l3.3,3.1l-.9,3.4l-1.6,1.4l-2.1,-.8zM639.1,54.6l3.9,-.4l.5,-.1l.5,-1.6l-1.7,-2.4l-2.7,1.7zM645.2,54.7l4.3,2.3l3.2,-1.3l-.6,-3.6l-2.3,-1.3l-2.9,2.1zM656,50.2l-3,1.9l1.3,3.4l2,2.1l.1,2.1l2.7,-3.7l-.1,-4.1zM663.7,55.1l-2.6,0l-.5,-3.2l3.5,-2.3l.4,-.2l1.2,5.9zM671.2,54.8l-2.2,-.2l-2.1,-.3l-1.4,-4.8l3.1,1.5zM673.5,55.3l3.3,2.4l2.6,-.9l1.1,-3.6l-3.5,-1.3zM685.1,53.6l-2.5,.4l-.8,2l3.3,1.7l1,-3.2zM530.9,58.7l-2,.7l-1.5,.9l3.3,2.8l1.8,-1.2l1.2,-3.9zM536.9,57.8l-1.5,.7l-.4,4.1l2.8,1.6l2.4,-1.9l-.5,-2zM541.2,60l.8,2.6l4.2,1.5l3.2,-.5l-2.8,-4.2l-.5,-.5zM552.7,60.7l-1.7,1.3l-.9,1l-1.8,-4.2l3.4,-3l1.5,1.6zM555.2,60l3.8,.4l-1.1,-3.1l-2.6,.5zM565.8,57.3l2.3,3.3l-.7,1.9l-.1,0l-.2,.3l-3.1,-.9l-.2,-.2zM577.9,58.9l-3.3,-2.1l-4.9,2.8l-.7,4l10.4,-2zM586.6,56.2l-4.5,-1.3l-3.4,4l.3,2.5l1,1.6l5.5,-3.2zM587.7,57.2l.8,-1.6l4.7,3.2l-2,3.6l-.1,.2l-2.8,-2.8zM593.4,62.5l2.3,-3.3l.7,-.5l1,.5l.8,4.8l-3.3,-.1zM600,59.6l1,4.9l1.5,2.6l3,-3.7l-1.6,-4.5l-1.1,-1.1zM612.7,59.3l-3.9,4.4l-1.6,-1.5l-1.9,-4.5l2.5,-.7l5.4,.8l-.7,1zM616.6,67.4l-1.6,-7.8l.1,-1.3l2.8,1.8l3.5,3.3l-4.1,3.8zM619.9,59.1l4.6,-3.3l1.8,4l.6,1.3l-2,.9l-.7,.5zM636.8,61.8l-1.6,-4.2l-1.7,-1.5l-3.5,3.7l-.6,1.3l2.8,3.1l4.3,-.1zM638.2,61.3l-1,-4.3l1.6,-.8l3.9,.1l1.1,4.7zM644.9,60.4l-.6,-4.2l.4,-.8l3,2.5l-.6,3l-1.8,-.3zM649.5,61.2l1.2,.7l4.3,-2.1l-2.5,-2.6l-2.6,.4zM663.6,57.4l-3.2,.4l-2.5,2.4l2.8,3l1.4,.2l1.4,-.6zM664.9,57.5l1.2,4.5l1.6,.8l.1,.1l.6,-4.8l-2,0zM672.9,55.4l3.2,3.9l.1,1.1l-1.6,1.3l-4.5,.5l.6,-5.1l1.4,-1.4zM684.6,59.6l.2,3.3l-.5,.2l-6.6,-2.5l1.5,-.6l1.4,-1.1zM526.7,61.3l-3.6,3.1l3,3l3.1,-.1l.4,-2zM534,65.4l2.8,1.3l-.7,1.8l-2.3,2.4l-.5,-.3l-1.9,-2.6l.2,-1.9zM541.7,65.1l4.1,1l-1.2,3.7l-1.6,0l-3,-1.6l-.2,-1.5zM547.9,71.7l-1.5,-2.8l1.2,-2.6l1.8,-1l1,-.7l2.6,2.5zM554.7,62.3l-1.8,1.9l1.9,1.9l1.9,1.8l1.1,-.4l2.3,-4.4l.5,-.7l-1.7,0zM563.3,69l-3.1,-.5l2.3,-3.9l3,1.3l-1,2.9zM567.8,69.9l.8,-4.2l.5,-.3l2.9,3.2l1,1.2l-3.7,3.5zM577.4,63.8l1.1,1.6l-3.5,1l-4,-2.3l1.6,.1l5.1,-1.8zM587.1,60.2l1.2,3.5l-4.4,4l-4.2,-1.9l.2,-2.8zM590.9,64.6l-5.3,4.5l-.6,1.6l6.8,-.7l1.6,1l-1.2,-4l-.8,-3.5zM595.2,67.2l4.5,0l2,.4l-.4,1.9l.4,.6l-3.6,1.2l-3.1,-.9zM610.9,69.3l-3.1,-3.8l-1.6,-.3l-2,1.9l-.4,2zM614.9,67.8l-.4,-7l-4,4.4l3,4.6l0,-1.3zM619.9,68.4l3.7,-2.6l.6,.2l1.4,3.5l-2.5,.5zM630.5,69.2l0,-3.8l-2.6,-3.1l-1.8,2.2l1.8,4.8l-.1,.2zM636.3,65.1l-2.8,.8l-1.1,3.1l3,.6l2.2,-1.2zM639.1,63.2l3.6,-.4l1.5,-.4l-2.2,4.8l-2.6,-.5l-.6,-2.2zM645.5,63.2l2.2,.1l2.6,0l-.6,3.9l-5.2,3.7l-.2,-2.7zM655.5,68.4l2.5,-3.5l-1.7,-4.7l-.3,.9l-4.6,2.6l.1,3.2zM665.3,70l-.9,-3.5l1.6,-.1l1.4,-.1l1.1,3.3l-1.1,.9zM669.9,65.7l1.5,4l.9,.6l2.9,-1.2l-.9,-4.9l-5.1,.8zM678.1,68.9l-1.5,-4.7l.8,-1.5l5.1,2.2l-2.7,3.7l-1,1.1zM522.6,75l-.3,.4l-1.3,-2.5l3.8,-2.6l.1,4.8zM530.7,72.3l-3.3,1.5l-1,.5l-.2,-4.4l.1,-1.2l3,-.1zM541.2,76.9l-3.7,-1.3l-3,-2.5l3.9,-3.4l4,1.4zM546.6,73l-1.8,-1.4l-.7,.8l-1.1,3.3l.6,0l4.8,-.8zM549.8,72.2l3.3,-3.7l2.6,1.8l-.9,1.6l-3.6,3.3l-.7,-.7zM556.7,71.9l2.5,3.5l2.4,.1l1.3,-4.6l-4.7,-1.9l-.8,1.7zM563.8,71.4l-.3,3.7l3.8,1.8l1.3,-1.6l-1,-.7l-1.6,-3.4zM570.2,75.4l4.1,2.6l5.5,-1.3l-5.7,-5.5l-4.9,3.8zM582.5,70.2l-2.7,-4.4l-4.6,2.9l1.5,2.1l2.9,3.9l.6,-.2l2.1,-.7l1.8,-2.6zM591.9,71.7l-.8,4.6l-6.1,-.3l-1,-1.4l.4,-3.1zM593.6,72.1l2.6,1.7l.7,3.1l-3.1,.4l-1.6,-1.5l1.4,-2.8zM599.3,74.6l2.4,-1.6l1.8,2.2l-2.2,2.7l-.4,.7l-1.7,-1.9zM611.6,71.6l1,-.5l-7.4,-.2l-1,.1l1.7,3.3l4.4,.7l.7,-1zM616.4,69.4l-1.6,2l-1.1,3.7l4,1.5l3,-.7l1.3,-3.3l-4.7,-3.4zM624,75.7l1.5,1.3l2.2,-1.3l-.7,-3.7l.1,-.4l-3.4,1.5zM631.1,76.3l-.7,-1l-1.8,-3.8l2.7,-.2l4,.3l.7,2.6zM642.4,73.6l-3.8,.7l-.2,-1.3l-.9,-1.5l1.3,-1.9l3.2,.8l.7,.9l.5,0zM644.8,76.6l8.6,.5l-.6,-1.8l-7.4,-3.4l.1,3.1zM652.6,73.9l3.5,-2.2l-2,-.4l-3.5,-3.7l-5.2,3.2l1.3,.3zM660.1,72.7l-3.9,-1.1l1.2,-.9l2.5,-4.1l1.6,.5l1.9,3.6zM661.6,74.5l-.5,-.5l3.3,-2.4l1.7,1.8l-.4,2.2zM677.5,71l-4.1,1.3l.4,7.7l5.1,-4.3l-1,-3.7zM678.9,70.8l1.7,5.5l1.9,1.3l4.3,-2.7l-.9,-2.3l-4.8,-1.4zM527.3,80.3l-.9,-3.5l-.8,-.2l-2.3,.1l.6,3.8zM533.2,74.3l-.6,-.7l-4.4,3.1l1,4l.3,.6l2.3,-.1l2.6,-.9l1.4,-2.6zM540.2,84.1l-4.9,-3.3l2,-2.5l3.9,-.2l.4,.6l2.3,3.8l-2.4,1.1zM548.8,76.9l-6.2,1l3.2,3.2l-.6,1.2l5.8,-3l-.4,-3.2zM552.6,76.6l-.1,2.3l1.8,2.1l3.7,0l.5,-4.5l-2.8,-2.4zM560.4,80.6l-.5,-3.5l1.9,-1l4,1.8l-.4,4.2l-4.6,.3zM567.7,77.5l-.2,3.9l1.3,3.7l4.8,-3.3l.6,-3.1l-4.8,-1.4zM579.8,82.3l.1,-4.9l-1.3,1.2l-2.9,.6l.2,2.1l1.7,1.5zM581.7,83.7l6.4,-1.1l-3.5,-5.8l-1.3,-1.9l-2,2.7l-.2,6.1zM591.9,83.1l.6,-2.8l-1.6,-3l-4,.5l1.2,4.5l2.9,1.2l.2,-.5zM594.3,81.9l-.5,-1.6l3.3,-1.5l2.5,.9l-2.7,3.3zM610.4,77.2l-2.1,4l-3.4,1.2l-2.4,-3l2.1,-4.2zM616.5,79.2l2.2,5.7l-7.1,.6l-2,-3.7l1.7,-5.3l2,.2zM620.8,85.8l3.1,-3.5l1,-3l-3.2,-.2l-3,.5l.1,4.8l1.3,1zM631.1,81.3l-1.4,3l-3.8,-2.2l.2,-2.8l3.3,-2.5l1.1,1.1zM636.6,80.1l-2.6,.2l-.7,.6l-.5,-2.8l2.6,-1.8l1.1,.5zM642.9,77.7l.2,2.4l-3.1,.7l-1.1,-.3l-.6,-4.2l5.1,-.6zM645.3,77.2l-.4,3.5l3.4,2.7l1.3,0l3.5,-3.6l0,-2.9zM653.6,76.9l1.2,1.7l2.7,.8l1.7,0l1,-4.5l-1.1,0l-2.8,-.9l-2.1,1.6zM661.8,76.1l3.5,1.4l.4,1.8l-1.5,1.7l-2.3,-1.2zM668.3,76.7l.6,-2.6l1.8,.3l.8,-.2l.9,5l-.5,-.4l-.1,.9l-3.8,-.8zM675.5,80.6l-1.6,-.1l6.2,-3.5l1.7,1.7l-.3,1.7l1,1.2l-4,1.3zM526.8,82.5l-3.6,-.6l-2.5,3.2l-.4,.2l2.7,1.8l.8,-1.1l4.2,-3.5zM532.1,88.9l-.9,-4.6l-2.3,-1.8l-2.6,4.3l5.2,2.5zM538,85.4l-2.8,-4l-2.5,2.6l-.1,5.1l3.5,-.4zM542.8,85.5l1.9,-2l.2,.8l3.1,4l-3.7,2.8l-.4,-1.1zM551.3,87.6l1.5,-4.5l-1.8,-1.8l-4.2,2.4l3.3,4.6l.7,.2zM554.8,86.2l.9,-2.7l2.3,-.5l.8,.8l-.2,2.8zM562.3,88.2l1.3,1.1l3.7,-2.2l-1.3,-.8l-1,-2.2l-3.3,.3l-.3,3.2zM575.7,86.9l-3.1,1.9l-2.2,-1.9l-.6,-1.1l3.8,-1.7l1.9,1.3zM581.1,90.1l-3.7,-3.1l.6,-1.8l2.9,-.7l.5,-.2l1.1,4.6zM583.3,89.3l5.2,.8l.8,-5.3l-1.7,-1.7l-4.6,1.6zM595,85l2.4,.1l3.1,2.2l-.5,.1l.1,1.6l-3.1,-1.8l-3,-2.3zM599.3,83.3l1.8,-2.3l.4,0l2,2.1l-1.2,4zM606,90.7l-2.6,-2.7l-1,-.1l2.6,-4l3.8,-1.4l2.5,2.8l0,2.4zM618.8,86.6l-.9,-1.2l-5.6,.2l.1,2.2l2.4,3.5l1.8,-1.2zM627.9,86.9l.8,-2.1l-3.3,-1.1l-3,2.3l.8,.4zM632.3,83l-1.7,1.9l-1,2.9l.2,.2l6.2,.4l-3.1,-5.9zM638.3,80.9l-5.4,1l3.8,5.5l1.4,.8l.7,-.1l.2,-5.4zM640.5,82.7l0,4.9l5.3,-.4l1.8,-2.5l-3.8,-3.6zM653.5,80.1l4.1,2.1l-.5,5.3l.1,1.8l-2.9,-.4l-4.2,-4.4zM660.6,81.4l-1.6,1.1l.4,4.7l4.3,.3l.7,-5.7zM665.8,83.1l.4,3.2l-.2,.4l4.9,-.4l-.5,-3.6l-3.2,-1zM677,86.7l.8,-3l-4.2,-2.2l-.6,.7l-.5,4.6l1.8,2zM679.1,87l2.6,-.1l.5,-.2l-.3,-2.9l-2.7,.4zM529.5,90.3l-4.4,-1.7l-1.5,-.6l1.5,4.4l.8,1.7l5,-2.6zM534.1,95.3l-2.1,-3.5l1,-.9l.7,0l2.3,-.6l1.5,2.1l-.7,1.9zM540.2,86.2l-3.1,3.3l2.5,1.9l2.4,-1.2l-.8,-3.3zM550.1,90.4l-.8,.7l-3.3,1.2l.5,3.8l1.8,-.9l3.2,-1.9zM552.6,89l5,.3l.2,1l-2.5,3.2l-1.9,-.9l-.6,-2.7zM560.3,90.6l1.7,1.5l-.1,.8l-4.3,2.6l-.4,-1.4zM565.7,92.5l-1.2,-.8l4.2,-3.4l1.8,2.9l.5,1.2l-3.6,3.2l-1.4,-1.9zM579.1,91l0,.5l-3.6,.8l-1.6,-.3l.4,-1.2l2.1,-1.6zM581.9,91.2l0,.7l1.8,4.5l2.8,-4.8l1.2,-.6l-4.1,-.5zM591.5,86l-.3,-.7l-1.2,4.4l.1,.1l1.7,2.5l2.1,-4zM596.3,88l-4.5,5.4l2.2,.8l3.3,.4l3.1,-4.7zM604.3,91.7l-1.9,-1l-1.1,0l-2.4,4l.6,.5l4.1,.1l2.2,-3zM608.1,91.1l2.6,-1.8l1.7,2.7l-.5,2.2l-3.7,-2.3zM621.5,87.8l-.7,-.7l-.6,.1l-2.1,4.4l2.7,1.1l2.6,-1.6zM629,88.4l-.6,3.5l-2.3,-.6l-2,-3.2l4.4,.4zM630.8,88.9l4.4,.6l.9,.9l1,.3l-2.8,1.4l-2.8,-.3l-.1,-.1zM639.9,90.7l1.1,1l4.4,1.2l-.5,-4.6l-5.1,1.1l.5,.9zM648.5,86.4l-1.7,1.7l1.3,4.3l1.3,1.3l1.2,-.4l3.4,-3.8l-4.3,-3.4zM657.6,94.1l-.7,-4l-2.4,.2l-2.8,3.8zM660.2,94.2l5.4,.3l-.4,-1.3l-1.1,-4l-.4,.3l-5,-.5l.1,1.2l1,3.7zM673.6,89.6l-.3,3l-.6,-.2l-6.4,.6l0,-3.8l5.6,-1.3zM678.2,89.1l3.6,-.4l-1.8,4.3l-2.6,1.1l-2.5,-.9l1.2,-2.9zM533,97.3l-2.1,-4.3l-3.9,2.1l.2,3.9l4.1,.6l1.2,.2zM533.7,97.3l4.8,-1l1.3,3l-1.8,1.8l-4,-1.4zM539.6,95.9l.8,-2.4l2.8,-1.4l.7,.1l.7,4.6l-2.7,2.8l-.3,-1.6zM553.1,95.6l-2.2,2.8l1.1,3.2l.7,-.6l2.7,-1.4l.4,-.2l0,-2.2l-1,-1.1zM557.6,96.6l4.9,-2.6l1.9,1l-5.6,3.3zM558.8,99.7l1.2,.3l.4,.5l3.3,1.9l1.9,-3l-.5,-1.4l-1.4,-1.3zM571.1,99.3l2.8,-2.3l-.9,-1.7l-.7,-1.5l-3.8,3l.8,1.4zM580.6,101.8l1.6,-2.2l.4,-.6l-2.3,-5.1l-5.6,-.1l2,3.5zM591.6,95.7l-1.3,1.9l-2.9,3l-3.4,-.8l.3,-1l4.5,-5.8l2,1.6zM597.1,96.1l-2.4,.5l-1.1,1.4l2.3,4.5l1.6,-4.6l-.5,-.8zM599.4,97l1,1.6l2.2,3.5l3.2,-1.7l-1.9,-2.3zM610.5,98.1l.5,-2.5l-3.8,-1.5l-1.5,3.4l1.9,1.5l.4,-.1zM618.7,95.8l.9,1.7l-3.9,2.4l-2,-2.5l0,-2.2l1.2,-1.8l2.1,.1zM625.6,92.8l-4,3l.6,1.8l1.4,2.8l4.2,-.3l-.4,-1l.2,-4.7l-.1,-.2zM633.9,94.5l.3,3.6l-4.3,.6l-.2,-4.9zM638.4,91.3l1.1,2.4l-.2,3.2l-2.1,2.2l-2,-.6l.7,-4.2zM648.3,97.6l-2.6,1.5l-2.9,-1.8l-1.5,-3.6l5.3,1.1l1.2,1.6zM657.1,96.4l-.3,2.2l-4.2,1.4l-3,-2l1.5,-1.4l.2,-2l6.1,1zM660.6,96.9l3.6,-1.4l.6,2.6l-3.2,3.6l-2.2,-2.9zM665.5,94.4l.3,-.8l6.7,.7l-2.6,4.8l-2.9,-1.9zM671.8,99.5l1.5,1.4l3.3,-1.5l.4,-4.3l-2.6,-1.5l-.3,1.1l-2.8,5zM681.6,95.7l-2.9,.3l1.2,2.8l1.9,2.9l2.6,-3.2l-.1,-1.2zM527.7,108.2l-3.9,-4l0,-.9l2.6,-3l3.8,1.5l-.5,2.2zM533.1,100.7l-.7,.5l.2,3.1l3.6,1.4l1.2,.5l-.5,-3.6zM542.8,104.2l-.9,-4.7l-.7,1.5l-2.8,.9l-.2,4.6l3.2,1.9zM548,103l2,.2l-2.5,-4.1l-1.4,.1l-3,.8l2.4,2.9zM555.7,112l-1.2,-.4l-1.6,-7.1l4.5,-3.3l.5,1.5l.7,4.3zM562,107.2l1.2,-1.8l-.2,-1.4l-3.1,-1l-.6,3.4zM569.9,102.1l.7,3l-2.6,1.1l-2,-1l-.8,-1.8l2.6,-2.2zM573.4,102.3l2.4,-1.8l3.9,1.4l-2.5,4.5l-.6,-.6l-2.6,-.1zM581.9,103.3l1.1,-1.8l2.5,1.4l1.9,2.2l-2.8,3.1l-5.5,-1.2l1.1,-.9zM591.7,99.7l-3.1,2.7l1.1,2.4l1.2,.1l3.9,.4l.2,-1zM601.3,105.1l-4,1.3l-1.1,-.7l.4,-1.3l1.8,-4.5l3.4,3.6zM608.3,106.4l-2.1,.7l-2.9,-2.1l.4,-1.3l2.9,-1.8l.1,1.1zM614.4,104.4l-3.2,1.5l-.2,.4l-1.9,-4.5l2.8,-1.3l1.8,1.6zM616.1,104.7l.2,-3.8l4.4,-2.4l1.6,2.5l-2.3,5.3zM624.5,109.1l-2.9,-1.1l-1.3,-.7l3.5,-5.6l3.5,.1l2.3,3.3zM630,104.9l-.8,-3.7l.7,0l4.8,-1.9l.7,1.8l1.7,4.5l-3,1.1zM641.2,105.9l2.3,-1.7l2.4,-4l-5.2,-1.6l-2.7,1.9l.7,4.7zM652.4,100.3l.2,3.7l-3.5,4l-3.4,-4.1l.6,-3.3l3,-1.4zM658,100.2l3.3,2.2l-.3,2.8l-2.6,1.7l-4.5,-3l.3,-2.6zM666,100.2l2.4,.9l-.1,.1l-3.8,4.3l-1.1,-.9l.3,-2.3zM671.7,105.7l1,-.7l-.3,-1.8l-1.9,-2.9l-4.3,5.5l-1.8,1.6zM675.1,104.6l-.9,-1.3l3.3,-1.9l3.2,1.8l-1.2,1.6l-2.7,1.8zM526.1,109.7l-2.8,1.3l-1.8,-.3l-1.6,-2.2l2.8,-2.6l4.1,3.3zM533.9,111.3l-4.9,0l-1,-1.4l.2,-.7l3.9,-4.5l3.1,2.9zM539.9,110.3l-2,2.9l-1.7,-2.5l1.3,-2.6l.6,-.1l1.7,1.3zM546.2,111l1.6,-5.3l-3.5,.1l-1.4,2.8l.2,1.3l1.2,1.4zM548,110.6l3.3,1.1l1.9,-1l-2,-5.6l-.5,.5l-.7,.9zM559.7,111.6l1,-2.4l-2,-1.1l-1.2,3l1.6,.4zM562,111.9l2.6,.8l1.6,-.5l.4,-3.1l-1.8,-1.3l-2.1,.9zM573.2,106.7l2.9,1.3l-2.6,5.8l-5.8,-1.3l.7,-4.1zM586,113.4l-3.5,1.5l-2.2,-5.5l4.2,.7zM589,106.5l-3.5,3l2.2,3.1l1.3,1.7l1.1,-.4l-.1,-7.2zM596.2,110.6l-3.7,.2l-.8,-3.9l3.5,.1l.8,.6zM604.7,109.8l-2.8,3.4l-3.1,-1.2l.1,-1l-.8,-3.1l3.1,-.7zM609.6,109.4l-2.4,1.4l-1.8,3.1l-1.1,1.3l4.9,-.9l1.4,-2.5l-1.2,-1.8zM617.8,110.5l-.4,.9l-2.8,-.9l-1.6,-2l3.1,-2.3l2.7,2l0,.9zM624.2,110.3l-2.6,-.7l-1,2.3l5.5,2.9l.9,-.8zM625.7,109.5l3,3.3l2.3,.8l1.7,-2.6l1,-1.8l-3.7,-1.7zM642.7,113l1.3,.8l-3.5,-6.1l-2.7,-1.8l-2.9,2.9l1,2.4l2.3,2.5zM645,112.3l3.9,0l-.1,-1.1l-.4,-1.8l-3.9,-3.8l-2.7,.7zM650.5,109.2l2.6,-3.4l3.6,2.8l.3,2.2l-7.1,.4zM664.3,107.6l-1,.4l-1.1,-1.2l-2,2.2l-.7,1.6l-.9,1.2l5.1,.5l1.7,-.6zM671.3,106.5l-3.2,5.7l-.5,-.4l-1.4,-3.5zM672.6,108.1l.7,-1.4l1.8,2.3l-.2,3.7l-1.1,1l-3.9,-1.7zM678.1,112.2l.3,.9l5.3,-1.5l-1,-2.2l-1.5,-2.1l-3.3,1.6zM577.6,109.1l.3,-.2l2.6,5.8l-3.5,7.8l-2.9,-7.5l3.1,-6.6z" fill="#1c1c1c" stroke="#1c1c1c" stroke-width="0.8" stroke-linejoin="round" filter="url(#blur06)"/>
<rect x="530.2" y="0" width="146.8" height="107.2" fill="#fff" filter="url(#grainR)" opacity="0.3"/>
</g>
<rect x="493.4" y="40.7" width="13.6" height="13.3" fill="#b4dcf2" fill-opacity="0.6" stroke="#1e96e4" stroke-width="1.7"/>
<line x1="507.8" y1="40" x2="530.2" y2="0.2" stroke="#1e96e4" stroke-width="1.5" stroke-dasharray="0.1 2.55" stroke-linecap="round"/>
<line x1="507.8" y1="54.8" x2="530.2" y2="107" stroke="#1e96e4" stroke-width="1.5" stroke-dasharray="0.1 2.55" stroke-linecap="round"/>
<rect x="489.9" y="95" width="26.2" height="4.4" fill="#fff" />
<text x="502.3" y="90" font-size="12.9" fill="#fff" text-anchor="middle" font-weight="normal" >1 μm</text>
<rect x="638.6" y="96.6" width="26.4" height="4.4" fill="#fff" />
<text x="651" y="93" font-size="12.6" fill="#fff" text-anchor="middle" font-weight="normal" >400 nm</text>
<text x="360.6" y="12.3" font-size="17" fill="#000" text-anchor="start" font-weight="bold" >b</text>
<linearGradient id="solarG" gradientUnits="userSpaceOnUse" x1="0" y1="150" x2="0" y2="282"><stop offset="0" stop-color="#fccf94"/><stop offset="0.45" stop-color="#fddcaa"/><stop offset="1" stop-color="#fef1c4"/></linearGradient>
<polygon points="38.6,281.2 38.6,281.2 39.05,274.19 39.5,267.2 39.95,259.77 40.4,255.92 40.85,243.46 41.3,237.63 41.75,233.65 42.2,228.38 42.65,224.14 43.1,223.3 43.55,220.77 44,230.01 44.45,217.93 44.9,216.84 45.35,216.33 45.8,216.08 46.25,214 46.7,213.08 47.15,214.44 47.6,201.21 48.05,192.78 48.5,184.45 48.95,176.95 49.4,169.05 49.85,164.83 50.3,162.29 50.75,162.42 51.2,157.65 51.65,156.53 52.1,155.62 52.55,153.59 53,174.96 53.45,151.36 53.9,157.57 54.35,155.79 54.8,168.23 55.25,157.73 55.7,158.45 56.15,158.29 56.6,157.01 57.05,157.7 57.5,180.65 57.95,162.3 58.4,168.11 58.85,163.66 59.3,166.51 59.75,163.04 60.2,165.39 60.65,165.63 61.1,166.07 61.55,166.66 62,167.64 62.45,167.69 62.9,175.66 63.35,169.57 63.8,171.64 64.25,170.71 64.7,176.05 65.15,173.45 65.6,172.99 66.05,173.96 66.5,173.53 66.95,182.64 67.4,174.11 67.85,189.84 68.3,176.98 68.75,177.68 69.2,178.11 69.65,193.77 70.1,181.88 70.55,181.27 71,183.7 71.45,184.6 71.9,189.8 72.35,186.66 72.8,186.98 73.25,187.6 73.7,189.1 74.15,188.86 74.6,190.09 75.05,197.02 75.5,199.29 75.95,227.89 76.4,226.24 76.85,194.28 77.3,195.72 77.75,201.35 78.2,197.72 78.65,198.41 79.1,199.42 79.55,200.94 80,202.91 80.45,201.27 80.9,202.11 81.35,204.28 81.8,203.84 82.25,205.2 82.7,216.8 83.15,212.22 83.6,207.69 84.05,208.59 84.5,207.86 84.95,207.95 85.4,208.99 85.85,211.95 86.3,214.3 86.75,211.34 87.2,212.17 87.65,214.73 88.1,227.36 88.55,231.2 89,241.47 89.45,249.94 89.9,255.64 90.35,259.34 90.8,260.11 91.25,253.77 91.7,250.22 92.15,247.58 92.6,237.56 93.05,232.89 93.5,231.21 93.95,230.76 94.4,225.56 94.85,228 95.3,224.91 95.75,224.55 96.2,225.65 96.65,229.34 97.1,229.26 97.55,227.72 98,231.8 98.45,228.82 98.9,229.81 99.35,230.2 99.8,231.47 100.25,232.22 100.7,233.41 101.15,235.1 101.6,235.75 102.05,239.61 102.5,239.55 102.95,242.69 103.4,244.93 103.85,254.16 104.3,257.75 104.75,263.89 105.2,267.47 105.65,270.13 106.1,273.13 106.55,274.85 107,271.86 107.45,270 107.9,266.62 108.35,262.21 108.8,255.97 109.25,248.58 109.7,247.46 110.15,247.35 110.6,246.36 111.05,246.13 111.5,244.81 111.95,247.02 112.4,244.66 112.85,247.43 113.3,246.53 113.75,245.21 114.2,245.26 114.65,245.29 115.1,246.98 115.55,245.4 116,246 116.45,246.28 116.9,247.3 117.35,248.01 117.8,249.22 118.25,250.77 118.7,250.54 119.15,251.21 119.6,254.03 120.05,254.31 120.5,254.18 120.95,254.57 121.4,258.47 121.85,257.37 122.3,259.8 122.75,263.25 123.2,263.92 123.65,267 124.1,268.87 124.55,271.92 125,274.53 125.45,277.31 125.9,278.37 126.35,278.79 126.8,279.25 127.25,279.66 127.7,280.13 128.15,280.33 128.6,279.96 129.05,279.66 129.5,279.43 129.95,279.07 130.4,278.64 130.85,278.6 131.3,277.92 131.75,276.8 132.2,275.74 132.65,275.38 133.1,273.22 133.55,272.61 134,270.52 134.45,269.3 134.9,267.06 135.35,265.42 135.8,265.49 136.25,262.67 136.7,262.22 137.15,261.92 137.6,261.55 138.05,263.67 138.5,261.18 138.95,263.21 139.4,260.89 139.85,261 140.3,260.77 140.75,260.69 141.2,261.03 141.65,260.89 142.1,261.53 142.55,261.32 143,261.4 143.45,261.2 143.9,261.37 144.35,261.52 144.8,261.83 145.25,262.52 145.7,262 146.15,262.27 146.6,265 147.05,262.76 147.5,262.84 147.95,262.96 148.4,263.13 148.85,263.23 149.3,263.46 149.75,264.94 150.2,265.35 150.65,264.3 151.1,265.76 151.55,264.83 152,265.09 152.45,265.6 152.9,265.91 153.35,266.09 153.8,267.37 154.25,266.94 154.7,266.96 155.15,267.47 155.6,267.73 156.05,268.54 156.5,269.73 156.95,270.66 157.4,271.59 157.85,272.89 158.3,273.61 158.75,274.6 159.2,275.76 159.65,276.6 160.1,277.25 160.55,278.09 161,279.02 161.45,279.65 161.9,279.85 162.35,279.98 162.8,279.99 163.25,280.11 163.7,280.25 164.15,280.35 164.6,280.47 165.05,280.59 165.5,280.7 165.95,280.82 166.4,280.86 166.85,280.85 167.3,280.8 167.75,280.76 168.2,280.69 168.65,280.64 169.1,280.68 169.55,280.56 170,280.53 170.45,280.47 170.9,280.43 171.35,280.15 171.8,279.8 172.25,279.29 172.7,278.85 173.15,278.58 173.6,277.98 174.05,277.78 174.5,277.28 174.95,276.99 175.4,276.37 175.85,276.24 176.3,276.02 176.75,275.94 177.2,276.06 177.65,275.53 178.1,275.33 178.55,275.59 179,275 179.45,274.87 179.9,274.87 180.35,275.2 180.8,274.76 181.25,274.82 181.7,274.65 182.15,274.77 182.6,275.14 183.05,275.13 183.5,274.86 183.95,274.63 184.4,274.57 184.85,274.5 185.3,274.65 185.75,275.34 186.2,274.64 186.65,275.18 187.1,274.93 187.55,274.54 188,274.62 188.45,274.53 188.9,274.56 189.35,274.64 189.8,274.72 190.25,274.74 190.7,275.82 191.15,274.84 191.6,274.93 192.05,275.02 192.5,275.1 192.95,275.05 193.4,275.2 193.85,275.36 194.3,275.23 194.75,275.39 195.2,275.43 195.65,275.57 196.1,275.94 196.55,275.78 197,275.87 197.45,276.11 197.9,276.38 198.35,276.28 198.8,276.23 199.25,276.35 199.7,276.55 200.15,276.39 200.6,276.48 201.05,276.64 201.5,277.02 201.95,276.82 202.4,276.95 202.85,277.05 203.3,277.25 203.75,277.24 204.2,277.22 204.65,277.3 205.1,277.42 205.55,277.57 206,277.62 206.45,277.76 206.9,277.83 207.35,277.97 207.8,278.03 208.25,278.27 208.7,278.24 209.15,278.32 209.6,278.61 210.05,278.6 210.5,278.74 210.95,279.01 211.4,278.97 211.85,279.08 212.3,279.22 212.75,279.37 213.2,279.49 213.65,279.63 214.1,279.77 214.55,279.86 215,280.09 215.45,280.17 215.9,280.21 216.35,280.31 216.8,280.45 217.25,280.62 217.4,281.2" fill="url(#solarG)" />
<clipPath id="clipC"><rect x="38.6" y="122.9" width="178.8" height="158.3"/></clipPath>
<g clip-path="url(#clipC)">
<polyline points="39.3,281.2 39.5,240 39.7,200 40.1,172 40.7,162 41.5,155.5 42.4,151.5 43.5,148.6 44.9,146.6 46.5,145.2 48.8,144 51.4,143.2 55,142.6 59.3,142.1 66,141.6 72,141.2 79.1,140.9 87,140.6 95,140.3 102.8,140.1 104.3,140.7 105.8,141.3 107.3,140.9 108.7,140.5 114,140.3 120,140.1 127,140.5 130,140.6 134,140.2 140,140 145.6,140.1 146.4,141 147.2,143.6 148.1,148 148.9,151.5 149.7,149 150.5,146.6 152.5,144.7 154.5,143.6 157,142.7 159.4,142.2 163,141.9 167.3,141.7 168.3,142.9 169.3,144.6 170.8,143.4 172.3,142.6 174.7,142.1 177.2,142 179.7,142.1 182.2,142.6 183.7,144 185.1,146.6 186.4,150.3 187.7,154.5 188.9,152 190.1,149.6 191.5,147.5 193,146.6 193.8,147.5 194.6,149.6 195.3,155 196,161.4 196.7,164.2 197.4,165.4 198.7,164.2 200,163.8 201,165.2 201.9,167.4 202.7,170 203.5,172.3 204.7,170 205.9,168.3 207.4,166.6 208.9,165.4 209.7,165.5 210.4,166.4 211.1,172 211.8,179.2 212.4,183 213,185.5 213.6,178 214.2,171.3 215,166 215.8,161.4 216.8,158.5" fill="none" stroke="#fdae4b" stroke-width="1.6" stroke-linejoin="round" stroke-linecap="round" />
<polyline points="43.7,281.2 44.3,278 45,270 45.5,258 45.9,244 46.2,225 46.5,200 46.9,170 47.4,144 47.9,137 48.6,134 50,132.2 52.5,131.2 57.3,130.5 63,130.1 69.2,129.9 76,129.9 83,130 89,130.3 96,130.6 102.8,130.9 105.5,131.6 107.8,132.6 109.6,133.3 111.5,132.4 113.7,131.5 117,131.3 120,131.3 124,132.3 126.5,133.6 128.8,134.6 131,133.9 134.7,132.8 139,132.5 142.5,132.4 144.6,132.5 146,133.6 146.9,136.5 147.8,141 148.6,143.8 149.6,144.3 150.5,144.6 151.5,145.8 152.5,146.6 153.8,145 155.2,143 156.5,141.5 158.3,139.6 160.4,138.4 163,138.1 165.4,138.3 166.4,139.5 167.3,141.8 168.3,144.5 169.3,146 170.3,144.5 171.3,142.2 172.3,140.6 174.5,138.7 177.2,137.8 179.5,138.5 182.2,140.1 183.7,142.2 185.1,145.6 186.3,150.5 187.5,155.9 188.7,152.5 190.1,148.6 191.3,147.6 192.6,147.6 193.6,150.5 194.6,155.5 195.4,166 196.2,180 197,191.1 198.3,196.5 199.6,199.5 200.9,202 202.3,199.2 203.9,197 205.4,196.2 206.9,194 208.4,191.2 209.8,189.1 210.5,190.3 211.2,193.1 212,198 212.8,202 213.8,196.5 214.8,191.1 215.8,188 216.8,185.5" fill="none" stroke="#60c4f8" stroke-width="1.6" stroke-linejoin="round" stroke-linecap="round" />
</g>
<line x1="54.85" y1="281.2" x2="54.85" y2="277.2" stroke="#000" stroke-width="1.1" />
<line x1="95.49" y1="281.2" x2="95.49" y2="277.2" stroke="#000" stroke-width="1.1" />
<line x1="136.13" y1="281.2" x2="136.13" y2="277.2" stroke="#000" stroke-width="1.1" />
<line x1="176.76" y1="281.2" x2="176.76" y2="277.2" stroke="#000" stroke-width="1.1" />
<line x1="75.17" y1="281.2" x2="75.17" y2="278.8" stroke="#000" stroke-width="1" />
<line x1="115.81" y1="281.2" x2="115.81" y2="278.8" stroke="#000" stroke-width="1" />
<line x1="156.45" y1="281.2" x2="156.45" y2="278.8" stroke="#000" stroke-width="1" />
<line x1="197.08" y1="281.2" x2="197.08" y2="278.8" stroke="#000" stroke-width="1" />
<line x1="38.6" y1="249.54" x2="42.6" y2="249.54" stroke="#000" stroke-width="1.1" />
<line x1="38.6" y1="217.88" x2="42.6" y2="217.88" stroke="#000" stroke-width="1.1" />
<line x1="38.6" y1="186.22" x2="42.6" y2="186.22" stroke="#000" stroke-width="1.1" />
<line x1="38.6" y1="154.56" x2="42.6" y2="154.56" stroke="#000" stroke-width="1.1" />
<line x1="38.6" y1="265.37" x2="41" y2="265.37" stroke="#000" stroke-width="1" />
<line x1="38.6" y1="233.71" x2="41" y2="233.71" stroke="#000" stroke-width="1" />
<line x1="38.6" y1="202.05" x2="41" y2="202.05" stroke="#000" stroke-width="1" />
<line x1="38.6" y1="170.39" x2="41" y2="170.39" stroke="#000" stroke-width="1" />
<line x1="38.6" y1="138.73" x2="41" y2="138.73" stroke="#000" stroke-width="1" />
<rect x="38.6" y="122.9" width="178.8" height="158.3" fill="none" stroke="#000" stroke-width="1.25"/>
<text x="34.6" y="285.2" font-size="12.6" fill="#000" text-anchor="end" font-weight="normal" >0</text>
<text x="34.6" y="253.54" font-size="12.6" fill="#000" text-anchor="end" font-weight="normal" >20</text>
<text x="34.6" y="221.88" font-size="12.6" fill="#000" text-anchor="end" font-weight="normal" >40</text>
<text x="34.6" y="190.22" font-size="12.6" fill="#000" text-anchor="end" font-weight="normal" >60</text>
<text x="34.6" y="158.56" font-size="12.6" fill="#000" text-anchor="end" font-weight="normal" >80</text>
<text x="34.6" y="126.9" font-size="12.6" fill="#000" text-anchor="end" font-weight="normal" >100</text>
<text x="54.85" y="295.6" font-size="12.6" fill="#000" text-anchor="middle" font-weight="normal" >0.5</text>
<text x="95.49" y="295.6" font-size="12.6" fill="#000" text-anchor="middle" font-weight="normal" >1.0</text>
<text x="136.13" y="295.6" font-size="12.6" fill="#000" text-anchor="middle" font-weight="normal" >1.5</text>
<text x="176.76" y="295.6" font-size="12.6" fill="#000" text-anchor="middle" font-weight="normal" >2.0</text>
<text x="217.4" y="295.6" font-size="12.6" fill="#000" text-anchor="middle" font-weight="normal" >2.5</text>
<text x="133.6" y="310.2" font-size="14.1" fill="#000" text-anchor="middle" font-weight="normal" >Wavelength (μm)</text>
<text transform="translate(13.3,201.3) rotate(-90)" font-size="14.1" fill="#000" text-anchor="middle">Transmittance (%)</text>
<text x="2.6" y="127.8" font-size="17" fill="#000" text-anchor="start" font-weight="bold" >c</text>
<line x1="82.6" y1="255.1" x2="107.8" y2="255.1" stroke="#fdae4b" stroke-width="1.6" />
<line x1="82.6" y1="269.4" x2="107.8" y2="269.4" stroke="#60c4f8" stroke-width="1.5" />
<text x="111.4" y="258.6" font-size="11.8" fill="#000" text-anchor="start" font-weight="normal" >Uncoated PET film</text>
<text x="111.4" y="272.6" font-size="11.8" fill="#000" text-anchor="start" font-weight="normal" >Coated PET film</text>
<linearGradient id="kg0" x1="0.25" y1="0" x2="0.75" y2="1"><stop offset="0" stop-color="#b6a01a"/><stop offset="0.15" stop-color="#b38b16"/><stop offset="0.3" stop-color="#af7511"/><stop offset="0.45" stop-color="#a75a0d"/><stop offset="0.6" stop-color="#a0430a"/><stop offset="0.8" stop-color="#932e07"/><stop offset="1" stop-color="#8c2206"/></linearGradient>
<linearGradient id="kg1" x1="0.25" y1="0" x2="0.75" y2="1"><stop offset="0" stop-color="#b5aa20"/><stop offset="0.15" stop-color="#b59c19"/><stop offset="0.3" stop-color="#b28414"/><stop offset="0.45" stop-color="#ab690f"/><stop offset="0.6" stop-color="#a34b0b"/><stop offset="0.8" stop-color="#953008"/><stop offset="1" stop-color="#8c2206"/></linearGradient>
<linearGradient id="kg2" x1="0.25" y1="0" x2="0.75" y2="1"><stop offset="0" stop-color="#b4b024"/><stop offset="0.15" stop-color="#b6a41c"/><stop offset="0.3" stop-color="#b38d16"/><stop offset="0.45" stop-color="#ae7211"/><stop offset="0.6" stop-color="#a5510c"/><stop offset="0.8" stop-color="#963208"/><stop offset="1" stop-color="#8c2206"/></linearGradient>
<linearGradient id="kg3" x1="0.25" y1="0" x2="0.75" y2="1"><stop offset="0" stop-color="#bab532"/><stop offset="0.15" stop-color="#b5a91f"/><stop offset="0.3" stop-color="#b49618"/><stop offset="0.45" stop-color="#b07b12"/><stop offset="0.6" stop-color="#a7570d"/><stop offset="0.8" stop-color="#973408"/><stop offset="1" stop-color="#8c2206"/></linearGradient>
<linearGradient id="kg4" x1="0.25" y1="0" x2="0.75" y2="1"><stop offset="0" stop-color="#c1ba41"/><stop offset="0.15" stop-color="#b4ae22"/><stop offset="0.3" stop-color="#b69f1a"/><stop offset="0.45" stop-color="#b18114"/><stop offset="0.6" stop-color="#a85d0e"/><stop offset="0.8" stop-color="#983608"/><stop offset="1" stop-color="#8c2206"/></linearGradient>
<linearGradient id="kg5" x1="0.25" y1="0" x2="0.75" y2="1"><stop offset="0" stop-color="#c8be53"/><stop offset="0.15" stop-color="#b7b22a"/><stop offset="0.3" stop-color="#b6a31c"/><stop offset="0.45" stop-color="#b28815"/><stop offset="0.6" stop-color="#aa630e"/><stop offset="0.8" stop-color="#993708"/><stop offset="1" stop-color="#8c2206"/></linearGradient>
<linearGradient id="kg6" x1="0.25" y1="0" x2="0.75" y2="1"><stop offset="0" stop-color="#d1c16a"/><stop offset="0.15" stop-color="#bcb635"/><stop offset="0.3" stop-color="#b5a71e"/><stop offset="0.45" stop-color="#b38e16"/><stop offset="0.6" stop-color="#ab690f"/><stop offset="0.8" stop-color="#9a3909"/><stop offset="1" stop-color="#8c2206"/></linearGradient>
<linearGradient id="kg7" x1="0.25" y1="0" x2="0.75" y2="1"><stop offset="0" stop-color="#dac481"/><stop offset="0.15" stop-color="#c1b940"/><stop offset="0.3" stop-color="#b5ab21"/><stop offset="0.45" stop-color="#b49417"/><stop offset="0.6" stop-color="#ad6f10"/><stop offset="0.8" stop-color="#9b3b09"/><stop offset="1" stop-color="#8c2206"/></linearGradient>
<linearGradient id="kg8" x1="0.25" y1="0" x2="0.75" y2="1"><stop offset="0" stop-color="#e2c896"/><stop offset="0.15" stop-color="#c6bd4e"/><stop offset="0.3" stop-color="#b4af23"/><stop offset="0.45" stop-color="#b59a19"/><stop offset="0.6" stop-color="#af7511"/><stop offset="0.8" stop-color="#9c3d09"/><stop offset="1" stop-color="#8c2206"/></linearGradient>
<linearGradient id="kg9" x1="0.25" y1="0" x2="0.75" y2="1"><stop offset="0" stop-color="#eeccb6"/><stop offset="0.15" stop-color="#d0c168"/><stop offset="0.3" stop-color="#b8b32e"/><stop offset="0.45" stop-color="#b6a11b"/><stop offset="0.6" stop-color="#b07d13"/><stop offset="0.8" stop-color="#9e4009"/><stop offset="1" stop-color="#8c2206"/></linearGradient>
<linearGradient id="kg10" x1="0.25" y1="0" x2="0.75" y2="1"><stop offset="0" stop-color="#f2cec0"/><stop offset="0.15" stop-color="#dbc583"/><stop offset="0.3" stop-color="#beb73a"/><stop offset="0.45" stop-color="#b5a51d"/><stop offset="0.6" stop-color="#b18214"/><stop offset="0.8" stop-color="#a0420a"/><stop offset="1" stop-color="#8c2206"/></linearGradient>
<linearGradient id="kg11" x1="0.25" y1="0" x2="0.75" y2="1"><stop offset="0" stop-color="#beb73a"/><stop offset="0.15" stop-color="#b5ab21"/><stop offset="0.3" stop-color="#b59b19"/><stop offset="0.45" stop-color="#b17e13"/><stop offset="0.6" stop-color="#a75a0d"/><stop offset="0.8" stop-color="#973508"/><stop offset="1" stop-color="#8c2206"/></linearGradient>
<linearGradient id="kg12" x1="0.25" y1="0" x2="0.75" y2="1"><stop offset="0" stop-color="#cdbf5f"/><stop offset="0.15" stop-color="#b9b42f"/><stop offset="0.3" stop-color="#b5a51d"/><stop offset="0.45" stop-color="#b38b16"/><stop offset="0.6" stop-color="#ab660f"/><stop offset="0.8" stop-color="#9a3808"/><stop offset="1" stop-color="#8c2206"/></linearGradient>
<linearGradient id="kg13" x1="0.25" y1="0" x2="0.75" y2="1"><stop offset="0" stop-color="#b7b22b"/><stop offset="0.15" stop-color="#b5a61e"/><stop offset="0.3" stop-color="#b49217"/><stop offset="0.45" stop-color="#af7712"/><stop offset="0.6" stop-color="#a6540c"/><stop offset="0.8" stop-color="#963308"/><stop offset="1" stop-color="#8c2206"/></linearGradient>
<linearGradient id="tg" x1="0" y1="0" x2="0" y2="1"><stop offset="0" stop-color="#9a4c0c"/><stop offset="1" stop-color="#5e1c02"/></linearGradient>
<defs><path id="k0" d="M-4.02,2 C-4.02,-2.93 -1.07,-5.46 0.19,-6.5 C1.34,-5.46 4.02,-2.93 4.02,2Z" fill="url(#kg0)"/><path id="k1" d="M-5.08,2 C-5.08,-3.6 -1.6,-6.72 -0.11,-8 C1.45,-6.72 5.08,-3.6 5.08,2Z" fill="url(#kg1)"/><path id="k2" d="M-4.14,2 C-4.14,-4.05 -1.05,-7.56 0.28,-9 C1.44,-7.56 4.14,-4.05 4.14,2Z" fill="url(#kg2)"/><path id="k3" d="M-3.42,2 C-3.42,-4.5 -1,-8.4 0.04,-10 C1.05,-8.4 3.42,-4.5 3.42,2Z" fill="url(#kg3)"/><path id="k4" d="M-4.42,2 C-4.42,-4.95 -0.67,-9.24 0.94,-11 C1.98,-9.24 4.42,-4.95 4.42,2Z" fill="url(#kg4)"/><path id="k5" d="M-3.21,2 C-3.21,-5.4 -1.4,-10.08 -0.63,-12 C0.52,-10.08 3.21,-5.4 3.21,2Z" fill="url(#kg5)"/><path id="k6" d="M-3.2,2 C-3.2,-5.85 -0.27,-10.92 0.99,-13 C1.65,-10.92 3.2,-5.85 3.2,2Z" fill="url(#kg6)"/><path id="k7" d="M-4.56,2 C-4.56,-6.3 -2.39,-11.76 -1.47,-14 C0.34,-11.76 4.56,-6.3 4.56,2Z" fill="url(#kg7)"/><path id="k8" d="M-5.21,2 C-5.21,-6.75 -0.52,-12.6 1.49,-15 C2.6,-12.6 5.21,-6.75 5.21,2Z" fill="url(#kg8)"/><path id="k9" d="M-4.47,2 C-4.47,-7.42 -1.08,-13.86 0.37,-16.5 C1.6,-13.86 4.47,-7.42 4.47,2Z" fill="url(#kg9)"/><path id="k10" d="M-3.35,2 C-3.35,-8.1 -2.09,-15.12 -1.55,-18 C-0.08,-15.12 3.35,-8.1 3.35,2Z" fill="url(#kg10)"/><path id="k11" d="M-4.19,2 C-4.19,-4.73 -2.24,-8.82 -1.41,-10.5 C0.27,-8.82 4.19,-4.73 4.19,2Z" fill="url(#kg11)"/><path id="k12" d="M-3.43,2 C-3.43,-5.62 -1.61,-10.5 -0.83,-12.5 C0.45,-10.5 3.43,-5.62 3.43,2Z" fill="url(#kg12)"/><path id="k13" d="M-3.07,2 C-3.07,-4.28 -1,-7.98 -0.12,-9.5 C0.84,-7.98 3.07,-4.28 3.07,2Z" fill="url(#kg13)"/></defs>
<polygon points="238.6,219.2 328.2,143.4 436,208.2 346.4,284" fill="#9a3208" />
<path d="M237.49,217.88L239.23,222.99L241.99,217.88ZM241.79,220.11L243.46,226.08L245.1,220.11ZM243.68,221.26L244.86,227.49L247.02,221.26ZM247.78,223.76L249.17,231.56L251.23,223.76ZM251.01,225.97L253.07,234.26L255.37,225.97ZM254.79,228.41L256.99,233.09L259.7,228.41ZM256.4,229.05L258.69,234.02L260.21,229.05ZM259.33,231.01L261.42,237.83L263.81,231.01ZM264.01,233.47L265.32,238.22L267.33,233.47ZM267.26,235.58L269.28,241.79L271.09,235.58ZM269.38,237.14L272.01,242.84L274.17,237.14ZM272.29,238.73L274.86,245.53L276.54,238.73ZM276.23,241.37L278.36,247.03L281.39,241.37ZM279.44,242.8L281.18,250.33L282.95,242.8ZM281.04,244.13L283.49,251.31L285.77,244.13ZM286.4,247.31L288.81,253.07L290.99,247.31ZM288.68,248.77L291.65,255.09L293.56,248.77ZM292.36,250.51L294.26,257.67L295.68,250.51ZM295.21,252.68L297.37,261.16L300.05,252.68ZM298.51,254.19L300.09,261.37L301.76,254.19ZM301.1,255.76L303.08,260.73L304.41,255.76ZM303.84,257.61L306.27,263.1L307.82,257.61ZM306.72,259.44L309.33,265.74L311.02,259.44ZM312.04,262.48L313.82,270.43L315.8,262.48ZM313.36,263.68L315.5,271.72L318.48,263.68ZM316.8,265.31L318.61,270.73L320.46,265.31ZM321.24,267.84L322.75,273.39L324.45,267.84ZM322.91,269.41L325.69,276.18L328.01,269.41ZM326.72,271.54L328.47,278.51L331.28,271.54ZM330.67,274.03L333.5,281.65L335.62,274.03ZM333.33,275.17L335.19,281.26L336.73,275.17ZM335.55,276.57L336.96,281.34L339.17,276.57ZM339.64,278.9L340.82,283.61L342.84,278.9ZM342.18,280.44L344.25,286.39L345.43,280.44ZM346.2,280.6L347.87,285.69L349.91,280.6ZM347.85,278.7L350.89,283.7L352.74,278.7ZM351.64,276.14L352.85,282.58L355.01,276.14ZM353.42,274.01L355.44,279.57L358.28,274.01ZM355.8,272.24L357.51,280.55L360.06,272.24ZM359.77,268.89L362.47,273.5L364.02,268.89ZM363.55,265.91L365.25,273.2L367.27,265.91ZM364.52,264.87L366.99,272.45L368.79,264.87ZM367.41,262.19L370.4,267.58L372.23,262.19ZM371.37,258.83L374.08,266.55L376.21,258.83ZM373.23,257.65L374.62,264.22L377.14,257.65ZM375.68,255.65L377.77,261.27L379.4,255.65ZM379.89,251.53L383.01,257.81L384.96,251.53ZM383.4,249.16L384.89,255.12L387.04,249.16ZM384.1,248.23L386.8,253.55L388.54,248.23ZM388.31,244.64L390.92,251.06L392.82,244.64ZM389.16,243.7L392.01,250.84L394.18,243.7ZM394.18,240.07L396.31,246.48L397.74,240.07ZM395.25,238.5L397.7,246.2L400.4,238.5ZM398.45,236L400.38,244.28L403.1,236ZM400.46,234.15L403.33,239.25L405.47,234.15ZM403.23,231.74L406,239.55L408.39,231.74ZM407.33,228.99L408.48,235.68L410.8,228.99ZM411.13,225.44L413.78,232.54L415.38,225.44ZM412.43,224.09L414.5,232.08L417.28,224.09ZM415.4,222.07L417.35,227.74L419.08,222.07ZM418.33,219.68L420.55,225.86L421.79,219.68ZM420.89,217.14L423.56,223.47L425.26,217.14ZM423.92,214.64L426.06,222.81L428.12,214.64ZM427.01,212.08L428.67,216.65L431.09,212.08ZM428.92,210.69L430.66,218.39L432.46,210.69ZM433.18,206.96L435.13,213.68L437.03,206.96Z" fill="url(#tg)"/>
<use href="#k3" x="328.7" y="148.4"/><use href="#k2" x="320" y="150.1"/><use href="#k5" x="331.1" y="151.7"/><use href="#k6" x="335.9" y="152.3"/><use href="#k7" x="315.6" y="153.4"/><use href="#k2" x="339.8" y="154"/><use href="#k4" x="316.7" y="154.3"/><use href="#k2" x="325.7" y="154.8"/><use href="#k7" x="335.2" y="155.3"/><use href="#k4" x="325.6" y="155.5"/><use href="#k3" x="353.1" y="157.9"/><use href="#k4" x="341.6" y="158"/><use href="#k2" x="335.3" y="158.5"/><use href="#k5" x="354.6" y="158.6"/><use href="#k5" x="314.6" y="159.2"/><use href="#k6" x="339.6" y="160.2"/><use href="#k5" x="316.1" y="160.6"/><use href="#k3" x="347.4" y="160.6"/><use href="#k8" x="319.1" y="161.2"/><use href="#k6" x="327.6" y="161.5"/><use href="#k9" x="328.8" y="161.8"/><use href="#k9" x="341" y="162.5"/><use href="#k11" x="329.2" y="162.7"/><use href="#k7" x="340.9" y="163.5"/><use href="#k2" x="361.7" y="163.6"/><use href="#k6" x="304.2" y="163.8"/><use href="#k6" x="303" y="164.3"/><use href="#k7" x="310.2" y="164.8"/><use href="#k7" x="363.8" y="165"/><use href="#k1" x="347" y="165.5"/><use href="#k3" x="316.1" y="165.8"/><use href="#k4" x="331.2" y="166"/><use href="#k6" x="332.9" y="166.9"/><use href="#k6" x="319" y="166.9"/><use href="#k7" x="323.5" y="167.4"/><use href="#k2" x="342.7" y="168.6"/><use href="#k3" x="355.7" y="168.8"/><use href="#k6" x="350.5" y="168.9"/><use href="#k1" x="334.6" y="170"/><use href="#k5" x="311.3" y="170.5"/><use href="#k8" x="367.3" y="170.6"/><use href="#k7" x="374.7" y="171"/><use href="#k0" x="321.5" y="171.1"/><use href="#k4" x="345.8" y="171.4"/><use href="#k5" x="338.5" y="171.4"/><use href="#k6" x="296.3" y="171.5"/><use href="#k10" x="345.9" y="171.7"/><use href="#k7" x="311.3" y="172.1"/><use href="#k4" x="332.8" y="172.2"/><use href="#k2" x="351.6" y="172.5"/><use href="#k2" x="366" y="173.2"/><use href="#k4" x="379.1" y="173.4"/><use href="#k8" x="350" y="173.7"/><use href="#k4" x="292" y="173.7"/><use href="#k1" x="318.8" y="174.4"/><use href="#k5" x="328.6" y="174.4"/><use href="#k4" x="328.5" y="174.9"/><use href="#k1" x="313.5" y="175.3"/><use href="#k6" x="358.6" y="175.3"/><use href="#k2" x="303.5" y="175.5"/><use href="#k7" x="371.5" y="175.8"/><use href="#k5" x="382.1" y="176.3"/><use href="#k5" x="305.1" y="176.6"/><use href="#k2" x="363.3" y="176.9"/><use href="#k10" x="292.5" y="177.8"/><use href="#k5" x="318.7" y="177.9"/><use href="#k12" x="309.7" y="178.2"/><use href="#k8" x="337" y="178.5"/><use href="#k0" x="358.8" y="178.7"/><use href="#k5" x="338.5" y="178.9"/><use href="#k5" x="349.2" y="179"/><use href="#k4" x="347.7" y="179.4"/><use href="#k0" x="325.1" y="179.4"/><use href="#k4" x="370.7" y="179.8"/><use href="#k4" x="357.7" y="180.1"/><use href="#k8" x="293.3" y="180.6"/><use href="#k2" x="379.9" y="180.8"/><use href="#k4" x="342.2" y="181.1"/><use href="#k8" x="308.7" y="181.4"/><use href="#k6" x="287.6" y="181.4"/><use href="#k5" x="314.8" y="181.4"/><use href="#k4" x="297.2" y="182.1"/><use href="#k4" x="304.2" y="182.2"/><use href="#k3" x="333" y="182.3"/><use href="#k4" x="388.4" y="182.4"/><use href="#k0" x="288.9" y="182.5"/><use href="#k5" x="367.8" y="183"/><use href="#k3" x="382.7" y="183.1"/><use href="#k6" x="354.9" y="183.2"/><use href="#k2" x="375.9" y="183.8"/><use href="#k1" x="318.5" y="184.2"/><use href="#k3" x="293.2" y="184.3"/><use href="#k5" x="305.8" y="184.4"/><use href="#k1" x="376.7" y="184.5"/><use href="#k6" x="348.8" y="184.6"/><use href="#k6" x="338.8" y="185.1"/><use href="#k2" x="282.7" y="185.2"/><use href="#k7" x="347.6" y="185.5"/><use href="#k5" x="328.7" y="185.6"/><use href="#k4" x="330.8" y="185.8"/><use href="#k1" x="310.2" y="186"/><use href="#k2" x="338.3" y="186"/><use href="#k3" x="313.4" y="186"/><use href="#k6" x="330.4" y="186"/><use href="#k2" x="345.3" y="186"/><use href="#k3" x="378.3" y="186.1"/><use href="#k1" x="287.7" y="186.8"/><use href="#k5" x="387.2" y="186.9"/><use href="#k5" x="314.1" y="187"/><use href="#k0" x="391.2" y="187.1"/><use href="#k5" x="367.9" y="187.2"/><use href="#k3" x="381.9" y="187.3"/><use href="#k6" x="397.5" y="187.9"/><use href="#k3" x="284.3" y="187.9"/><use href="#k10" x="362.8" y="188.1"/><use href="#k7" x="355.7" y="189.4"/><use href="#k3" x="295.6" y="189.9"/><use href="#k5" x="280.4" y="190.3"/><use href="#k2" x="281.8" y="190.4"/><use href="#k4" x="309.4" y="190.5"/><use href="#k6" x="367.5" y="190.6"/><use href="#k7" x="280.9" y="190.7"/><use href="#k6" x="358.9" y="190.8"/><use href="#k0" x="302.2" y="190.8"/><use href="#k8" x="343.3" y="191.1"/><use href="#k3" x="301.9" y="191.6"/><use href="#k6" x="393.6" y="191.6"/><use href="#k1" x="319.1" y="191.8"/><use href="#k5" x="381.5" y="192.1"/><use href="#k4" x="400.8" y="192.1"/><use href="#k4" x="347.4" y="192.1"/><use href="#k5" x="270.4" y="192.4"/><use href="#k9" x="380.6" y="192.5"/><use href="#k7" x="391.1" y="192.5"/><use href="#k6" x="361.5" y="192.6"/><use href="#k5" x="401.4" y="192.6"/><use href="#k7" x="290.8" y="192.8"/><use href="#k7" x="326.5" y="192.9"/><use href="#k2" x="404.1" y="192.9"/><use href="#k6" x="358.5" y="193.1"/><use href="#k4" x="284.8" y="193.2"/><use href="#k5" x="364.4" y="193.5"/><use href="#k2" x="341.2" y="193.6"/><use href="#k9" x="310.4" y="193.6"/><use href="#k1" x="334.2" y="193.6"/><use href="#k2" x="383.5" y="193.7"/><use href="#k8" x="371" y="193.9"/><use href="#k3" x="394.6" y="194.8"/><use href="#k3" x="315.1" y="194.8"/><use href="#k10" x="294.1" y="194.8"/><use href="#k7" x="386.4" y="194.9"/><use href="#k6" x="333.5" y="195.5"/><use href="#k4" x="335.3" y="195.7"/><use href="#k3" x="316.7" y="196"/><use href="#k8" x="302.3" y="196.2"/><use href="#k4" x="329.8" y="196.2"/><use href="#k2" x="404.5" y="196.3"/><use href="#k4" x="319.9" y="196.4"/><use href="#k3" x="288.7" y="196.4"/><use href="#k4" x="404.9" y="196.6"/><use href="#k4" x="354.5" y="196.6"/><use href="#k4" x="274.1" y="196.7"/><use href="#k5" x="316.1" y="196.9"/><use href="#k0" x="408.1" y="196.9"/><use href="#k5" x="361.7" y="197.2"/><use href="#k2" x="271" y="197.5"/><use href="#k4" x="351.6" y="197.8"/><use href="#k7" x="263.2" y="197.8"/><use href="#k4" x="360.4" y="198.3"/><use href="#k1" x="284.5" y="198.7"/><use href="#k1" x="307" y="198.9"/><use href="#k3" x="287.4" y="198.9"/><use href="#k6" x="321.2" y="199"/><use href="#k3" x="371.2" y="199.4"/><use href="#k5" x="417.2" y="199.4"/><use href="#k3" x="327.4" y="199.9"/><use href="#k4" x="308.7" y="200"/><use href="#k11" x="389.7" y="200"/><use href="#k1" x="379.3" y="200"/><use href="#k2" x="365.6" y="200.1"/><use href="#k1" x="349.8" y="200.2"/><use href="#k5" x="386.6" y="200.6"/><use href="#k5" x="336.7" y="200.6"/><use href="#k7" x="370.7" y="200.7"/><use href="#k5" x="376.2" y="200.7"/><use href="#k8" x="384.9" y="200.8"/><use href="#k1" x="327.1" y="201"/><use href="#k10" x="297.8" y="201.2"/><use href="#k2" x="410.2" y="201.3"/><use href="#k1" x="266.3" y="201.4"/><use href="#k7" x="423.6" y="201.6"/><use href="#k6" x="345.6" y="201.6"/><use href="#k11" x="396.8" y="202"/><use href="#k3" x="304.3" y="202"/><use href="#k1" x="394.1" y="202.3"/><use href="#k3" x="359.3" y="202.5"/><use href="#k5" x="305.3" y="202.6"/><use href="#k5" x="287.8" y="202.8"/><use href="#k7" x="404.8" y="202.9"/><use href="#k5" x="319" y="203"/><use href="#k3" x="314.3" y="203"/><use href="#k4" x="396.7" y="203.4"/><use href="#k3" x="416.8" y="203.4"/><use href="#k1" x="301.4" y="203.4"/><use href="#k5" x="376" y="203.5"/><use href="#k5" x="262.4" y="203.9"/><use href="#k6" x="361.2" y="204"/><use href="#k4" x="352.1" y="204.1"/><use href="#k3" x="387.8" y="204.3"/><use href="#k4" x="381.1" y="204.3"/><use href="#k3" x="380.7" y="204.5"/><use href="#k2" x="308.4" y="204.5"/><use href="#k6" x="263.1" y="204.5"/><use href="#k7" x="330.6" y="204.8"/><use href="#k4" x="341.7" y="205.1"/><use href="#k5" x="417.7" y="205.1"/><use href="#k4" x="284.8" y="205.1"/><use href="#k3" x="351.8" y="205.3"/><use href="#k5" x="332.9" y="205.3"/><use href="#k6" x="276.3" y="205.4"/><use href="#k6" x="430.9" y="205.4"/><use href="#k5" x="417.4" y="205.6"/><use href="#k5" x="363.6" y="206"/><use href="#k3" x="276.5" y="206.2"/><use href="#k4" x="403.6" y="206.2"/><use href="#k3" x="288.8" y="206.2"/><use href="#k2" x="334.4" y="206.4"/><use href="#k5" x="271.7" y="207"/><use href="#k7" x="343.4" y="207.3"/><use href="#k2" x="319.8" y="207.6"/><use href="#k1" x="265.4" y="207.7"/><use href="#k3" x="395.5" y="207.7"/><use href="#k3" x="372.5" y="207.9"/><use href="#k4" x="316.5" y="208.1"/><use href="#k5" x="254.9" y="208.1"/><use href="#k5" x="422.1" y="208.1"/><use href="#k5" x="294.8" y="208.2"/><use href="#k4" x="291" y="208.3"/><use href="#k6" x="350" y="208.8"/><use href="#k5" x="275.7" y="208.9"/><use href="#k6" x="390.1" y="208.9"/><use href="#k6" x="433" y="208.9"/><use href="#k6" x="359.7" y="209.1"/><use href="#k6" x="408.6" y="209.3"/><use href="#k7" x="263.2" y="209.4"/><use href="#k1" x="419" y="209.6"/><use href="#k3" x="263.7" y="209.7"/><use href="#k6" x="326.8" y="209.8"/><use href="#k5" x="301.1" y="209.8"/><use href="#k2" x="321.4" y="210.2"/><use href="#k2" x="389.6" y="210.5"/><use href="#k11" x="333.7" y="210.5"/><use href="#k5" x="364.5" y="210.6"/><use href="#k5" x="286.1" y="210.9"/><use href="#k5" x="340" y="210.9"/><use href="#k4" x="303.8" y="210.9"/><use href="#k6" x="321.9" y="211"/><use href="#k10" x="293.6" y="211.3"/><use href="#k3" x="380.5" y="211.3"/><use href="#k4" x="284.8" y="211.4"/><use href="#k5" x="285" y="211.5"/><use href="#k6" x="431.4" y="211.9"/><use href="#k3" x="277.3" y="212"/><use href="#k2" x="303.8" y="212.2"/><use href="#k1" x="393.4" y="212.3"/><use href="#k7" x="354.5" y="212.3"/><use href="#k3" x="330.8" y="212.3"/><use href="#k3" x="365.7" y="212.4"/><use href="#k6" x="335.3" y="212.5"/><use href="#k1" x="377.7" y="212.6"/><use href="#k6" x="368.8" y="213"/><use href="#k6" x="269.1" y="213"/><use href="#k8" x="306.9" y="213.1"/><use href="#k6" x="421.7" y="213.2"/><use href="#k1" x="311.7" y="213.4"/><use href="#k7" x="375.5" y="213.5"/><use href="#k7" x="253.1" y="213.7"/><use href="#k3" x="400.9" y="213.8"/><use href="#k5" x="292.5" y="214.3"/><use href="#k6" x="384.8" y="214.3"/><use href="#k4" x="405.8" y="214.5"/><use href="#k7" x="354.2" y="214.8"/><use href="#k4" x="328.6" y="215.1"/><use href="#k5" x="338.6" y="215.2"/><use href="#k3" x="360.5" y="215.4"/><use href="#k0" x="264" y="215.4"/><use href="#k12" x="399.6" y="215.7"/><use href="#k4" x="410.1" y="215.8"/><use href="#k4" x="256.8" y="216"/><use href="#k6" x="364.7" y="216.1"/><use href="#k5" x="248.6" y="216.3"/><use href="#k1" x="421.4" y="216.3"/><use href="#k6" x="301" y="216.4"/><use href="#k3" x="412.2" y="216.6"/><use href="#k3" x="376.6" y="216.7"/><use href="#k1" x="249.2" y="216.9"/><use href="#k3" x="344.1" y="216.9"/><use href="#k0" x="263.8" y="217.1"/><use href="#k7" x="307.8" y="217.1"/><use href="#k4" x="275.8" y="217.2"/><use href="#k4" x="413.1" y="217.5"/><use href="#k2" x="261.8" y="217.5"/><use href="#k3" x="244.7" y="217.6"/><use href="#k5" x="296.9" y="217.9"/><use href="#k4" x="293.4" y="218"/><use href="#k5" x="395" y="218"/><use href="#k5" x="379.9" y="218.2"/><use href="#k9" x="364.7" y="218.2"/><use href="#k9" x="404.6" y="218.3"/><use href="#k2" x="321.3" y="218.6"/><use href="#k5" x="393.6" y="218.7"/><use href="#k2" x="280.3" y="218.8"/><use href="#k8" x="348.9" y="219"/><use href="#k4" x="328.3" y="219.2"/><use href="#k4" x="373.2" y="219.2"/><use href="#k2" x="401" y="219.3"/><use href="#k3" x="269.5" y="219.3"/><use href="#k7" x="349.8" y="219.6"/><use href="#k5" x="289.2" y="219.8"/><use href="#k2" x="394.2" y="219.9"/><use href="#k4" x="324.8" y="219.9"/><use href="#k5" x="301.1" y="220"/><use href="#k5" x="331.4" y="220.8"/><use href="#k3" x="405.3" y="221"/><use href="#k4" x="262.3" y="221"/><use href="#k8" x="254.8" y="221.1"/><use href="#k5" x="312.2" y="221.2"/><use href="#k4" x="300.9" y="221.3"/><use href="#k6" x="304.1" y="221.7"/><use href="#k4" x="330.7" y="222"/><use href="#k1" x="398.6" y="222.1"/><use href="#k3" x="364.9" y="222.2"/><use href="#k6" x="359.5" y="222.4"/><use href="#k3" x="414.2" y="222.6"/><use href="#k4" x="396" y="222.6"/><use href="#k8" x="360.1" y="222.6"/><use href="#k4" x="336.8" y="222.8"/><use href="#k8" x="243.4" y="223.1"/><use href="#k5" x="419.8" y="223.2"/><use href="#k13" x="381.8" y="223.3"/><use href="#k1" x="318.7" y="223.3"/><use href="#k5" x="285" y="223.4"/><use href="#k9" x="360.3" y="223.4"/><use href="#k8" x="255.9" y="223.5"/><use href="#k6" x="247.5" y="223.5"/><use href="#k6" x="308.4" y="223.7"/><use href="#k3" x="306.8" y="223.8"/><use href="#k5" x="303.6" y="223.8"/><use href="#k4" x="345.2" y="223.8"/><use href="#k6" x="275.4" y="223.8"/><use href="#k8" x="404.3" y="224.1"/><use href="#k2" x="343.8" y="224.2"/><use href="#k7" x="270.4" y="224.3"/><use href="#k7" x="350.4" y="224.3"/><use href="#k8" x="312.4" y="224.4"/><use href="#k7" x="287.1" y="224.5"/><use href="#k9" x="325" y="225.2"/><use href="#k6" x="368.6" y="225.2"/><use href="#k8" x="295.5" y="225.3"/><use href="#k8" x="380.4" y="225.4"/><use href="#k6" x="365.4" y="225.4"/><use href="#k5" x="397.9" y="225.5"/><use href="#k8" x="379.4" y="225.5"/><use href="#k4" x="348.6" y="225.7"/><use href="#k3" x="385.3" y="225.9"/><use href="#k3" x="282.8" y="226.1"/><use href="#k6" x="414.9" y="226.2"/><use href="#k5" x="281.5" y="226.2"/><use href="#k3" x="317.8" y="226.3"/><use href="#k2" x="375.8" y="226.6"/><use href="#k2" x="266" y="226.8"/><use href="#k2" x="354.6" y="226.9"/><use href="#k2" x="331.2" y="227.4"/><use href="#k5" x="384.1" y="227.6"/><use href="#k6" x="348.5" y="227.9"/><use href="#k7" x="288.6" y="228"/><use href="#k3" x="272.9" y="228.1"/><use href="#k12" x="264.5" y="228.2"/><use href="#k5" x="304.2" y="228.4"/><use href="#k6" x="334.4" y="228.4"/><use href="#k5" x="342.7" y="228.7"/><use href="#k2" x="266" y="228.8"/><use href="#k4" x="376.6" y="229"/><use href="#k4" x="263.2" y="229.1"/><use href="#k4" x="359.4" y="229.2"/><use href="#k5" x="407.9" y="229.2"/><use href="#k3" x="257.2" y="229.4"/><use href="#k4" x="327.1" y="229.5"/><use href="#k9" x="270.3" y="229.5"/><use href="#k4" x="300.3" y="229.8"/><use href="#k2" x="352.7" y="230.2"/><use href="#k5" x="384.2" y="230.6"/><use href="#k6" x="373.4" y="231.1"/><use href="#k1" x="367.3" y="231.2"/><use href="#k6" x="290.8" y="231.4"/><use href="#k5" x="401.9" y="231.9"/><use href="#k3" x="393.6" y="232.1"/><use href="#k8" x="403.1" y="232.1"/><use href="#k7" x="350.6" y="232.4"/><use href="#k1" x="311.2" y="232.5"/><use href="#k1" x="340.4" y="232.6"/><use href="#k5" x="360.1" y="232.8"/><use href="#k6" x="282.5" y="233"/><use href="#k3" x="306.7" y="233.1"/><use href="#k6" x="325.5" y="233.2"/><use href="#k4" x="299" y="233.7"/><use href="#k6" x="310.9" y="233.8"/><use href="#k5" x="267.9" y="233.8"/><use href="#k4" x="325.6" y="234.2"/><use href="#k6" x="272.6" y="234.3"/><use href="#k3" x="332.5" y="234.6"/><use href="#k5" x="279.6" y="234.6"/><use href="#k1" x="369.1" y="234.6"/><use href="#k6" x="390.2" y="234.6"/><use href="#k9" x="384.2" y="234.7"/><use href="#k2" x="314.8" y="234.7"/><use href="#k3" x="318.7" y="234.8"/><use href="#k6" x="337" y="235.1"/><use href="#k7" x="304.8" y="235.3"/><use href="#k5" x="360" y="235.4"/><use href="#k5" x="293.5" y="235.5"/><use href="#k4" x="284.8" y="235.7"/><use href="#k6" x="364.3" y="236.3"/><use href="#k1" x="396.1" y="236.3"/><use href="#k5" x="289.7" y="236.4"/><use href="#k5" x="335.4" y="237.3"/><use href="#k5" x="395.3" y="237.4"/><use href="#k8" x="336.5" y="237.5"/><use href="#k3" x="320.1" y="237.7"/><use href="#k8" x="377" y="237.8"/><use href="#k4" x="376.9" y="238.3"/><use href="#k7" x="350.8" y="238.7"/><use href="#k1" x="384.1" y="238.9"/><use href="#k4" x="311.5" y="239"/><use href="#k2" x="381.7" y="239.1"/><use href="#k0" x="282.6" y="239.1"/><use href="#k7" x="340.9" y="239.1"/><use href="#k4" x="351.5" y="239.2"/><use href="#k7" x="392.7" y="239.3"/><use href="#k7" x="296.8" y="239.3"/><use href="#k6" x="287.4" y="239.4"/><use href="#k5" x="368.3" y="239.4"/><use href="#k6" x="369.4" y="239.8"/><use href="#k6" x="277.2" y="240"/><use href="#k4" x="356.9" y="240.1"/><use href="#k4" x="360.6" y="240.3"/><use href="#k1" x="328.4" y="240.6"/><use href="#k6" x="301.9" y="240.6"/><use href="#k3" x="321" y="241.8"/><use href="#k5" x="295.8" y="242.5"/><use href="#k4" x="375.4" y="242.6"/><use href="#k5" x="390.2" y="242.6"/><use href="#k5" x="306.3" y="242.6"/><use href="#k5" x="278.7" y="242.7"/><use href="#k8" x="284.9" y="242.8"/><use href="#k5" x="346.4" y="242.9"/><use href="#k10" x="332.4" y="243.3"/><use href="#k7" x="313.5" y="243.4"/><use href="#k3" x="342.4" y="244"/><use href="#k3" x="318.6" y="244.1"/><use href="#k0" x="386.1" y="244.5"/><use href="#k8" x="353.7" y="244.6"/><use href="#k4" x="305.4" y="244.8"/><use href="#k4" x="293.3" y="245.2"/><use href="#k8" x="295" y="245.2"/><use href="#k5" x="289.5" y="245.3"/><use href="#k3" x="373.4" y="245.4"/><use href="#k7" x="359.7" y="245.4"/><use href="#k5" x="327.9" y="245.6"/><use href="#k8" x="339.9" y="246.1"/><use href="#k11" x="369" y="246.5"/><use href="#k8" x="357.5" y="246.5"/><use href="#k2" x="379.4" y="246.5"/><use href="#k5" x="314.1" y="246.9"/><use href="#k5" x="302.9" y="246.9"/><use href="#k1" x="384.1" y="247"/><use href="#k2" x="337" y="247.8"/><use href="#k5" x="315.5" y="248.1"/><use href="#k2" x="380.6" y="248.7"/><use href="#k2" x="329.4" y="248.7"/><use href="#k5" x="314.1" y="248.8"/><use href="#k6" x="370" y="248.9"/><use href="#k2" x="359" y="249"/><use href="#k6" x="351.4" y="249.3"/><use href="#k7" x="354.6" y="249.6"/><use href="#k8" x="289.6" y="250"/><use href="#k3" x="348.5" y="250.1"/><use href="#k4" x="321.4" y="250.5"/><use href="#k7" x="304.8" y="250.6"/><use href="#k9" x="315.9" y="250.7"/><use href="#k5" x="311" y="250.8"/><use href="#k6" x="341.6" y="251.2"/><use href="#k6" x="319.3" y="251.3"/><use href="#k3" x="350.5" y="251.3"/><use href="#k10" x="302.8" y="251.3"/><use href="#k1" x="373" y="251.7"/><use href="#k4" x="367.7" y="252.5"/><use href="#k4" x="332.5" y="252.9"/><use href="#k6" x="326.9" y="254.4"/><use href="#k5" x="366" y="254.4"/><use href="#k4" x="330.4" y="255.1"/><use href="#k7" x="376.2" y="255.1"/><use href="#k2" x="299.9" y="255.3"/><use href="#k3" x="356.9" y="255.7"/><use href="#k2" x="330.3" y="255.8"/><use href="#k10" x="371.1" y="256.2"/><use href="#k4" x="311.5" y="257"/><use href="#k6" x="332.7" y="257.3"/><use href="#k3" x="356.8" y="257.3"/><use href="#k4" x="318.5" y="257.5"/><use href="#k8" x="340.9" y="257.7"/><use href="#k4" x="342.5" y="257.7"/><use href="#k7" x="359.6" y="258.4"/><use href="#k4" x="317" y="258.5"/><use href="#k4" x="366.1" y="258.9"/><use href="#k6" x="328.1" y="259.2"/><use href="#k6" x="374.2" y="259.3"/><use href="#k1" x="373.3" y="259.8"/><use href="#k3" x="310" y="259.9"/><use href="#k2" x="353.9" y="260.1"/><use href="#k6" x="363.1" y="260.9"/><use href="#k9" x="336.5" y="261"/><use href="#k7" x="315.8" y="261.9"/><use href="#k2" x="347.1" y="262"/><use href="#k1" x="362" y="263.4"/><use href="#k2" x="329.5" y="263.5"/><use href="#k2" x="322" y="264"/><use href="#k7" x="348.8" y="264.3"/><use href="#k3" x="326.1" y="264.7"/><use href="#k7" x="354.1" y="265.1"/><use href="#k9" x="338.1" y="265.9"/><use href="#k5" x="354.3" y="266"/><use href="#k6" x="365.4" y="266.4"/><use href="#k4" x="356.2" y="267.4"/><use href="#k6" x="329.5" y="268"/><use href="#k6" x="336.2" y="268.4"/><use href="#k7" x="339.6" y="268.7"/><use href="#k3" x="341" y="269"/><use href="#k5" x="323.7" y="270.1"/><use href="#k5" x="332.4" y="271.4"/><use href="#k11" x="354.6" y="272.2"/><use href="#k8" x="355.2" y="272.2"/><use href="#k9" x="347.1" y="273.7"/><use href="#k5" x="338" y="274.1"/><use href="#k3" x="329.5" y="274.3"/><use href="#k1" x="345" y="274.4"/><use href="#k3" x="337.9" y="275.3"/><use href="#k8" x="353" y="276"/><use href="#k4" x="348.4" y="279"/><use href="#k4" x="342.1" y="279.8"/>
<path d="M237.81,227.89 L346.9,294.6 L436.9,215.05" fill="none" stroke="#000" stroke-width="1.55" stroke-linejoin="miter"/>
<polygon points="234.4,225.8 242.93,226.8 239.18,232.94" fill="#000" />
<polygon points="439.9,212.4 436.44,220.26 431.67,214.87" fill="#000" />
<linearGradient id="cbar" x1="0" y1="0" x2="0" y2="1"><stop offset="0" stop-color="#ecb8ac"/><stop offset="0.2" stop-color="#d6ac74"/><stop offset="0.4" stop-color="#c2a836"/><stop offset="0.56" stop-color="#a88c1c"/><stop offset="0.72" stop-color="#86580e"/><stop offset="0.88" stop-color="#622a06"/><stop offset="1" stop-color="#3a1002"/></linearGradient>
<rect x="239.4" y="143.8" width="8.8" height="32.4" fill="url(#cbar)" stroke="#4a2c22" stroke-width="0.9"/>
<text x="250.6" y="147.6" font-size="12.1" fill="#000" text-anchor="start" font-weight="normal" >350 nm</text>
<text x="250.6" y="181.6" font-size="12.1" fill="#000" text-anchor="start" font-weight="normal" >0 nm</text>
<text x="400.8" y="154.6" font-size="13.4" fill="#000" text-anchor="middle" font-weight="normal" >Ra=39.7 nm</text>
<text x="286.4" y="274.2" font-size="12.3" fill="#000" text-anchor="middle" font-weight="normal" >3 μm</text>
<text x="410.6" y="263.2" font-size="12.3" fill="#000" text-anchor="middle" font-weight="normal" >3 μm</text>
<text x="235" y="127.6" font-size="17" fill="#000" text-anchor="start" font-weight="bold" >d</text>
<clipPath id="clipE0"><rect x="491.5" y="121.6" width="186.1" height="160.9"/></clipPath>
<pattern id="stripes" width="2.3" height="20" patternUnits="userSpaceOnUse"><rect x="0" y="0" width="0.7" height="20" fill="#fff" opacity="0.38"/><rect x="1.3" y="0" width="0.4" height="20" fill="#fff" opacity="0.2"/></pattern>
<g filter="url(#blur06)" clip-path="url(#clipE0)">
<polygon points="491.5,282.5 491.5,200 492.3,175 493.3,162 495,159.5 497.4,157.5 502,155.2 507.3,153.9 512,154.6 515.2,156.5 518,161 520,168.5 522,181 523.6,197 525,216 526.3,240 527.2,264 528.2,282.5" fill="#c4edfc" />
<polygon points="534.6,282.5 536,262 537.2,240 538.4,212 539.8,190 541.6,176.5 544.4,171.5 547,172.2 549.2,176 550.9,191 553.2,212 555.4,240 557.8,262 560.4,282.5" fill="#c4edfc" />
<polygon points="591.2,282.5 593.5,256 595.8,229 598.2,208 600.2,193 601.5,178 602.6,168 604.6,160.8 608,158.6 613.5,157.6 617.5,158.6 619.5,161.5 621.5,162.5 623.5,159 626.9,154.9 633,153.8 640.2,153.3 646,154.6 650.6,157.8 653,162.5 655,170 656.6,184 658,199.5 659.5,218 661,238 662.3,260 663.4,282.5" fill="#c4edfc" />
</g>
<g clip-path="url(#clipE0)">
<polygon points="491.5,282.5 491.5,200 492.3,175 493.3,162 495,159.5 497.4,157.5 502,155.2 507.3,153.9 512,154.6 515.2,156.5 518,161 520,168.5 522,181 523.6,197 525,216 526.3,240 527.2,264 528.2,282.5" fill="url(#stripes)" />
<polygon points="534.6,282.5 536,262 537.2,240 538.4,212 539.8,190 541.6,176.5 544.4,171.5 547,172.2 549.2,176 550.9,191 553.2,212 555.4,240 557.8,262 560.4,282.5" fill="url(#stripes)" />
<polygon points="591.2,282.5 593.5,256 595.8,229 598.2,208 600.2,193 601.5,178 602.6,168 604.6,160.8 608,158.6 613.5,157.6 617.5,158.6 619.5,161.5 621.5,162.5 623.5,159 626.9,154.9 633,153.8 640.2,153.3 646,154.6 650.6,157.8 653,162.5 655,170 656.6,184 658,199.5 659.5,218 661,238 662.3,260 663.4,282.5" fill="url(#stripes)" />
</g>
<g stroke="#fff"><line x1="508.94" y1="153.64" x2="508.94" y2="203.59" stroke-width="0.58" opacity="0.41"/><line x1="492.39" y1="173.36" x2="492.39" y2="206.34" stroke-width="0.45" opacity="0.71"/><line x1="516.65" y1="158.34" x2="516.65" y2="204.92" stroke-width="0.55" opacity="0.65"/><line x1="497.19" y1="157.18" x2="497.19" y2="194.08" stroke-width="0.41" opacity="0.76"/><line x1="494.1" y1="160.32" x2="494.1" y2="219.95" stroke-width="0.38" opacity="0.66"/><line x1="504.03" y1="154.2" x2="504.03" y2="188.98" stroke-width="0.64" opacity="0.36"/><line x1="494.17" y1="160.22" x2="494.17" y2="225.62" stroke-width="0.53" opacity="0.39"/><line x1="525.8" y1="230.23" x2="525.8" y2="247.48" stroke-width="0.5" opacity="0.41"/><line x1="503.16" y1="154.42" x2="503.16" y2="202.2" stroke-width="0.41" opacity="0.66"/><line x1="493.83" y1="160.72" x2="493.83" y2="181.49" stroke-width="0.64" opacity="0.53"/><line x1="506.95" y1="153.49" x2="506.95" y2="199.74" stroke-width="0.52" opacity="0.52"/><line x1="493.09" y1="164.25" x2="493.09" y2="218.33" stroke-width="0.69" opacity="0.79"/><line x1="515.69" y1="156.79" x2="515.69" y2="188.67" stroke-width="0.48" opacity="0.66"/><line x1="516.05" y1="157.37" x2="516.05" y2="174.7" stroke-width="0.43" opacity="0.51"/><line x1="510.26" y1="153.84" x2="510.26" y2="212.95" stroke-width="0.53" opacity="0.36"/><line x1="555.5" y1="240.41" x2="555.5" y2="276.72" stroke-width="0.53" opacity="0.45"/><line x1="545.7" y1="171.35" x2="545.7" y2="205.14" stroke-width="0.62" opacity="0.4"/><line x1="548.74" y1="174.7" x2="548.74" y2="195.89" stroke-width="0.59" opacity="0.37"/><line x1="541.96" y1="175.36" x2="541.96" y2="206.51" stroke-width="0.57" opacity="0.37"/><line x1="546.49" y1="171.56" x2="546.49" y2="194.59" stroke-width="0.45" opacity="0.56"/><line x1="547.03" y1="171.75" x2="547.03" y2="239.6" stroke-width="0.41" opacity="0.77"/><line x1="544.13" y1="171.48" x2="544.13" y2="193.33" stroke-width="0.61" opacity="0.76"/><line x1="541.75" y1="175.73" x2="541.75" y2="232.47" stroke-width="0.47" opacity="0.46"/><line x1="536.09" y1="259.8" x2="536.09" y2="282.5" stroke-width="0.69" opacity="0.8"/><line x1="627.56" y1="154.28" x2="627.56" y2="166.22" stroke-width="0.46" opacity="0.7"/><line x1="650.94" y1="157.96" x2="650.94" y2="206.82" stroke-width="0.43" opacity="0.59"/><line x1="625.69" y1="155.86" x2="625.69" y2="203.98" stroke-width="0.44" opacity="0.78"/><line x1="655.38" y1="172.79" x2="655.38" y2="193.01" stroke-width="0.45" opacity="0.74"/><line x1="611.52" y1="157.46" x2="611.52" y2="224.6" stroke-width="0.53" opacity="0.66"/><line x1="641.87" y1="153.18" x2="641.87" y2="176.52" stroke-width="0.45" opacity="0.46"/><line x1="640.35" y1="152.83" x2="640.35" y2="204.98" stroke-width="0.4" opacity="0.75"/><line x1="621.63" y1="161.78" x2="621.63" y2="186.75" stroke-width="0.5" opacity="0.79"/><line x1="631.57" y1="153.56" x2="631.57" y2="201.54" stroke-width="0.67" opacity="0.78"/><line x1="645.84" y1="154.06" x2="645.84" y2="189.62" stroke-width="0.56" opacity="0.76"/><line x1="647.89" y1="155.42" x2="647.89" y2="200.73" stroke-width="0.47" opacity="0.52"/><line x1="644.09" y1="153.67" x2="644.09" y2="197.97" stroke-width="0.36" opacity="0.67"/><line x1="656.05" y1="178.7" x2="656.05" y2="237.06" stroke-width="0.66" opacity="0.76"/><line x1="629.79" y1="153.88" x2="629.79" y2="211.73" stroke-width="0.48" opacity="0.39"/><line x1="616.85" y1="157.94" x2="616.85" y2="187.16" stroke-width="0.68" opacity="0.66"/><line x1="630.26" y1="153.79" x2="630.26" y2="201.62" stroke-width="0.39" opacity="0.59"/><line x1="641.58" y1="153.11" x2="641.58" y2="187.26" stroke-width="0.44" opacity="0.53"/><line x1="614.74" y1="157.41" x2="614.74" y2="209.03" stroke-width="0.4" opacity="0.39"/><line x1="613.95" y1="157.21" x2="613.95" y2="209.46" stroke-width="0.62" opacity="0.65"/><line x1="658.25" y1="202.1" x2="658.25" y2="234.53" stroke-width="0.36" opacity="0.57"/><line x1="623.29" y1="158.87" x2="623.29" y2="180.13" stroke-width="0.58" opacity="0.5"/><line x1="608.67" y1="157.98" x2="608.67" y2="188.13" stroke-width="0.68" opacity="0.35"/><line x1="617.35" y1="158.06" x2="617.35" y2="185.35" stroke-width="0.42" opacity="0.54"/><line x1="607.39" y1="158.49" x2="607.39" y2="224.13" stroke-width="0.53" opacity="0.66"/><line x1="603.26" y1="165.13" x2="603.26" y2="203.51" stroke-width="0.56" opacity="0.73"/><line x1="609.49" y1="157.83" x2="609.49" y2="195.91" stroke-width="0.65" opacity="0.72"/><line x1="607.9" y1="158.17" x2="607.9" y2="200.95" stroke-width="0.62" opacity="0.53"/><line x1="639.65" y1="152.84" x2="639.65" y2="203.13" stroke-width="0.69" opacity="0.6"/><line x1="640.17" y1="152.8" x2="640.17" y2="184.32" stroke-width="0.61" opacity="0.5"/><line x1="627.29" y1="154.33" x2="627.29" y2="186.48" stroke-width="0.46" opacity="0.41"/><line x1="607.77" y1="158.25" x2="607.77" y2="201.41" stroke-width="0.44" opacity="0.37"/><line x1="648.92" y1="156.13" x2="648.92" y2="183.77" stroke-width="0.68" opacity="0.62"/><line x1="619.4" y1="160.86" x2="619.4" y2="223.74" stroke-width="0.66" opacity="0.49"/><line x1="600.66" y1="187.2" x2="600.66" y2="236.15" stroke-width="0.64" opacity="0.62"/><line x1="492.6" y1="160" x2="492.6" y2="281" stroke-width="0.7" opacity="0.75"/><line x1="493.8" y1="158" x2="493.8" y2="281" stroke-width="0.6" opacity="0.7"/><line x1="495.2" y1="156" x2="495.2" y2="260" stroke-width="0.6" opacity="0.65"/><line x1="496.6" y1="155" x2="496.6" y2="240" stroke-width="0.5" opacity="0.6"/><line x1="498" y1="155" x2="498" y2="215" stroke-width="0.5" opacity="0.55"/><line x1="499.3" y1="154" x2="499.3" y2="200" stroke-width="0.5" opacity="0.5"/><line x1="524.3" y1="200" x2="524.3" y2="281" stroke-width="0.9" opacity="0.7"/><line x1="522.8" y1="185" x2="522.8" y2="281" stroke-width="0.5" opacity="0.5"/><line x1="536.4" y1="235" x2="536.4" y2="281" stroke-width="0.8" opacity="0.7"/><line x1="538.2" y1="220" x2="538.2" y2="281" stroke-width="0.6" opacity="0.6"/><line x1="543" y1="200" x2="543" y2="281" stroke-width="0.8" opacity="0.55"/><line x1="544.6" y1="230" x2="544.6" y2="281" stroke-width="0.6" opacity="0.5"/><line x1="555.2" y1="225" x2="555.2" y2="283" stroke-width="0.8" opacity="0.7"/><line x1="553.6" y1="215" x2="553.6" y2="283" stroke-width="0.5" opacity="0.5"/><line x1="557" y1="245" x2="557" y2="283" stroke-width="0.9" opacity="0.75"/><line x1="558.6" y1="258" x2="558.6" y2="283" stroke-width="0.9" opacity="0.8"/><line x1="526" y1="235" x2="526" y2="283" stroke-width="0.8" opacity="0.7"/><line x1="527.2" y1="255" x2="527.2" y2="283" stroke-width="0.6" opacity="0.7"/><line x1="593.5" y1="230" x2="593.5" y2="281" stroke-width="0.9" opacity="0.7"/><line x1="595.7" y1="215" x2="595.7" y2="281" stroke-width="0.7" opacity="0.6"/><line x1="597.6" y1="200" x2="597.6" y2="270" stroke-width="0.5" opacity="0.5"/><line x1="620.6" y1="158" x2="620.6" y2="235" stroke-width="1" opacity="0.55"/><line x1="622.2" y1="158" x2="622.2" y2="215" stroke-width="0.6" opacity="0.45"/><line x1="661.5" y1="225" x2="661.5" y2="281" stroke-width="0.8" opacity="0.7"/><line x1="659.8" y1="205" x2="659.8" y2="281" stroke-width="0.5" opacity="0.5"/></g>
<clipPath id="clipE"><rect x="491.5" y="121.6" width="186.1" height="160.9"/></clipPath>
<g clip-path="url(#clipE)">
<polyline points="491.42,143.64 492.79,143.93 494.15,143.38 495.51,143.86 496.87,143.55 498.24,143.55 499.6,144.09 500.85,143.65 502.1,143.6 503.35,143.8 504.6,143.89 505.86,143.61 507.11,143.76 508.36,143.37 509.61,143.5 510.86,143.46 512.11,143.22 513.36,143.15 514.61,143.1 515.87,143.43 517.12,143.42 518.58,143.28 520.04,143.27 521.5,142.8 522.96,143.01 524.42,142.7 525.88,142.44 527.34,141.65 528.8,140.89 530.26,139.61 532.01,138.52 533.32,137.08 534.64,136.25 536.09,135.71 537.55,133.72 539.01,133.3 540.47,132.02 542.81,129.81 544.85,128.69 546.9,127.98 548.36,127.96 549.82,127.5 551.08,127.31 552.35,127.21 553.61,127.02 555.07,127.18 556.53,126.92 557.99,127.31 559.45,126.5 560.67,126.7 561.89,126.73 563.1,126.45 564.32,127.45 565.54,126.37 566.75,126.9 568.21,126.77 569.67,127.24 571.13,126.26 572.59,126.95 574.05,126.35 575.51,126.35 576.97,126.07 578.43,126.26 579.89,125.66 581.35,125.78 582.81,125.75 584.27,125.97 585.73,124.81 587.19,125.7 588.65,125.46 589.91,125.1 591.18,125.3 592.45,125.1 594.49,126.21 595.95,127.57 597.12,132.5 598.28,144.18 599.16,152.94 600.33,161.7 601.76,165.58 603.2,169.78 604.6,176.83 606.1,184.18 607.6,195.99 609.1,208.19 610.2,220.03 611.2,231.88 612,238.99 612.7,243.23 613.4,238.08 614.1,228.86 615.2,216.97 616.5,205.37 618,194.05 619.5,184.41 621,176.7 622.4,169.67 623.9,163.45 625.4,157.7 626.9,153.03 628.4,148.69 630.5,145.34 635.5,140.4 636.5,137.64 637.5,137.51 638.5,137.26 639.67,137.65 640.83,135.74 642,133.67 643,135.05 644,133.64 645,135.38 646,134 647,135.95 648,134.75 649,134.35 650,134.32 651,135.79 652,137.01 653,138.18 654,138.01 655,136.81 656,137.4 657,135.45 658,136.6 659,135.3 660,136.8 661,136.09 662,135.29 663,134.08 664,135.24 665,134.99 666,134.16 667,134 668,135.42 669,133.98 670,134.55 671,135.11 672,132.61 673,135.03 674,134.21 675.1,132.68 676.2,132.24 677.3,132.8" fill="none" stroke="#64c882" stroke-width="1.7" stroke-linejoin="round" stroke-linecap="round" />
<polyline points="491.42,143.06 492.3,143.96 493.18,143.85 493.91,143.29 494.64,142.56 495.66,141.88 496.68,142.45 497.41,139.59 498.14,139.28 498.87,137.97 499.6,137.19 500.33,137.2 501.06,137.06 501.79,136.19 502.52,135.24 503.25,136.82 503.98,136.08 504.71,133.07 505.44,133.26 506.17,133.51 506.9,134.47 507.63,136.86 508.36,136.73 509.09,136.75 509.82,139.76 510.55,140.47 511.28,140.98 512.01,142.34 512.74,143.73 513.47,144.76 514.2,145.04 514.93,144.54 515.66,144.99 516.39,142.57 517.12,142.13 517.85,143.28 518.58,145.02 519.31,143.08 520.04,144.1 520.77,142.78 521.5,143.71 522.23,143.72 522.96,142.38 523.69,141.98 524.42,142.2 525.15,141.82 525.88,140.78 526.61,141.36 527.34,143.45 528.07,143.48 528.8,143.73 529.53,145.25 530.26,144.1 530.99,143.88 531.72,143.23 532.45,141.71 533.18,140.26 533.91,140.37 534.64,139.12 535.36,139.95 536.09,140.51 536.82,143.13 537.55,142.62 538.28,143.31 539.01,142.15 539.74,140.21 540.47,139.44 541.2,138.56 541.93,137.87 542.66,136.16 543.39,136.66 544.12,138.15 544.85,138.72 545.58,139.69 546.31,140.64 547.04,139.25 547.77,139.84 548.5,136.35 549.23,136.43 549.96,134.13 550.69,136.05 551.42,135.36 552.15,136.41 552.88,135.6 553.61,135.09 554.34,138.15 555.07,136.77 555.8,136.53 556.53,137.06 557.26,137.08 557.99,135.64 558.72,135.87 559.45,134.03 560.18,136.15 560.91,134.22 561.64,133.48 562.37,132.96 563.25,131.98 564.12,135.49 564.71,143.95 565.58,157.6 566.17,147.23 567.04,138.56 568.21,135.35 568.94,135.07 569.67,134.82 570.4,135.43 571.13,135.59 571.86,134.66 572.59,133.89 573.32,134.97 574.05,134.2 574.78,133.85 575.51,136.29 576.24,134.2 576.97,134.03 577.7,133.36 578.43,132.34 579.16,133.66 579.89,132.45 580.62,132.27 581.35,132.7 582.08,132.48 582.81,131.68 583.54,131.29 584.27,132.63 585,131.34 585.73,130 586.46,131.18 587.19,130.59 587.97,130.21 588.75,130.4 589.53,129.77 590.55,130.96 591.57,129.46 592.59,129.79 593.61,130.76 594.39,129.86 595.17,131.43 595.95,131.04 597.12,134.58 598.28,139.59 599.45,147.23 600.33,152.83 601.2,149.34 602.37,144.2 603.1,141.7 603.83,140.42 604.56,138.57 605.29,134.43 606.17,133.85 607.04,134.33 608.07,133.14 609.09,131.2 610.26,133.81 611.13,136.6 612.3,139.47 613.47,142.09 614.2,142.25 614.93,143.55 615.66,141.12 616.39,139.74 617.12,140.97 617.85,138.01 618.87,137.37 619.89,136.41 620.67,136.53 621.45,135.59 622.23,136.53 623.1,135.8 623.98,137.03 624.85,137.94 625.73,138.3 626.61,139.38 627.48,141.24 628.21,140.73 628.94,143.62 629.67,145.68 630.4,147.74 631.57,152.35 632.74,156.26 633.61,153.45 634.49,150.21 635.66,143.77 636.82,140.79 637.7,137.99 638.58,137.55 639.45,135.97 640.33,135.12 641.11,134.75 641.89,136.25 642.66,134.33 643.44,134.54 644.22,135.89 645,136.22 646.02,135.76 647.04,134.72 648.07,135.83 649.09,137.87 649.87,137.39 650.64,139.59 651.42,140.65 652.3,139.33 653.18,137.45 654.2,139.2 655.22,137.28 656.24,137.05 657.26,136.33 658.28,135.31 659.31,135.24 660.33,135.15 661.35,133.93 662.23,135.96 663.1,137.49 663.83,139.35 664.56,141.21 665.29,143.23 666.02,144.3 666.9,145.46 667.77,145.36 668.65,145.47 669.53,148.3 670.26,148.62 670.99,149.18 672.15,150.75 673.32,146.42 674.49,142.57 675.66,146.13 676.39,143.01 677.12,143.61" fill="none" stroke="#fdae4b" stroke-width="1.8" stroke-linejoin="round" stroke-linecap="round" />
<polyline points="491.42,126.44 492.37,126.6 493.32,127.56 494.27,126.38 495.22,127.49 496.31,126.39 497.41,127.76 498.5,127.21 499.6,127.58 500.57,127.13 501.55,127.93 502.52,128.01 503.61,127.73 504.71,128.06 505.8,127.35 506.9,127.69 507.85,128.01 508.8,127.58 509.74,127.22 510.69,128.25 511.86,127.48 513.03,127.39 514.2,127.92 515.29,127.54 516.39,127.53 517.48,127.47 518.58,128.47 519.67,127.86 520.77,128.22 521.86,128.73 522.96,129.63 524.05,128.69 525.15,128.59 526.24,130.06 527.34,128.36 528.43,129.14 529.53,129.9 530.62,130.92 531.72,129.76 532.88,128.8 534.05,129.9 535.22,129.07 536.17,129.28 537.12,129.81 538.07,129.85 539.01,130.02 540.18,129.21 541.35,129.5 542.52,129.11 543.47,128.37 544.42,128.08 545.36,128.54 546.31,128.35 547.41,127.52 548.5,127.64 549.6,128.17 550.69,127.51 551.79,127.33 552.88,127.5 553.98,127.32 555.07,127.26 556.17,126.32 557.26,127.9 558.36,127.13 559.45,126.58 560.77,127.27 562.08,126.82 562.96,124.64 563.83,126.57 564.71,128.57 565.88,127.61 567.04,127.88 568.21,127.94 569.31,126.58 570.4,126.88 571.5,127.54 572.59,126.49 573.56,127.09 574.54,127.75 575.51,127.59 576.48,127.33 577.46,126.17 578.43,128.03 579.4,127.17 580.38,127.22 581.35,127.05 582.32,126 583.3,126.08 584.27,126.13 585.24,127.59 586.22,126.4 587.19,126.72 588.16,126.76 589.14,127.18 590.11,127.2 591.08,127.14 592.06,126.5 593.03,125.7 594,127.24 594.98,127.33 595.95,127.82 597.12,127.95 598.28,128.45 599.31,129.64 600.33,129.48 601.79,127.96 603.25,126.81 604.71,126.52 606.17,127.04 607.19,126.88 608.21,127.48 609.38,127.66 610.55,128.26 611.52,128.42 612.49,128.99 613.47,128.51 614.44,129.74 615.41,130.38 616.39,132.02 617.55,132.96 618.72,134.2 620.18,133.8 621.2,131.94 622.23,131.53 623.98,130.48 625.73,129.01 626.68,129.36 627.63,128.65 628.58,127.85 629.53,128.48 630.62,128.21 631.72,128.77 632.81,128.66 633.91,129.16 634.88,127.96 635.85,129.76 636.82,129.33 637.92,128.71 639.01,128.61 640.11,129.16 641.2,129.61 642.15,129.35 643.1,129.2 644.05,127.98 645,128.21 646.17,129.62 647.34,129.41 648.5,128.91 649.96,127.16 651.42,128.36 652.4,128.75 653.37,129.94 654.34,129.5 655.51,129.72 656.68,128.91 657.85,127.75 658.8,128.35 659.74,129.91 660.69,128.74 661.64,128.83 662.74,129.8 663.83,129.2 664.93,129.08 666.02,129.69 667.19,127.92 668.36,128.62 669.53,127.66 670.69,127.64 671.86,128.06 672.88,129.83 673.91,130.12 675.36,128.17 677.12,131.93" fill="none" stroke="#60c4f8" stroke-width="1.9" stroke-linejoin="round" stroke-linecap="round" />
</g>
<line x1="548.29" y1="282.5" x2="548.29" y2="278.5" stroke="#000" stroke-width="1.1" />
<line x1="600.54" y1="282.5" x2="600.54" y2="278.5" stroke="#000" stroke-width="1.1" />
<line x1="654.52" y1="282.5" x2="654.52" y2="278.5" stroke="#000" stroke-width="1.1" />
<line x1="491.5" y1="250.32" x2="495.5" y2="250.32" stroke="#000" stroke-width="1.1" />
<line x1="491.5" y1="218.14" x2="495.5" y2="218.14" stroke="#000" stroke-width="1.1" />
<line x1="491.5" y1="185.96" x2="495.5" y2="185.96" stroke="#000" stroke-width="1.1" />
<line x1="491.5" y1="153.78" x2="495.5" y2="153.78" stroke="#000" stroke-width="1.1" />
<line x1="491.5" y1="266.41" x2="493.9" y2="266.41" stroke="#000" stroke-width="1" />
<line x1="491.5" y1="234.23" x2="493.9" y2="234.23" stroke="#000" stroke-width="1" />
<line x1="491.5" y1="202.05" x2="493.9" y2="202.05" stroke="#000" stroke-width="1" />
<line x1="491.5" y1="169.87" x2="493.9" y2="169.87" stroke="#000" stroke-width="1" />
<line x1="491.5" y1="137.69" x2="493.9" y2="137.69" stroke="#000" stroke-width="1" />
<rect x="491.5" y="121.6" width="186.1" height="160.9" fill="none" stroke="#000" stroke-width="1.25"/>
<text x="487.5" y="287" font-size="12.6" fill="#000" text-anchor="end" font-weight="normal" >0</text>
<text x="487.5" y="254.82" font-size="12.6" fill="#000" text-anchor="end" font-weight="normal" >20</text>
<text x="487.5" y="222.64" font-size="12.6" fill="#000" text-anchor="end" font-weight="normal" >40</text>
<text x="487.5" y="190.46" font-size="12.6" fill="#000" text-anchor="end" font-weight="normal" >60</text>
<text x="487.5" y="158.28" font-size="12.6" fill="#000" text-anchor="end" font-weight="normal" >80</text>
<text x="487.5" y="126.1" font-size="12.6" fill="#000" text-anchor="end" font-weight="normal" >100</text>
<text x="491.5" y="297.2" font-size="12.6" fill="#000" text-anchor="middle" font-weight="normal" >3</text>
<text x="548.29" y="297.2" font-size="12.6" fill="#000" text-anchor="middle" font-weight="normal" >5</text>
<text x="600.54" y="297.2" font-size="12.6" fill="#000" text-anchor="middle" font-weight="normal" >8</text>
<text x="654.52" y="297.2" font-size="12.6" fill="#000" text-anchor="middle" font-weight="normal" >13</text>
<text x="677" y="297.2" font-size="12.6" fill="#000" text-anchor="middle" font-weight="normal" >16</text>
<text x="589.6" y="310.6" font-size="14.1" fill="#000" text-anchor="middle" font-weight="normal" >Wavelength (μm)</text>
<text transform="translate(463.8,198) rotate(-90)" font-size="14.1" fill="#000" text-anchor="middle">Emissivity (%)</text>
<text x="454.4" y="127.6" font-size="17" fill="#000" text-anchor="start" font-weight="bold" >e</text>
<line x1="501" y1="242.2" x2="526.2" y2="242.2" stroke="#60c4f8" stroke-width="1.5" />
<line x1="501" y1="256.5" x2="526.2" y2="256.5" stroke="#fdae4b" stroke-width="1.5" />
<line x1="501" y1="270.9" x2="526.2" y2="270.9" stroke="#64c882" stroke-width="1.9" />
<text x="530.6" y="246" font-size="11.8" fill="#000" text-anchor="start" font-weight="normal" >MNTS film</text>
<text x="530.6" y="260.3" font-size="11.8" fill="#000" text-anchor="start" font-weight="normal" >PET film</text>
<text x="530.6" y="274.7" font-size="11.8" fill="#000" text-anchor="start" font-weight="normal" >Silica glass</text>
<radialGradient id="sphB" cx="0.38" cy="0.34" r="0.7"><stop offset="0" stop-color="#d2ecfe"/><stop offset="0.2" stop-color="#7cc6fc"/><stop offset="0.42" stop-color="#1a9efb"/><stop offset="1" stop-color="#0492f9"/></radialGradient><radialGradient id="sphO" cx="0.38" cy="0.34" r="0.7"><stop offset="0" stop-color="#ffe9cf"/><stop offset="0.2" stop-color="#ffbe74"/><stop offset="0.42" stop-color="#ff9216"/><stop offset="1" stop-color="#ff8600"/></radialGradient><linearGradient id="arrG" x1="0" y1="0" x2="1" y2="0"><stop offset="0" stop-color="#b9e4fc"/><stop offset="1" stop-color="#3db1f8"/></linearGradient>
<rect x="43.9" y="389" width="37.1" height="24.4" fill="#d5d5d5" />
<clipPath id="cf0"><rect x="43.9" y="389" width="37.1" height="24.4"/></clipPath>
<rect x="97.5" y="389" width="35.8" height="24.4" fill="#d5d5d5" />
<clipPath id="cf1"><rect x="97.5" y="389" width="35.8" height="24.4"/></clipPath>
<rect x="150.1" y="389" width="36" height="24.4" fill="#d5d5d5" />
<clipPath id="cf2"><rect x="150.1" y="389" width="36" height="24.4"/></clipPath>
<g clip-path="url(#cf0)"><ellipse cx="62.6" cy="401.8" rx="10.65" ry="9.3" fill="#000"/>
<ellipse cx="62.6" cy="413.7" rx="8.6" ry="3.5" fill="#000"/>
<rect x="58.1" y="408.4" width="9" height="3" fill="#000"/>
<ellipse cx="62.4" cy="402.7" rx="4" ry="3.5" fill="#fff" filter="url(#blur04)"/></g>
<g clip-path="url(#cf1)"><ellipse cx="115.6" cy="402.35" rx="10.6" ry="8.75" fill="#000"/>
<ellipse cx="115.6" cy="413.7" rx="9.2" ry="3.5" fill="#000"/>
<rect x="111.1" y="408.4" width="9" height="3" fill="#000"/>
<ellipse cx="115.6" cy="403.6" rx="4.4" ry="3.3" fill="#fff" filter="url(#blur04)"/></g>
<g clip-path="url(#cf2)"><ellipse cx="168.1" cy="402.65" rx="11" ry="8.45" fill="#000"/>
<ellipse cx="168.1" cy="413.7" rx="10.2" ry="3.5" fill="#000"/>
<rect x="163.6" y="408.4" width="9" height="3" fill="#000"/>
<path d="M164.2,404.2 C164.2,400 172,400 172,404.2 C171.6,406.4 169.6,407.2 168.3,409.2 C166.6,407.2 164.6,406.4 164.2,404.2Z" fill="#fff" filter="url(#blur04)"/></g>
<linearGradient id="ag822" gradientUnits="userSpaceOnUse" x1="82.2" y1="0" x2="95.9" y2="0"><stop offset="0" stop-color="#c8eafd"/><stop offset="0.5" stop-color="#7fcdfb"/><stop offset="1" stop-color="#2fa9f8"/></linearGradient><polygon points="82.2,397.5 88.9,397.5 88.9,395.1 95.9,400.2 88.9,405.3 88.9,402.9 82.2,402.9 84,400.2" fill="url(#ag822)"/>
<linearGradient id="ag1348" gradientUnits="userSpaceOnUse" x1="134.8" y1="0" x2="148.6" y2="0"><stop offset="0" stop-color="#c8eafd"/><stop offset="0.5" stop-color="#7fcdfb"/><stop offset="1" stop-color="#2fa9f8"/></linearGradient><polygon points="134.8,397.5 141.6,397.5 141.6,395.1 148.6,400.2 141.6,405.3 141.6,402.9 134.8,402.9 136.6,400.2" fill="url(#ag1348)"/>
<text x="62.3" y="386.7" font-size="11" fill="#000" text-anchor="middle" font-weight="normal" >20 cm</text>
<text x="118.6" y="386.7" font-size="11" fill="#000" text-anchor="middle" font-weight="normal" >300 cm</text>
<text x="169.7" y="386.7" font-size="11" fill="#000" text-anchor="middle" font-weight="normal" >600 cm</text>
<clipPath id="clipF"><rect x="38.1" y="328.1" width="151.6" height="146.8"/></clipPath>
<line x1="38.1" y1="328.1" x2="189.7" y2="328.1" stroke="#000" stroke-width="1.45" />
<line x1="37.5" y1="474.3" x2="190.3" y2="474.3" stroke="#000" stroke-width="1.3" />
<line x1="38.1" y1="327.5" x2="38.1" y2="474.9" stroke="#0e99fb" stroke-width="1.4" />
<line x1="189.7" y1="327.5" x2="189.7" y2="474.9" stroke="#ff8a08" stroke-width="1.4" />
<line x1="46.6" y1="474.3" x2="46.6" y2="471.2" stroke="#000" stroke-width="1.1" />
<line x1="79.6" y1="474.3" x2="79.6" y2="471.2" stroke="#000" stroke-width="1.1" />
<line x1="112.6" y1="474.3" x2="112.6" y2="471.2" stroke="#000" stroke-width="1.1" />
<line x1="145.6" y1="474.3" x2="145.6" y2="471.2" stroke="#000" stroke-width="1.1" />
<line x1="178.6" y1="474.3" x2="178.6" y2="471.2" stroke="#000" stroke-width="1.1" />
<line x1="63.1" y1="474.3" x2="63.1" y2="472.3" stroke="#000" stroke-width="1" />
<line x1="96.1" y1="474.3" x2="96.1" y2="472.3" stroke="#000" stroke-width="1" />
<line x1="129.1" y1="474.3" x2="129.1" y2="472.3" stroke="#000" stroke-width="1" />
<line x1="162.1" y1="474.3" x2="162.1" y2="472.3" stroke="#000" stroke-width="1" />
<line x1="38.1" y1="449.93" x2="41.2" y2="449.93" stroke="#0e99fb" stroke-width="1.1" />
<line x1="38.1" y1="425.57" x2="41.2" y2="425.57" stroke="#0e99fb" stroke-width="1.1" />
<line x1="38.1" y1="401.2" x2="41.2" y2="401.2" stroke="#0e99fb" stroke-width="1.1" />
<line x1="38.1" y1="376.83" x2="41.2" y2="376.83" stroke="#0e99fb" stroke-width="1.1" />
<line x1="38.1" y1="352.47" x2="41.2" y2="352.47" stroke="#0e99fb" stroke-width="1.1" />
<line x1="38.1" y1="462.12" x2="40.1" y2="462.12" stroke="#0e99fb" stroke-width="1" />
<line x1="38.1" y1="437.75" x2="40.1" y2="437.75" stroke="#0e99fb" stroke-width="1" />
<line x1="38.1" y1="413.38" x2="40.1" y2="413.38" stroke="#0e99fb" stroke-width="1" />
<line x1="38.1" y1="389.02" x2="40.1" y2="389.02" stroke="#0e99fb" stroke-width="1" />
<line x1="38.1" y1="364.65" x2="40.1" y2="364.65" stroke="#0e99fb" stroke-width="1" />
<line x1="38.1" y1="340.28" x2="40.1" y2="340.28" stroke="#0e99fb" stroke-width="1" />
<line x1="189.7" y1="459.8" x2="186.6" y2="459.8" stroke="#ff8a08" stroke-width="1.1" />
<line x1="189.7" y1="445.3" x2="186.6" y2="445.3" stroke="#ff8a08" stroke-width="1.1" />
<line x1="189.7" y1="430.8" x2="186.6" y2="430.8" stroke="#ff8a08" stroke-width="1.1" />
<g clip-path="url(#clipF)">
<line x1="56" y1="473.03" x2="63.6" y2="472.77" stroke="#ff8a08" stroke-width="1.55" />
<line x1="73.59" y1="472.28" x2="85.61" y2="471.52" stroke="#ff8a08" stroke-width="1.55" />
<line x1="95.58" y1="470.77" x2="107.62" y2="469.73" stroke="#ff8a08" stroke-width="1.55" />
<line x1="117.36" y1="467.78" x2="129.84" y2="463.82" stroke="#ff8a08" stroke-width="1.55" />
<line x1="138.75" y1="459.51" x2="152.45" y2="450.29" stroke="#ff8a08" stroke-width="1.55" />
<line x1="160.57" y1="444.47" x2="174.63" y2="433.73" stroke="#ff8a08" stroke-width="1.55" />
<circle cx="51" cy="473.2" r="3.6" fill="url(#sphO)"/>
<circle cx="50" cy="472.3" r="0.85" fill="#fff" opacity="0.6"/>
<circle cx="68.6" cy="472.6" r="3.6" fill="url(#sphO)"/>
<circle cx="67.6" cy="471.7" r="0.85" fill="#fff" opacity="0.6"/>
<circle cx="90.6" cy="471.2" r="3.6" fill="url(#sphO)"/>
<circle cx="89.6" cy="470.3" r="0.85" fill="#fff" opacity="0.6"/>
<circle cx="112.6" cy="469.3" r="3.6" fill="url(#sphO)"/>
<circle cx="111.6" cy="468.4" r="0.85" fill="#fff" opacity="0.6"/>
<circle cx="134.6" cy="462.3" r="3.6" fill="url(#sphO)"/>
<circle cx="133.6" cy="461.4" r="0.85" fill="#fff" opacity="0.6"/>
<circle cx="156.6" cy="447.5" r="3.6" fill="url(#sphO)"/>
<circle cx="155.6" cy="446.6" r="0.85" fill="#fff" opacity="0.6"/>
<circle cx="178.6" cy="430.7" r="3.6" fill="url(#sphO)"/>
<circle cx="177.6" cy="429.8" r="0.85" fill="#fff" opacity="0.6"/>
</g>
<line x1="55.98" y1="336.65" x2="63.62" y2="337.35" stroke="#0e99fb" stroke-width="1.55" />
<line x1="73.58" y1="338.23" x2="85.62" y2="339.27" stroke="#0e99fb" stroke-width="1.55" />
<line x1="95.48" y1="340.81" x2="107.72" y2="343.59" stroke="#0e99fb" stroke-width="1.55" />
<line x1="117.48" y1="345.79" x2="129.72" y2="348.51" stroke="#0e99fb" stroke-width="1.55" />
<line x1="139.45" y1="350.83" x2="151.75" y2="353.97" stroke="#0e99fb" stroke-width="1.55" />
<line x1="161.51" y1="356.16" x2="173.69" y2="358.54" stroke="#0e99fb" stroke-width="1.55" />
<circle cx="51" cy="336.2" r="3.6" fill="url(#sphB)"/>
<circle cx="50" cy="335.3" r="0.85" fill="#fff" opacity="0.6"/>
<circle cx="68.6" cy="337.8" r="3.6" fill="url(#sphB)"/>
<circle cx="67.6" cy="336.9" r="0.85" fill="#fff" opacity="0.6"/>
<line x1="90.6" y1="335.6" x2="90.6" y2="343.8" stroke="#0e99fb" stroke-width="1" />
<line x1="88.3" y1="335.6" x2="92.9" y2="335.6" stroke="#0e99fb" stroke-width="1.1" />
<line x1="88.3" y1="343.8" x2="92.9" y2="343.8" stroke="#0e99fb" stroke-width="1.1" />
<circle cx="90.6" cy="339.7" r="3.6" fill="url(#sphB)"/>
<circle cx="89.6" cy="338.8" r="0.85" fill="#fff" opacity="0.6"/>
<circle cx="112.6" cy="344.7" r="3.6" fill="url(#sphB)"/>
<circle cx="111.6" cy="343.8" r="0.85" fill="#fff" opacity="0.6"/>
<line x1="134.6" y1="345.3" x2="134.6" y2="353.9" stroke="#0e99fb" stroke-width="1" />
<line x1="132.3" y1="345.3" x2="136.9" y2="345.3" stroke="#0e99fb" stroke-width="1.1" />
<line x1="132.3" y1="353.9" x2="136.9" y2="353.9" stroke="#0e99fb" stroke-width="1.1" />
<circle cx="134.6" cy="349.6" r="3.6" fill="url(#sphB)"/>
<circle cx="133.6" cy="348.7" r="0.85" fill="#fff" opacity="0.6"/>
<circle cx="156.6" cy="355.2" r="3.6" fill="url(#sphB)"/>
<circle cx="155.6" cy="354.3" r="0.85" fill="#fff" opacity="0.6"/>
<line x1="178.6" y1="355.4" x2="178.6" y2="363.6" stroke="#0e99fb" stroke-width="1" />
<line x1="176.3" y1="355.4" x2="180.9" y2="355.4" stroke="#0e99fb" stroke-width="1.1" />
<line x1="176.3" y1="363.6" x2="180.9" y2="363.6" stroke="#0e99fb" stroke-width="1.1" />
<circle cx="178.6" cy="359.5" r="3.6" fill="url(#sphB)"/>
<circle cx="177.6" cy="358.6" r="0.85" fill="#fff" opacity="0.6"/>
<text x="121.4" y="434.5" font-size="11.4" fill="#000" text-anchor="start" font-weight="normal" >Pinning</text>
<line x1="159.3" y1="430.7" x2="169" y2="430.7" stroke="#000" stroke-width="1.1" />
<polygon points="175,430.7 167.4,427.7 167.4,433.7" fill="#000" />
<text x="34.7" y="478.7" font-size="12.8" fill="#0e99fb" text-anchor="end" font-weight="normal" >40</text>
<text x="34.7" y="454.33" font-size="12.8" fill="#0e99fb" text-anchor="end" font-weight="normal" >60</text>
<text x="34.7" y="429.97" font-size="12.8" fill="#0e99fb" text-anchor="end" font-weight="normal" >80</text>
<text x="34.7" y="405.6" font-size="12.8" fill="#0e99fb" text-anchor="end" font-weight="normal" >100</text>
<text x="34.7" y="381.23" font-size="12.8" fill="#0e99fb" text-anchor="end" font-weight="normal" >120</text>
<text x="34.7" y="356.87" font-size="12.8" fill="#0e99fb" text-anchor="end" font-weight="normal" >140</text>
<text x="34.7" y="332.5" font-size="12.8" fill="#0e99fb" text-anchor="end" font-weight="normal" >160</text>
<text x="193.1" y="478.7" font-size="12.8" fill="#ff8a08" text-anchor="start" font-weight="normal" >0</text>
<text x="193.1" y="464.2" font-size="12.8" fill="#ff8a08" text-anchor="start" font-weight="normal" >30</text>
<text x="193.1" y="449.7" font-size="12.8" fill="#ff8a08" text-anchor="start" font-weight="normal" >60</text>
<text x="193.1" y="435.2" font-size="12.8" fill="#ff8a08" text-anchor="start" font-weight="normal" >90</text>
<text x="46.6" y="488.1" font-size="12.8" fill="#000" text-anchor="middle" font-weight="normal" >0</text>
<text x="79.6" y="488.1" font-size="12.8" fill="#000" text-anchor="middle" font-weight="normal" >150</text>
<text x="112.6" y="488.1" font-size="12.8" fill="#000" text-anchor="middle" font-weight="normal" >300</text>
<text x="145.6" y="488.1" font-size="12.8" fill="#000" text-anchor="middle" font-weight="normal" >450</text>
<text x="178.6" y="488.1" font-size="12.8" fill="#000" text-anchor="middle" font-weight="normal" >600</text>
<text x="120.8" y="502" font-size="13.5" fill="#000" text-anchor="middle" font-weight="normal" >Abrasion distance (cm)</text>
<text transform="translate(9,401.5) rotate(-90)" font-size="12.6" fill="#0e99fb" text-anchor="middle">CA (deg)</text>
<text transform="translate(219.6,401.2) rotate(-90)" font-size="12.6" fill="#ff8a08" text-anchor="middle">SA (deg)</text>
<text x="2.6" y="332" font-size="17" fill="#000" text-anchor="start" font-weight="bold" >f</text>
<rect x="278.3" y="389" width="35.6" height="24.5" fill="#d9d9d9" />
<clipPath id="cg0"><rect x="278.3" y="389" width="35.6" height="24.5"/></clipPath>
<rect x="332.4" y="389" width="35.5" height="24.5" fill="#d9d9d9" />
<clipPath id="cg1"><rect x="332.4" y="389" width="35.5" height="24.5"/></clipPath>
<rect x="385.2" y="389" width="36" height="24.5" fill="#d9d9d9" />
<clipPath id="cg2"><rect x="385.2" y="389" width="36" height="24.5"/></clipPath>
<g clip-path="url(#cg0)"><ellipse cx="295.8" cy="401.95" rx="10.3" ry="9.25" fill="#000"/>
<ellipse cx="295.8" cy="413.8" rx="8.6" ry="3.5" fill="#000"/>
<rect x="291.3" y="408.5" width="9" height="3" fill="#000"/>
<ellipse cx="296.2" cy="402.5" rx="3.8" ry="3.3" fill="#fff" filter="url(#blur04)"/></g>
<g clip-path="url(#cg1)"><ellipse cx="349.9" cy="401.95" rx="10.9" ry="9.25" fill="#000"/>
<ellipse cx="349.9" cy="413.8" rx="8.6" ry="3.5" fill="#000"/>
<rect x="345.4" y="408.5" width="9" height="3" fill="#000"/>
<ellipse cx="350.1" cy="402.5" rx="4.1" ry="3.4" fill="#fff" filter="url(#blur04)"/></g>
<g clip-path="url(#cg2)"><ellipse cx="402.8" cy="401.95" rx="10.6" ry="9.25" fill="#000"/>
<ellipse cx="402.8" cy="413.8" rx="8.6" ry="3.5" fill="#000"/>
<rect x="398.3" y="408.5" width="9" height="3" fill="#000"/>
<ellipse cx="403.1" cy="402.5" rx="4.3" ry="3.3" fill="#fff" filter="url(#blur04)"/></g>
<linearGradient id="ag3160" gradientUnits="userSpaceOnUse" x1="316" y1="0" x2="330.2" y2="0"><stop offset="0" stop-color="#c8eafd"/><stop offset="0.5" stop-color="#7fcdfb"/><stop offset="1" stop-color="#2fa9f8"/></linearGradient><polygon points="316,397.5 323.2,397.5 323.2,395.1 330.2,400.2 323.2,405.3 323.2,402.9 316,402.9 317.8,400.2" fill="url(#ag3160)"/>
<linearGradient id="ag3698" gradientUnits="userSpaceOnUse" x1="369.8" y1="0" x2="383.5" y2="0"><stop offset="0" stop-color="#c8eafd"/><stop offset="0.5" stop-color="#7fcdfb"/><stop offset="1" stop-color="#2fa9f8"/></linearGradient><polygon points="369.8,397.5 376.5,397.5 376.5,395.1 383.5,400.2 376.5,405.3 376.5,402.9 369.8,402.9 371.6,400.2" fill="url(#ag3698)"/>
<text x="295.6" y="386.7" font-size="11" fill="#000" text-anchor="middle" font-weight="normal" >1st</text>
<text x="349.7" y="386.7" font-size="11" fill="#000" text-anchor="middle" font-weight="normal" >40th</text>
<text x="404.8" y="386.7" font-size="11" fill="#000" text-anchor="middle" font-weight="normal" >100th</text>
<line x1="272.4" y1="328.1" x2="424.7" y2="328.1" stroke="#000" stroke-width="1.45" />
<line x1="271.8" y1="474.9" x2="425.3" y2="474.9" stroke="#000" stroke-width="1.3" />
<line x1="272.4" y1="327.5" x2="272.4" y2="475.5" stroke="#0e99fb" stroke-width="1.4" />
<line x1="424.7" y1="327.5" x2="424.7" y2="475.5" stroke="#ff8a08" stroke-width="1.4" />
<line x1="279.2" y1="474.9" x2="279.2" y2="471.8" stroke="#000" stroke-width="1.1" />
<line x1="306.98" y1="474.9" x2="306.98" y2="471.8" stroke="#000" stroke-width="1.1" />
<line x1="334.76" y1="474.9" x2="334.76" y2="471.8" stroke="#000" stroke-width="1.1" />
<line x1="362.54" y1="474.9" x2="362.54" y2="471.8" stroke="#000" stroke-width="1.1" />
<line x1="390.32" y1="474.9" x2="390.32" y2="471.8" stroke="#000" stroke-width="1.1" />
<line x1="418.1" y1="474.9" x2="418.1" y2="471.8" stroke="#000" stroke-width="1.1" />
<line x1="293.09" y1="474.9" x2="293.09" y2="472.9" stroke="#000" stroke-width="1" />
<line x1="320.87" y1="474.9" x2="320.87" y2="472.9" stroke="#000" stroke-width="1" />
<line x1="348.65" y1="474.9" x2="348.65" y2="472.9" stroke="#000" stroke-width="1" />
<line x1="376.43" y1="474.9" x2="376.43" y2="472.9" stroke="#000" stroke-width="1" />
<line x1="404.21" y1="474.9" x2="404.21" y2="472.9" stroke="#000" stroke-width="1" />
<line x1="272.4" y1="445.54" x2="275.5" y2="445.54" stroke="#0e99fb" stroke-width="1.1" />
<line x1="272.4" y1="416.18" x2="275.5" y2="416.18" stroke="#0e99fb" stroke-width="1.1" />
<line x1="272.4" y1="386.82" x2="275.5" y2="386.82" stroke="#0e99fb" stroke-width="1.1" />
<line x1="272.4" y1="357.46" x2="275.5" y2="357.46" stroke="#0e99fb" stroke-width="1.1" />
<line x1="272.4" y1="460.22" x2="274.4" y2="460.22" stroke="#0e99fb" stroke-width="1" />
<line x1="272.4" y1="430.86" x2="274.4" y2="430.86" stroke="#0e99fb" stroke-width="1" />
<line x1="272.4" y1="401.5" x2="274.4" y2="401.5" stroke="#0e99fb" stroke-width="1" />
<line x1="272.4" y1="372.14" x2="274.4" y2="372.14" stroke="#0e99fb" stroke-width="1" />
<line x1="272.4" y1="342.78" x2="274.4" y2="342.78" stroke="#0e99fb" stroke-width="1" />
<line x1="424.7" y1="445.54" x2="421.6" y2="445.54" stroke="#ff8a08" stroke-width="1.1" />
<line x1="424.7" y1="416.18" x2="421.6" y2="416.18" stroke="#ff8a08" stroke-width="1.1" />
<line x1="424.7" y1="386.82" x2="421.6" y2="386.82" stroke="#ff8a08" stroke-width="1.1" />
<line x1="424.7" y1="357.46" x2="421.6" y2="357.46" stroke="#ff8a08" stroke-width="1.1" />
<line x1="424.7" y1="460.22" x2="422.7" y2="460.22" stroke="#ff8a08" stroke-width="1" />
<line x1="424.7" y1="430.86" x2="422.7" y2="430.86" stroke="#ff8a08" stroke-width="1" />
<line x1="424.7" y1="401.5" x2="422.7" y2="401.5" stroke="#ff8a08" stroke-width="1" />
<line x1="424.7" y1="372.14" x2="422.7" y2="372.14" stroke="#ff8a08" stroke-width="1" />
<line x1="424.7" y1="342.78" x2="422.7" y2="342.78" stroke="#ff8a08" stroke-width="1" />
<line x1="285.59" y1="460.48" x2="288.09" y2="460.52" stroke="#ff8a08" stroke-width="1.55" />
<line x1="297.98" y1="459.54" x2="302.09" y2="458.66" stroke="#ff8a08" stroke-width="1.55" />
<line x1="311.93" y1="456.89" x2="315.92" y2="456.31" stroke="#ff8a08" stroke-width="1.55" />
<line x1="325.82" y1="454.89" x2="329.81" y2="454.31" stroke="#ff8a08" stroke-width="1.55" />
<line x1="339.73" y1="453.05" x2="357.57" y2="451.05" stroke="#ff8a08" stroke-width="1.55" />
<line x1="367.54" y1="450.34" x2="385.32" y2="449.76" stroke="#ff8a08" stroke-width="1.55" />
<line x1="395.31" y1="449.24" x2="413.11" y2="447.96" stroke="#ff8a08" stroke-width="1.55" />
<circle cx="280.59" cy="460.4" r="3.6" fill="url(#sphO)"/>
<circle cx="279.59" cy="459.5" r="0.85" fill="#fff" opacity="0.6"/>
<line x1="293.09" y1="457" x2="293.09" y2="464.2" stroke="#ff8a08" stroke-width="1" />
<line x1="290.79" y1="457" x2="295.39" y2="457" stroke="#ff8a08" stroke-width="1.1" />
<line x1="290.79" y1="464.2" x2="295.39" y2="464.2" stroke="#ff8a08" stroke-width="1.1" />
<circle cx="293.09" cy="460.6" r="3.6" fill="url(#sphO)"/>
<circle cx="292.09" cy="459.7" r="0.85" fill="#fff" opacity="0.6"/>
<line x1="306.98" y1="454" x2="306.98" y2="461.2" stroke="#ff8a08" stroke-width="1" />
<line x1="304.68" y1="454" x2="309.28" y2="454" stroke="#ff8a08" stroke-width="1.1" />
<line x1="304.68" y1="461.2" x2="309.28" y2="461.2" stroke="#ff8a08" stroke-width="1.1" />
<circle cx="306.98" cy="457.6" r="3.6" fill="url(#sphO)"/>
<circle cx="305.98" cy="456.7" r="0.85" fill="#fff" opacity="0.6"/>
<circle cx="320.87" cy="455.6" r="3.6" fill="url(#sphO)"/>
<circle cx="319.87" cy="454.7" r="0.85" fill="#fff" opacity="0.6"/>
<line x1="334.76" y1="449.6" x2="334.76" y2="457.6" stroke="#ff8a08" stroke-width="1" />
<line x1="332.46" y1="449.6" x2="337.06" y2="449.6" stroke="#ff8a08" stroke-width="1.1" />
<line x1="332.46" y1="457.6" x2="337.06" y2="457.6" stroke="#ff8a08" stroke-width="1.1" />
<circle cx="334.76" cy="453.6" r="3.6" fill="url(#sphO)"/>
<circle cx="333.76" cy="452.7" r="0.85" fill="#fff" opacity="0.6"/>
<circle cx="362.54" cy="450.5" r="3.6" fill="url(#sphO)"/>
<circle cx="361.54" cy="449.6" r="0.85" fill="#fff" opacity="0.6"/>
<circle cx="390.32" cy="449.6" r="3.6" fill="url(#sphO)"/>
<circle cx="389.32" cy="448.7" r="0.85" fill="#fff" opacity="0.6"/>
<circle cx="418.1" cy="447.6" r="3.6" fill="url(#sphO)"/>
<circle cx="417.1" cy="446.7" r="0.85" fill="#fff" opacity="0.6"/>
<line x1="285.31" y1="344.96" x2="288.37" y2="346.04" stroke="#0e99fb" stroke-width="1.55" />
<line x1="298.06" y1="347.2" x2="302.01" y2="346.8" stroke="#0e99fb" stroke-width="1.55" />
<line x1="311.53" y1="348.37" x2="316.32" y2="350.53" stroke="#0e99fb" stroke-width="1.55" />
<line x1="325.82" y1="351.89" x2="329.81" y2="351.31" stroke="#0e99fb" stroke-width="1.55" />
<line x1="339.65" y1="351.66" x2="357.65" y2="355.54" stroke="#0e99fb" stroke-width="1.55" />
<line x1="367.51" y1="356.06" x2="385.35" y2="354.14" stroke="#0e99fb" stroke-width="1.55" />
<line x1="395.29" y1="354.19" x2="413.13" y2="356.31" stroke="#0e99fb" stroke-width="1.55" />
<line x1="280.59" y1="339.9" x2="280.59" y2="346.7" stroke="#0e99fb" stroke-width="1" />
<line x1="278.29" y1="339.9" x2="282.89" y2="339.9" stroke="#0e99fb" stroke-width="1.1" />
<line x1="278.29" y1="346.7" x2="282.89" y2="346.7" stroke="#0e99fb" stroke-width="1.1" />
<circle cx="280.59" cy="343.3" r="3.6" fill="url(#sphB)"/>
<circle cx="279.59" cy="342.4" r="0.85" fill="#fff" opacity="0.6"/>
<line x1="293.09" y1="343.7" x2="293.09" y2="351.7" stroke="#0e99fb" stroke-width="1" />
<line x1="290.79" y1="343.7" x2="295.39" y2="343.7" stroke="#0e99fb" stroke-width="1.1" />
<line x1="290.79" y1="351.7" x2="295.39" y2="351.7" stroke="#0e99fb" stroke-width="1.1" />
<circle cx="293.09" cy="347.7" r="3.6" fill="url(#sphB)"/>
<circle cx="292.09" cy="346.8" r="0.85" fill="#fff" opacity="0.6"/>
<line x1="306.98" y1="341.3" x2="306.98" y2="351.3" stroke="#0e99fb" stroke-width="1" />
<line x1="304.68" y1="341.3" x2="309.28" y2="341.3" stroke="#0e99fb" stroke-width="1.1" />
<line x1="304.68" y1="351.3" x2="309.28" y2="351.3" stroke="#0e99fb" stroke-width="1.1" />
<circle cx="306.98" cy="346.3" r="3.6" fill="url(#sphB)"/>
<circle cx="305.98" cy="345.4" r="0.85" fill="#fff" opacity="0.6"/>
<line x1="320.87" y1="346.6" x2="320.87" y2="358.6" stroke="#0e99fb" stroke-width="1" />
<line x1="318.57" y1="346.6" x2="323.17" y2="346.6" stroke="#0e99fb" stroke-width="1.1" />
<line x1="318.57" y1="358.6" x2="323.17" y2="358.6" stroke="#0e99fb" stroke-width="1.1" />
<circle cx="320.87" cy="352.6" r="3.6" fill="url(#sphB)"/>
<circle cx="319.87" cy="351.7" r="0.85" fill="#fff" opacity="0.6"/>
<line x1="334.76" y1="344.4" x2="334.76" y2="356.8" stroke="#0e99fb" stroke-width="1" />
<line x1="332.46" y1="344.4" x2="337.06" y2="344.4" stroke="#0e99fb" stroke-width="1.1" />
<line x1="332.46" y1="356.8" x2="337.06" y2="356.8" stroke="#0e99fb" stroke-width="1.1" />
<circle cx="334.76" cy="350.6" r="3.6" fill="url(#sphB)"/>
<circle cx="333.76" cy="349.7" r="0.85" fill="#fff" opacity="0.6"/>
<line x1="362.54" y1="352.2" x2="362.54" y2="361" stroke="#0e99fb" stroke-width="1" />
<line x1="360.24" y1="352.2" x2="364.84" y2="352.2" stroke="#0e99fb" stroke-width="1.1" />
<line x1="360.24" y1="361" x2="364.84" y2="361" stroke="#0e99fb" stroke-width="1.1" />
<circle cx="362.54" cy="356.6" r="3.6" fill="url(#sphB)"/>
<circle cx="361.54" cy="355.7" r="0.85" fill="#fff" opacity="0.6"/>
<line x1="390.32" y1="350.2" x2="390.32" y2="357" stroke="#0e99fb" stroke-width="1" />
<line x1="388.02" y1="350.2" x2="392.62" y2="350.2" stroke="#0e99fb" stroke-width="1.1" />
<line x1="388.02" y1="357" x2="392.62" y2="357" stroke="#0e99fb" stroke-width="1.1" />
<circle cx="390.32" cy="353.6" r="3.6" fill="url(#sphB)"/>
<circle cx="389.32" cy="352.7" r="0.85" fill="#fff" opacity="0.6"/>
<line x1="418.1" y1="350.1" x2="418.1" y2="363.7" stroke="#0e99fb" stroke-width="1" />
<line x1="415.8" y1="350.1" x2="420.4" y2="350.1" stroke="#0e99fb" stroke-width="1.1" />
<line x1="415.8" y1="363.7" x2="420.4" y2="363.7" stroke="#0e99fb" stroke-width="1.1" />
<circle cx="418.1" cy="356.9" r="3.6" fill="url(#sphB)"/>
<circle cx="417.1" cy="356" r="0.85" fill="#fff" opacity="0.6"/>
<text x="269.3" y="479.3" font-size="12.8" fill="#0e99fb" text-anchor="end" font-weight="normal" >110</text>
<text x="269.3" y="449.94" font-size="12.8" fill="#0e99fb" text-anchor="end" font-weight="normal" >120</text>
<text x="269.3" y="420.58" font-size="12.8" fill="#0e99fb" text-anchor="end" font-weight="normal" >130</text>
<text x="269.3" y="391.22" font-size="12.8" fill="#0e99fb" text-anchor="end" font-weight="normal" >140</text>
<text x="269.3" y="361.86" font-size="12.8" fill="#0e99fb" text-anchor="end" font-weight="normal" >150</text>
<text x="269.3" y="332.5" font-size="12.8" fill="#0e99fb" text-anchor="end" font-weight="normal" >160</text>
<text x="428.9" y="479.3" font-size="12.8" fill="#ff8a08" text-anchor="start" font-weight="normal" >0</text>
<text x="428.9" y="449.94" font-size="12.8" fill="#ff8a08" text-anchor="start" font-weight="normal" >3</text>
<text x="428.9" y="420.58" font-size="12.8" fill="#ff8a08" text-anchor="start" font-weight="normal" >6</text>
<text x="428.9" y="391.22" font-size="12.8" fill="#ff8a08" text-anchor="start" font-weight="normal" >9</text>
<text x="428.9" y="361.86" font-size="12.8" fill="#ff8a08" text-anchor="start" font-weight="normal" >12</text>
<text x="428.9" y="332.5" font-size="12.8" fill="#ff8a08" text-anchor="start" font-weight="normal" >15</text>
<text x="279.2" y="488.1" font-size="12.8" fill="#000" text-anchor="middle" font-weight="normal" >0</text>
<text x="306.98" y="488.1" font-size="12.8" fill="#000" text-anchor="middle" font-weight="normal" >20</text>
<text x="334.76" y="488.1" font-size="12.8" fill="#000" text-anchor="middle" font-weight="normal" >40</text>
<text x="362.54" y="488.1" font-size="12.8" fill="#000" text-anchor="middle" font-weight="normal" >60</text>
<text x="390.32" y="488.1" font-size="12.8" fill="#000" text-anchor="middle" font-weight="normal" >80</text>
<text x="418.1" y="488.1" font-size="12.8" fill="#000" text-anchor="middle" font-weight="normal" >100</text>
<text x="355" y="502.2" font-size="13.5" fill="#000" text-anchor="middle" font-weight="normal" >Tape-peeling cycles</text>
<text transform="translate(242.6,401.5) rotate(-90)" font-size="12.6" fill="#0e99fb" text-anchor="middle">CA (deg)</text>
<text transform="translate(454.3,401.2) rotate(-90)" font-size="12.6" fill="#ff8a08" text-anchor="middle">SA (deg)</text>
<text x="236.3" y="328" font-size="17" fill="#000" text-anchor="start" font-weight="bold" >g</text>
<rect x="512" y="390" width="36.7" height="23.5" fill="#e5e5e5" />
<clipPath id="ch0"><rect x="512" y="390" width="36.7" height="23.5"/></clipPath>
<rect x="563.6" y="390" width="36.5" height="23.5" fill="#e5e5e5" />
<clipPath id="ch1"><rect x="563.6" y="390" width="36.5" height="23.5"/></clipPath>
<rect x="616" y="390" width="36.1" height="23.5" fill="#e5e5e5" />
<clipPath id="ch2"><rect x="616" y="390" width="36.1" height="23.5"/></clipPath>
<g clip-path="url(#ch0)"><ellipse cx="531" cy="402.25" rx="10.9" ry="8.95" fill="#000"/>
<ellipse cx="531" cy="413.8" rx="8.6" ry="3.5" fill="#000"/>
<rect x="526.5" y="408.5" width="9" height="3" fill="#000"/>
<g filter="url(#blur04)"><ellipse cx="531" cy="401.9" rx="3.03" ry="2.4" fill="#fff"/><ellipse cx="531" cy="405.1" rx="2.74" ry="2.48" fill="#fff"/></g></g>
<g clip-path="url(#ch1)"><ellipse cx="582.2" cy="402.25" rx="10.7" ry="8.95" fill="#000"/>
<ellipse cx="582.2" cy="413.8" rx="8.6" ry="3.5" fill="#000"/>
<rect x="577.7" y="408.5" width="9" height="3" fill="#000"/>
<ellipse cx="582.4" cy="403.2" rx="3.8" ry="3" fill="#fff" filter="url(#blur04)"/></g>
<g clip-path="url(#ch2)"><ellipse cx="634.2" cy="402.25" rx="10.6" ry="8.95" fill="#000"/>
<ellipse cx="634.2" cy="413.8" rx="8.6" ry="3.5" fill="#000"/>
<rect x="629.7" y="408.5" width="9" height="3" fill="#000"/>
<ellipse cx="633" cy="403" rx="3.6" ry="3.6" fill="#fff" filter="url(#blur04)"/></g>
<linearGradient id="ag5499" gradientUnits="userSpaceOnUse" x1="549.9" y1="0" x2="562.4" y2="0"><stop offset="0" stop-color="#c8eafd"/><stop offset="0.5" stop-color="#7fcdfb"/><stop offset="1" stop-color="#2fa9f8"/></linearGradient><polygon points="549.9,397.7 555.4,397.7 555.4,395.3 562.4,400.4 555.4,405.5 555.4,403.1 549.9,403.1 551.7,400.4" fill="url(#ag5499)"/>
<linearGradient id="ag6013" gradientUnits="userSpaceOnUse" x1="601.3" y1="0" x2="614.5" y2="0"><stop offset="0" stop-color="#c8eafd"/><stop offset="0.5" stop-color="#7fcdfb"/><stop offset="1" stop-color="#2fa9f8"/></linearGradient><polygon points="601.3,397.7 607.5,397.7 607.5,395.3 614.5,400.4 607.5,405.5 607.5,403.1 601.3,403.1 603.1,400.4" fill="url(#ag6013)"/>
<text x="533" y="386.7" font-size="11" fill="#000" text-anchor="middle" font-weight="normal" >Day 4</text>
<text x="583.1" y="386.7" font-size="11" fill="#000" text-anchor="middle" font-weight="normal" >Day 16</text>
<text x="632.7" y="386.7" font-size="11" fill="#000" text-anchor="middle" font-weight="normal" >Day 28</text>
<line x1="506.5" y1="328.1" x2="656.9" y2="328.1" stroke="#000" stroke-width="1.45" />
<line x1="505.9" y1="474.4" x2="657.5" y2="474.4" stroke="#000" stroke-width="1.3" />
<line x1="506.5" y1="327.5" x2="506.5" y2="475" stroke="#0e99fb" stroke-width="1.4" />
<line x1="656.9" y1="327.5" x2="656.9" y2="475" stroke="#ff8a08" stroke-width="1.4" />
<line x1="521.6" y1="474.4" x2="521.6" y2="471.3" stroke="#000" stroke-width="1.1" />
<line x1="541.78" y1="474.4" x2="541.78" y2="471.3" stroke="#000" stroke-width="1.1" />
<line x1="561.97" y1="474.4" x2="561.97" y2="471.3" stroke="#000" stroke-width="1.1" />
<line x1="582.15" y1="474.4" x2="582.15" y2="471.3" stroke="#000" stroke-width="1.1" />
<line x1="602.34" y1="474.4" x2="602.34" y2="471.3" stroke="#000" stroke-width="1.1" />
<line x1="622.52" y1="474.4" x2="622.52" y2="471.3" stroke="#000" stroke-width="1.1" />
<line x1="642.7" y1="474.4" x2="642.7" y2="471.3" stroke="#000" stroke-width="1.1" />
<line x1="506.5" y1="445.14" x2="509.6" y2="445.14" stroke="#0e99fb" stroke-width="1.1" />
<line x1="506.5" y1="415.88" x2="509.6" y2="415.88" stroke="#0e99fb" stroke-width="1.1" />
<line x1="506.5" y1="386.62" x2="509.6" y2="386.62" stroke="#0e99fb" stroke-width="1.1" />
<line x1="506.5" y1="357.36" x2="509.6" y2="357.36" stroke="#0e99fb" stroke-width="1.1" />
<line x1="506.5" y1="459.77" x2="508.5" y2="459.77" stroke="#0e99fb" stroke-width="1" />
<line x1="506.5" y1="430.51" x2="508.5" y2="430.51" stroke="#0e99fb" stroke-width="1" />
<line x1="506.5" y1="401.25" x2="508.5" y2="401.25" stroke="#0e99fb" stroke-width="1" />
<line x1="506.5" y1="371.99" x2="508.5" y2="371.99" stroke="#0e99fb" stroke-width="1" />
<line x1="506.5" y1="342.73" x2="508.5" y2="342.73" stroke="#0e99fb" stroke-width="1" />
<line x1="656.9" y1="437.82" x2="653.8" y2="437.82" stroke="#ff8a08" stroke-width="1.1" />
<line x1="656.9" y1="401.25" x2="653.8" y2="401.25" stroke="#ff8a08" stroke-width="1.1" />
<line x1="656.9" y1="364.68" x2="653.8" y2="364.68" stroke="#ff8a08" stroke-width="1.1" />
<line x1="656.9" y1="456.11" x2="654.9" y2="456.11" stroke="#ff8a08" stroke-width="1" />
<line x1="656.9" y1="419.54" x2="654.9" y2="419.54" stroke="#ff8a08" stroke-width="1" />
<line x1="656.9" y1="382.96" x2="654.9" y2="382.96" stroke="#ff8a08" stroke-width="1" />
<line x1="656.9" y1="346.39" x2="654.9" y2="346.39" stroke="#ff8a08" stroke-width="1" />
<line x1="526.59" y1="457.05" x2="536.8" y2="456.35" stroke="#ff8a08" stroke-width="1.55" />
<line x1="546.78" y1="456.1" x2="556.97" y2="456.3" stroke="#ff8a08" stroke-width="1.55" />
<line x1="566.97" y1="456.4" x2="577.15" y2="456.4" stroke="#ff8a08" stroke-width="1.55" />
<line x1="587.14" y1="456" x2="597.35" y2="455.2" stroke="#ff8a08" stroke-width="1.55" />
<line x1="607.34" y1="454.8" x2="617.52" y2="454.8" stroke="#ff8a08" stroke-width="1.55" />
<line x1="627.52" y1="454.8" x2="637.7" y2="454.8" stroke="#ff8a08" stroke-width="1.55" />
<circle cx="521.6" cy="457.4" r="3.6" fill="url(#sphO)"/>
<circle cx="520.6" cy="456.5" r="0.85" fill="#fff" opacity="0.6"/>
<circle cx="541.78" cy="456" r="3.6" fill="url(#sphO)"/>
<circle cx="540.78" cy="455.1" r="0.85" fill="#fff" opacity="0.6"/>
<circle cx="561.97" cy="456.4" r="3.6" fill="url(#sphO)"/>
<circle cx="560.97" cy="455.5" r="0.85" fill="#fff" opacity="0.6"/>
<circle cx="582.15" cy="456.4" r="3.6" fill="url(#sphO)"/>
<circle cx="581.15" cy="455.5" r="0.85" fill="#fff" opacity="0.6"/>
<circle cx="602.34" cy="454.8" r="3.6" fill="url(#sphO)"/>
<circle cx="601.34" cy="453.9" r="0.85" fill="#fff" opacity="0.6"/>
<circle cx="622.52" cy="454.8" r="3.6" fill="url(#sphO)"/>
<circle cx="621.52" cy="453.9" r="0.85" fill="#fff" opacity="0.6"/>
<circle cx="642.7" cy="454.8" r="3.6" fill="url(#sphO)"/>
<circle cx="641.7" cy="453.9" r="0.85" fill="#fff" opacity="0.6"/>
<line x1="526.6" y1="347.25" x2="536.79" y2="347.55" stroke="#0e99fb" stroke-width="1.55" />
<line x1="546.78" y1="347.6" x2="556.97" y2="347.4" stroke="#0e99fb" stroke-width="1.55" />
<line x1="566.97" y1="347.4" x2="577.15" y2="347.6" stroke="#0e99fb" stroke-width="1.55" />
<line x1="587.15" y1="347.92" x2="597.34" y2="348.38" stroke="#0e99fb" stroke-width="1.55" />
<line x1="607.31" y1="349.09" x2="617.54" y2="350.11" stroke="#0e99fb" stroke-width="1.55" />
<line x1="627.51" y1="350.85" x2="637.71" y2="351.35" stroke="#0e99fb" stroke-width="1.55" />
<line x1="521.6" y1="341.7" x2="521.6" y2="352.5" stroke="#0e99fb" stroke-width="1" />
<line x1="519.3" y1="341.7" x2="523.9" y2="341.7" stroke="#0e99fb" stroke-width="1.1" />
<line x1="519.3" y1="352.5" x2="523.9" y2="352.5" stroke="#0e99fb" stroke-width="1.1" />
<circle cx="521.6" cy="347.1" r="3.6" fill="url(#sphB)"/>
<circle cx="520.6" cy="346.2" r="0.85" fill="#fff" opacity="0.6"/>
<line x1="541.78" y1="344.1" x2="541.78" y2="351.3" stroke="#0e99fb" stroke-width="1" />
<line x1="539.48" y1="344.1" x2="544.08" y2="344.1" stroke="#0e99fb" stroke-width="1.1" />
<line x1="539.48" y1="351.3" x2="544.08" y2="351.3" stroke="#0e99fb" stroke-width="1.1" />
<circle cx="541.78" cy="347.7" r="3.6" fill="url(#sphB)"/>
<circle cx="540.78" cy="346.8" r="0.85" fill="#fff" opacity="0.6"/>
<circle cx="561.97" cy="347.3" r="3.6" fill="url(#sphB)"/>
<circle cx="560.97" cy="346.4" r="0.85" fill="#fff" opacity="0.6"/>
<line x1="582.15" y1="343.1" x2="582.15" y2="352.3" stroke="#0e99fb" stroke-width="1" />
<line x1="579.85" y1="343.1" x2="584.45" y2="343.1" stroke="#0e99fb" stroke-width="1.1" />
<line x1="579.85" y1="352.3" x2="584.45" y2="352.3" stroke="#0e99fb" stroke-width="1.1" />
<circle cx="582.15" cy="347.7" r="3.6" fill="url(#sphB)"/>
<circle cx="581.15" cy="346.8" r="0.85" fill="#fff" opacity="0.6"/>
<line x1="602.34" y1="342" x2="602.34" y2="355.2" stroke="#0e99fb" stroke-width="1" />
<line x1="600.04" y1="342" x2="604.64" y2="342" stroke="#0e99fb" stroke-width="1.1" />
<line x1="600.04" y1="355.2" x2="604.64" y2="355.2" stroke="#0e99fb" stroke-width="1.1" />
<circle cx="602.34" cy="348.6" r="3.6" fill="url(#sphB)"/>
<circle cx="601.34" cy="347.7" r="0.85" fill="#fff" opacity="0.6"/>
<line x1="622.52" y1="342" x2="622.52" y2="359.2" stroke="#0e99fb" stroke-width="1" />
<line x1="620.22" y1="342" x2="624.82" y2="342" stroke="#0e99fb" stroke-width="1.1" />
<line x1="620.22" y1="359.2" x2="624.82" y2="359.2" stroke="#0e99fb" stroke-width="1.1" />
<circle cx="622.52" cy="350.6" r="3.6" fill="url(#sphB)"/>
<circle cx="621.52" cy="349.7" r="0.85" fill="#fff" opacity="0.6"/>
<line x1="642.7" y1="344" x2="642.7" y2="359.2" stroke="#0e99fb" stroke-width="1" />
<line x1="640.4" y1="344" x2="645" y2="344" stroke="#0e99fb" stroke-width="1.1" />
<line x1="640.4" y1="359.2" x2="645" y2="359.2" stroke="#0e99fb" stroke-width="1.1" />
<circle cx="642.7" cy="351.6" r="3.6" fill="url(#sphB)"/>
<circle cx="641.7" cy="350.7" r="0.85" fill="#fff" opacity="0.6"/>
<text x="503.4" y="478.8" font-size="12.8" fill="#0e99fb" text-anchor="end" font-weight="normal" >110</text>
<text x="503.4" y="449.54" font-size="12.8" fill="#0e99fb" text-anchor="end" font-weight="normal" >120</text>
<text x="503.4" y="420.28" font-size="12.8" fill="#0e99fb" text-anchor="end" font-weight="normal" >130</text>
<text x="503.4" y="391.02" font-size="12.8" fill="#0e99fb" text-anchor="end" font-weight="normal" >140</text>
<text x="503.4" y="361.76" font-size="12.8" fill="#0e99fb" text-anchor="end" font-weight="normal" >150</text>
<text x="503.4" y="332.5" font-size="12.8" fill="#0e99fb" text-anchor="end" font-weight="normal" >160</text>
<text x="661.1" y="478.8" font-size="12.8" fill="#ff8a08" text-anchor="start" font-weight="normal" >0</text>
<text x="661.1" y="442.22" font-size="12.8" fill="#ff8a08" text-anchor="start" font-weight="normal" >3</text>
<text x="661.1" y="405.65" font-size="12.8" fill="#ff8a08" text-anchor="start" font-weight="normal" >6</text>
<text x="661.1" y="369.07" font-size="12.8" fill="#ff8a08" text-anchor="start" font-weight="normal" >9</text>
<text x="661.1" y="332.5" font-size="12.8" fill="#ff8a08" text-anchor="start" font-weight="normal" >12</text>
<text x="521.6" y="488.1" font-size="12.8" fill="#000" text-anchor="middle" font-weight="normal" >4</text>
<text x="541.78" y="488.1" font-size="12.8" fill="#000" text-anchor="middle" font-weight="normal" >8</text>
<text x="561.97" y="488.1" font-size="12.8" fill="#000" text-anchor="middle" font-weight="normal" >12</text>
<text x="582.15" y="488.1" font-size="12.8" fill="#000" text-anchor="middle" font-weight="normal" >16</text>
<text x="602.34" y="488.1" font-size="12.8" fill="#000" text-anchor="middle" font-weight="normal" >20</text>
<text x="622.52" y="488.1" font-size="12.8" fill="#000" text-anchor="middle" font-weight="normal" >24</text>
<text x="642.7" y="488.1" font-size="12.8" fill="#000" text-anchor="middle" font-weight="normal" >28</text>
<text x="582.2" y="501.2" font-size="13.5" fill="#000" text-anchor="middle" font-weight="normal" >UV exposure time (day)</text>
<text transform="translate(477.8,401.5) rotate(-90)" font-size="12.6" fill="#0e99fb" text-anchor="middle">CA (deg)</text>
<text transform="translate(682.4,401.2) rotate(-90)" font-size="12.6" fill="#ff8a08" text-anchor="middle">SA (deg)</text>
<text x="470.6" y="329.8" font-size="17" fill="#000" text-anchor="start" font-weight="bold" >h</text>
</svg>
</body></html>
